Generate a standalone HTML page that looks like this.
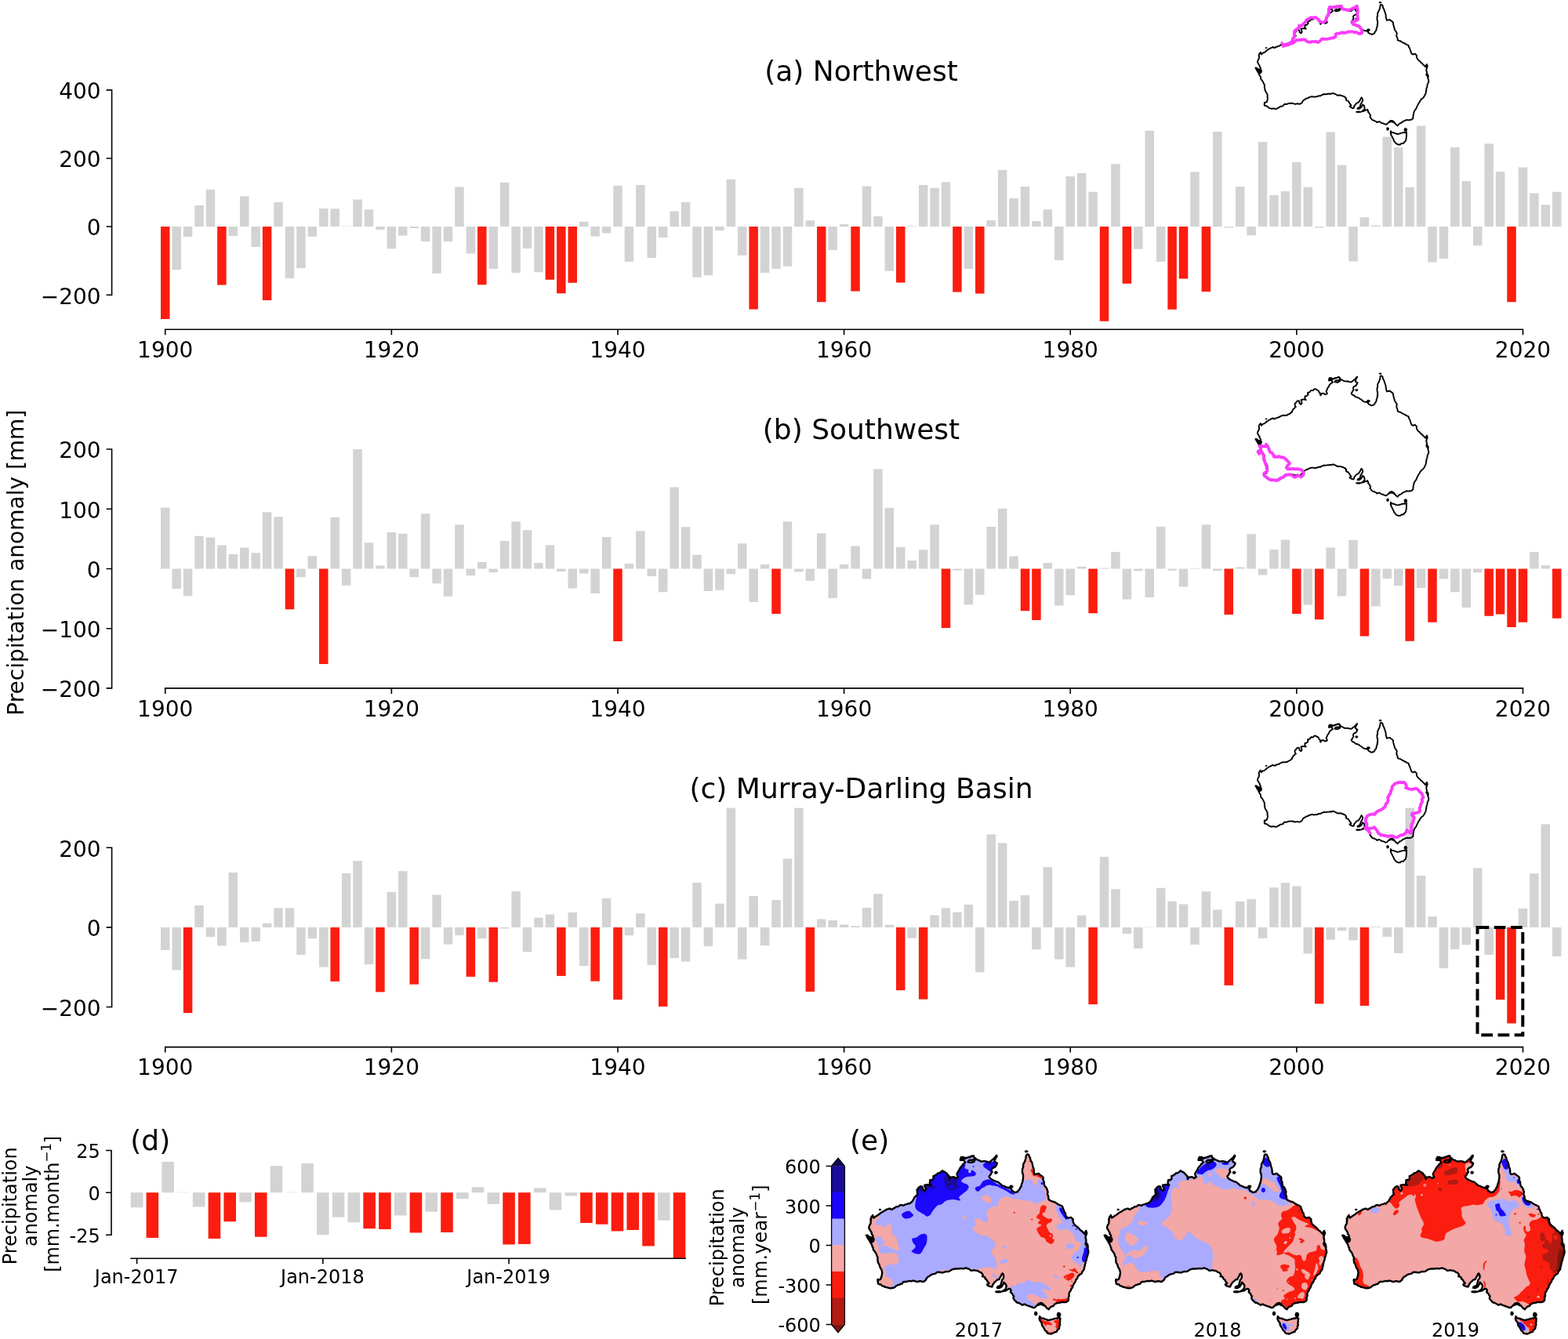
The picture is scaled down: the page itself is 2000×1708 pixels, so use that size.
<!DOCTYPE html>
<html lang="en">
<head>
<meta charset="utf-8">
<title>Precipitation anomaly &#8211; Australia</title>
<style>
html,body{margin:0;padding:0;background:#fff;}
body{width:2000px;height:1708px;overflow:hidden;}
svg{display:block;font-family:"DejaVu Sans", "Liberation Sans", sans-serif;fill:#000;}
</style>
</head>
<body>
<svg width="2000" height="1708" viewBox="0 0 2000 1708">
<rect x="0" y="0" width="2000" height="1708" fill="#fff"/>
<g id="panel-a">
<g fill="#d3d3d3"><rect x="219.43" y="289" width="11.5" height="55"/><rect x="233.86" y="289" width="11.5" height="13"/><rect x="248.29" y="262" width="11.5" height="27"/><rect x="262.72" y="241.75" width="11.5" height="47.25"/><rect x="291.59" y="289" width="11.5" height="12"/><rect x="306.02" y="250.25" width="11.5" height="38.75"/><rect x="320.45" y="289" width="11.5" height="26"/><rect x="349.31" y="258" width="11.5" height="31"/><rect x="363.74" y="289" width="11.5" height="66"/><rect x="378.17" y="289" width="11.5" height="53"/><rect x="392.6" y="289" width="11.5" height="12.75"/><rect x="407.03" y="266" width="11.5" height="23"/><rect x="421.46" y="266.25" width="11.5" height="22.75"/><rect x="435.9" y="288.5" width="11.5" height="0.5"/><rect x="450.33" y="254.5" width="11.5" height="34.5"/><rect x="464.76" y="267.25" width="11.5" height="21.75"/><rect x="479.19" y="289" width="11.5" height="4"/><rect x="493.62" y="289" width="11.5" height="28.25"/><rect x="508.05" y="289" width="11.5" height="11.5"/><rect x="522.48" y="289" width="11.5" height="2"/><rect x="536.91" y="289" width="11.5" height="19"/><rect x="551.34" y="289" width="11.5" height="59.75"/><rect x="565.77" y="289" width="11.5" height="19"/><rect x="580.21" y="238.5" width="11.5" height="50.5"/><rect x="594.64" y="289" width="11.5" height="34.5"/><rect x="623.5" y="289" width="11.5" height="54"/><rect x="637.93" y="232.75" width="11.5" height="56.25"/><rect x="652.36" y="289" width="11.5" height="59"/><rect x="666.79" y="289" width="11.5" height="28"/><rect x="681.22" y="289" width="11.5" height="58.25"/><rect x="738.95" y="282.75" width="11.5" height="6.25"/><rect x="753.38" y="289" width="11.5" height="12.5"/><rect x="767.81" y="289" width="11.5" height="8.5"/><rect x="782.24" y="236.75" width="11.5" height="52.25"/><rect x="796.67" y="289" width="11.5" height="44.75"/><rect x="811.1" y="236" width="11.5" height="53"/><rect x="825.53" y="289" width="11.5" height="40"/><rect x="839.96" y="289" width="11.5" height="14"/><rect x="854.39" y="269.5" width="11.5" height="19.5"/><rect x="868.83" y="257.75" width="11.5" height="31.25"/><rect x="883.26" y="289" width="11.5" height="64.75"/><rect x="897.69" y="289" width="11.5" height="62.25"/><rect x="912.12" y="289" width="11.5" height="5"/><rect x="926.55" y="228.75" width="11.5" height="60.25"/><rect x="940.98" y="289" width="11.5" height="36.75"/><rect x="969.84" y="289" width="11.5" height="59"/><rect x="984.27" y="289" width="11.5" height="54"/><rect x="998.7" y="289" width="11.5" height="50.75"/><rect x="1013.14" y="239.75" width="11.5" height="49.25"/><rect x="1027.57" y="281.25" width="11.5" height="7.75"/><rect x="1056.43" y="289" width="11.5" height="30"/><rect x="1070.86" y="286" width="11.5" height="3"/><rect x="1099.72" y="237.5" width="11.5" height="51.5"/><rect x="1114.15" y="276" width="11.5" height="13"/><rect x="1128.58" y="289" width="11.5" height="56.75"/><rect x="1157.45" y="288.25" width="11.5" height="0.75"/><rect x="1171.88" y="236" width="11.5" height="53"/><rect x="1186.31" y="239.75" width="11.5" height="49.25"/><rect x="1200.74" y="232.25" width="11.5" height="56.75"/><rect x="1229.6" y="289" width="11.5" height="54"/><rect x="1258.46" y="281" width="11.5" height="8"/><rect x="1272.89" y="216.75" width="11.5" height="72.25"/><rect x="1287.33" y="253" width="11.5" height="36"/><rect x="1301.76" y="238" width="11.5" height="51"/><rect x="1316.19" y="282" width="11.5" height="7"/><rect x="1330.62" y="267.25" width="11.5" height="21.75"/><rect x="1345.05" y="289" width="11.5" height="43"/><rect x="1359.48" y="225" width="11.5" height="64"/><rect x="1373.91" y="220.75" width="11.5" height="68.25"/><rect x="1388.34" y="244.75" width="11.5" height="44.25"/><rect x="1417.2" y="209.25" width="11.5" height="79.75"/><rect x="1446.07" y="289" width="11.5" height="28.75"/><rect x="1460.5" y="166.75" width="11.5" height="122.25"/><rect x="1474.93" y="289" width="11.5" height="44.75"/><rect x="1518.22" y="219.25" width="11.5" height="69.75"/><rect x="1547.08" y="168" width="11.5" height="121"/><rect x="1561.51" y="289" width="11.5" height="1.5"/><rect x="1575.94" y="238" width="11.5" height="51"/><rect x="1590.38" y="289" width="11.5" height="11.25"/><rect x="1604.81" y="181" width="11.5" height="108"/><rect x="1619.24" y="249" width="11.5" height="40"/><rect x="1633.67" y="244" width="11.5" height="45"/><rect x="1648.1" y="206.75" width="11.5" height="82.25"/><rect x="1662.53" y="238.75" width="11.5" height="50.25"/><rect x="1676.96" y="289" width="11.5" height="1.5"/><rect x="1691.39" y="168.5" width="11.5" height="120.5"/><rect x="1705.82" y="210.5" width="11.5" height="78.5"/><rect x="1720.25" y="289" width="11.5" height="44.5"/><rect x="1734.69" y="277.25" width="11.5" height="11.75"/><rect x="1749.12" y="287.5" width="11.5" height="1.5"/><rect x="1763.55" y="174.5" width="11.5" height="114.5"/><rect x="1777.98" y="188" width="11.5" height="101"/><rect x="1792.41" y="238.75" width="11.5" height="50.25"/><rect x="1806.84" y="160.5" width="11.5" height="128.5"/><rect x="1821.27" y="289" width="11.5" height="45.5"/><rect x="1835.7" y="289" width="11.5" height="41"/><rect x="1850.13" y="188" width="11.5" height="101"/><rect x="1864.56" y="231" width="11.5" height="58"/><rect x="1879" y="289" width="11.5" height="24.25"/><rect x="1893.43" y="183.25" width="11.5" height="105.75"/><rect x="1907.86" y="219" width="11.5" height="70"/><rect x="1936.72" y="213.5" width="11.5" height="75.5"/><rect x="1951.15" y="246.5" width="11.5" height="42.5"/><rect x="1965.58" y="261.25" width="11.5" height="27.75"/><rect x="1980.01" y="244.75" width="11.5" height="44.25"/></g>
<g fill="#fb1d0f"><rect x="205" y="289" width="11.5" height="118"/><rect x="277.15" y="289" width="11.5" height="74.5"/><rect x="334.88" y="289" width="11.5" height="94"/><rect x="609.07" y="289" width="11.5" height="74.25"/><rect x="695.65" y="289" width="11.5" height="67.75"/><rect x="710.09" y="289" width="11.5" height="85.25"/><rect x="724.52" y="289" width="11.5" height="71.75"/><rect x="955.41" y="289" width="11.5" height="105.5"/><rect x="1042" y="289" width="11.5" height="96.25"/><rect x="1085.29" y="289" width="11.5" height="82.5"/><rect x="1143.01" y="289" width="11.5" height="71.5"/><rect x="1215.17" y="289" width="11.5" height="83.5"/><rect x="1244.03" y="289" width="11.5" height="85.5"/><rect x="1402.77" y="289" width="11.5" height="120.75"/><rect x="1431.63" y="289" width="11.5" height="72.75"/><rect x="1489.36" y="289" width="11.5" height="105.75"/><rect x="1503.79" y="289" width="11.5" height="66.5"/><rect x="1532.65" y="289" width="11.5" height="83"/><rect x="1922.29" y="289" width="11.5" height="96.25"/></g>
<path d="M142.6 114.1V377M135.6 114.9H142.6M135.6 202H142.6M135.6 289H142.6M135.6 376.2H142.6M209.95 420.3H1943.27M210.75 420.3V427.3M499.37 420.3V427.3M787.99 420.3V427.3M1076.61 420.3V427.3M1365.23 420.3V427.3M1653.85 420.3V427.3M1942.47 420.3V427.3" fill="none" stroke="#000" stroke-width="1.6"/>
<g font-size="28" text-anchor="end">
<text x="128.6" y="126.2">400</text>
<text x="128.6" y="213.3">200</text>
<text x="128.6" y="300.3">0</text>
<text x="128.6" y="387.5">−200</text>
</g>
<g font-size="28" text-anchor="middle">
<text x="210.75" y="455.9">1900</text>
<text x="499.37" y="455.9">1920</text>
<text x="787.99" y="455.9">1940</text>
<text x="1076.61" y="455.9">1960</text>
<text x="1365.23" y="455.9">1980</text>
<text x="1653.85" y="455.9">2000</text>
<text x="1942.47" y="455.9">2020</text>
</g>
<text x="1098.5" y="102.8" font-size="36" text-anchor="middle">(a) Northwest</text>
</g>
<g id="panel-b">
<g fill="#d3d3d3"><rect x="205" y="647.5" width="11.5" height="78"/><rect x="219.43" y="725.5" width="11.5" height="25.5"/><rect x="233.86" y="725.5" width="11.5" height="34.75"/><rect x="248.29" y="683.75" width="11.5" height="41.75"/><rect x="262.72" y="685.5" width="11.5" height="40"/><rect x="277.15" y="695.5" width="11.5" height="30"/><rect x="291.59" y="707" width="11.5" height="18.5"/><rect x="306.02" y="698.5" width="11.5" height="27"/><rect x="320.45" y="705.25" width="11.5" height="20.25"/><rect x="334.88" y="653.25" width="11.5" height="72.25"/><rect x="349.31" y="659.25" width="11.5" height="66.25"/><rect x="378.17" y="725.5" width="11.5" height="10.75"/><rect x="392.6" y="709.25" width="11.5" height="16.25"/><rect x="421.46" y="659.75" width="11.5" height="65.75"/><rect x="435.9" y="725.5" width="11.5" height="21.25"/><rect x="450.33" y="573" width="11.5" height="152.5"/><rect x="464.76" y="692.25" width="11.5" height="33.25"/><rect x="479.19" y="721.5" width="11.5" height="4"/><rect x="493.62" y="679" width="11.5" height="46.5"/><rect x="508.05" y="680.75" width="11.5" height="44.75"/><rect x="522.48" y="725.5" width="11.5" height="10.75"/><rect x="536.91" y="655.25" width="11.5" height="70.25"/><rect x="551.34" y="725.5" width="11.5" height="18.75"/><rect x="565.77" y="725.5" width="11.5" height="35.25"/><rect x="580.21" y="669.25" width="11.5" height="56.25"/><rect x="594.64" y="725.5" width="11.5" height="8.75"/><rect x="609.07" y="717" width="11.5" height="8.5"/><rect x="623.5" y="725.5" width="11.5" height="4.5"/><rect x="637.93" y="690" width="11.5" height="35.5"/><rect x="652.36" y="665.25" width="11.5" height="60.25"/><rect x="666.79" y="676.25" width="11.5" height="49.25"/><rect x="681.22" y="718" width="11.5" height="7.5"/><rect x="695.65" y="695.25" width="11.5" height="30.25"/><rect x="710.09" y="725.5" width="11.5" height="3.5"/><rect x="724.52" y="725.5" width="11.5" height="25"/><rect x="738.95" y="725.5" width="11.5" height="6"/><rect x="753.38" y="725.5" width="11.5" height="31.5"/><rect x="767.81" y="685" width="11.5" height="40.5"/><rect x="796.67" y="719" width="11.5" height="6.5"/><rect x="811.1" y="677.25" width="11.5" height="48.25"/><rect x="825.53" y="725.5" width="11.5" height="9.5"/><rect x="839.96" y="725.5" width="11.5" height="29.75"/><rect x="854.39" y="621.5" width="11.5" height="104"/><rect x="868.83" y="672.25" width="11.5" height="53.25"/><rect x="883.26" y="707.75" width="11.5" height="17.75"/><rect x="897.69" y="725.5" width="11.5" height="28.5"/><rect x="912.12" y="725.5" width="11.5" height="27.25"/><rect x="926.55" y="725.5" width="11.5" height="6.75"/><rect x="940.98" y="693.25" width="11.5" height="32.25"/><rect x="955.41" y="725.5" width="11.5" height="42.5"/><rect x="969.84" y="720" width="11.5" height="5.5"/><rect x="998.7" y="665.25" width="11.5" height="60.25"/><rect x="1013.14" y="725.5" width="11.5" height="4"/><rect x="1027.57" y="725.5" width="11.5" height="15.25"/><rect x="1042" y="680.25" width="11.5" height="45.25"/><rect x="1056.43" y="725.5" width="11.5" height="37.5"/><rect x="1070.86" y="720" width="11.5" height="5.5"/><rect x="1085.29" y="696.5" width="11.5" height="29"/><rect x="1099.72" y="725.5" width="11.5" height="13"/><rect x="1114.15" y="598.25" width="11.5" height="127.25"/><rect x="1128.58" y="647.75" width="11.5" height="77.75"/><rect x="1143.01" y="697.75" width="11.5" height="27.75"/><rect x="1157.45" y="715" width="11.5" height="10.5"/><rect x="1171.88" y="701.25" width="11.5" height="24.25"/><rect x="1186.31" y="669.25" width="11.5" height="56.25"/><rect x="1215.17" y="725.5" width="11.5" height="2"/><rect x="1229.6" y="725.5" width="11.5" height="45.75"/><rect x="1244.03" y="725.5" width="11.5" height="33.25"/><rect x="1258.46" y="672" width="11.5" height="53.5"/><rect x="1272.89" y="648.75" width="11.5" height="76.75"/><rect x="1287.33" y="709.5" width="11.5" height="16"/><rect x="1330.62" y="718" width="11.5" height="7.5"/><rect x="1345.05" y="725.5" width="11.5" height="47"/><rect x="1359.48" y="725.5" width="11.5" height="33.75"/><rect x="1373.91" y="722.75" width="11.5" height="2.75"/><rect x="1402.77" y="724.5" width="11.5" height="1"/><rect x="1417.2" y="704" width="11.5" height="21.5"/><rect x="1431.63" y="725.5" width="11.5" height="39"/><rect x="1446.07" y="725.5" width="11.5" height="2.75"/><rect x="1460.5" y="725.5" width="11.5" height="36.5"/><rect x="1474.93" y="671.75" width="11.5" height="53.75"/><rect x="1489.36" y="725.5" width="11.5" height="2.25"/><rect x="1503.79" y="725.5" width="11.5" height="23"/><rect x="1518.22" y="724.75" width="11.5" height="0.75"/><rect x="1532.65" y="669.25" width="11.5" height="56.25"/><rect x="1547.08" y="725.5" width="11.5" height="2.5"/><rect x="1575.94" y="723.5" width="11.5" height="2"/><rect x="1590.38" y="681.25" width="11.5" height="44.25"/><rect x="1604.81" y="725.5" width="11.5" height="8"/><rect x="1619.24" y="701" width="11.5" height="24.5"/><rect x="1633.67" y="688.5" width="11.5" height="37"/><rect x="1662.53" y="725.5" width="11.5" height="46"/><rect x="1691.39" y="698.5" width="11.5" height="27"/><rect x="1705.82" y="725.5" width="11.5" height="35"/><rect x="1720.25" y="689" width="11.5" height="36.5"/><rect x="1749.12" y="725.5" width="11.5" height="48"/><rect x="1763.55" y="725.5" width="11.5" height="12.5"/><rect x="1777.98" y="725.5" width="11.5" height="21.5"/><rect x="1806.84" y="725.5" width="11.5" height="24.5"/><rect x="1835.7" y="725.5" width="11.5" height="13"/><rect x="1850.13" y="725.5" width="11.5" height="29.75"/><rect x="1864.56" y="725.5" width="11.5" height="49.5"/><rect x="1879" y="725.5" width="11.5" height="4.75"/><rect x="1951.15" y="704" width="11.5" height="21.5"/><rect x="1965.58" y="721.25" width="11.5" height="4.25"/></g>
<g fill="#fb1d0f"><rect x="363.74" y="725.5" width="11.5" height="51.75"/><rect x="407.03" y="725.5" width="11.5" height="121.5"/><rect x="782.24" y="725.5" width="11.5" height="92.5"/><rect x="984.27" y="725.5" width="11.5" height="57.5"/><rect x="1200.74" y="725.5" width="11.5" height="75.5"/><rect x="1301.76" y="725.5" width="11.5" height="53.75"/><rect x="1316.19" y="725.5" width="11.5" height="65.5"/><rect x="1388.34" y="725.5" width="11.5" height="56.75"/><rect x="1561.51" y="725.5" width="11.5" height="58.5"/><rect x="1648.1" y="725.5" width="11.5" height="57.5"/><rect x="1676.96" y="725.5" width="11.5" height="64.75"/><rect x="1734.69" y="725.5" width="11.5" height="86"/><rect x="1792.41" y="725.5" width="11.5" height="92.25"/><rect x="1821.27" y="725.5" width="11.5" height="68.25"/><rect x="1893.43" y="725.5" width="11.5" height="60.25"/><rect x="1907.86" y="725.5" width="11.5" height="58"/><rect x="1922.29" y="725.5" width="11.5" height="74.5"/><rect x="1936.72" y="725.5" width="11.5" height="68.25"/><rect x="1980.01" y="725.5" width="11.5" height="63.25"/></g>
<path d="M142.6 572.2V878.7M135.6 573H142.6M135.6 649.3H142.6M135.6 725.5H142.6M135.6 801.8H142.6M135.6 877.9H142.6M209.95 877.9H1943.27M210.75 877.9V884.9M499.37 877.9V884.9M787.99 877.9V884.9M1076.61 877.9V884.9M1365.23 877.9V884.9M1653.85 877.9V884.9M1942.47 877.9V884.9" fill="none" stroke="#000" stroke-width="1.6"/>
<g font-size="28" text-anchor="end">
<text x="128.6" y="584.3">200</text>
<text x="128.6" y="660.6">100</text>
<text x="128.6" y="736.8">0</text>
<text x="128.6" y="813.1">−100</text>
<text x="128.6" y="889.2">−200</text>
</g>
<g font-size="28" text-anchor="middle">
<text x="210.75" y="913.5">1900</text>
<text x="499.37" y="913.5">1920</text>
<text x="787.99" y="913.5">1940</text>
<text x="1076.61" y="913.5">1960</text>
<text x="1365.23" y="913.5">1980</text>
<text x="1653.85" y="913.5">2000</text>
<text x="1942.47" y="913.5">2020</text>
</g>
<text x="1098.5" y="560.3" font-size="36" text-anchor="middle">(b) Southwest</text>
</g>
<g id="panel-c">
<g fill="#d3d3d3"><rect x="205" y="1182.9" width="11.5" height="29"/><rect x="219.43" y="1182.9" width="11.5" height="54.5"/><rect x="248.29" y="1154.9" width="11.5" height="28"/><rect x="262.72" y="1182.9" width="11.5" height="12.25"/><rect x="277.15" y="1182.9" width="11.5" height="23.5"/><rect x="291.59" y="1112.9" width="11.5" height="70"/><rect x="306.02" y="1182.9" width="11.5" height="19"/><rect x="320.45" y="1182.9" width="11.5" height="18"/><rect x="334.88" y="1177.65" width="11.5" height="5.25"/><rect x="349.31" y="1158.4" width="11.5" height="24.5"/><rect x="363.74" y="1158.4" width="11.5" height="24.5"/><rect x="378.17" y="1182.9" width="11.5" height="35"/><rect x="392.6" y="1182.9" width="11.5" height="14.25"/><rect x="407.03" y="1182.9" width="11.5" height="50.75"/><rect x="435.9" y="1113.9" width="11.5" height="69"/><rect x="450.33" y="1098.15" width="11.5" height="84.75"/><rect x="464.76" y="1182.9" width="11.5" height="47.25"/><rect x="493.62" y="1137.65" width="11.5" height="45.25"/><rect x="508.05" y="1111.15" width="11.5" height="71.75"/><rect x="536.91" y="1182.9" width="11.5" height="40.5"/><rect x="551.34" y="1141.4" width="11.5" height="41.5"/><rect x="565.77" y="1182.9" width="11.5" height="21.75"/><rect x="580.21" y="1182.9" width="11.5" height="10.25"/><rect x="609.07" y="1182.9" width="11.5" height="14.25"/><rect x="637.93" y="1182.9" width="11.5" height="1.5"/><rect x="652.36" y="1136.9" width="11.5" height="46"/><rect x="666.79" y="1182.9" width="11.5" height="31.25"/><rect x="681.22" y="1170.65" width="11.5" height="12.25"/><rect x="695.65" y="1166.4" width="11.5" height="16.5"/><rect x="724.52" y="1163.9" width="11.5" height="19"/><rect x="738.95" y="1182.9" width="11.5" height="49.25"/><rect x="767.81" y="1145.9" width="11.5" height="37"/><rect x="796.67" y="1182.9" width="11.5" height="10.25"/><rect x="811.1" y="1165.15" width="11.5" height="17.75"/><rect x="825.53" y="1182.9" width="11.5" height="48"/><rect x="854.39" y="1182.9" width="11.5" height="39.25"/><rect x="868.83" y="1182.9" width="11.5" height="43.75"/><rect x="883.26" y="1125.9" width="11.5" height="57"/><rect x="897.69" y="1182.9" width="11.5" height="24.25"/><rect x="912.12" y="1152.65" width="11.5" height="30.25"/><rect x="926.55" y="1030.65" width="11.5" height="152.25"/><rect x="940.98" y="1182.9" width="11.5" height="40.75"/><rect x="955.41" y="1142.9" width="11.5" height="40"/><rect x="969.84" y="1182.9" width="11.5" height="23.25"/><rect x="984.27" y="1148.15" width="11.5" height="34.75"/><rect x="998.7" y="1095.4" width="11.5" height="87.5"/><rect x="1013.14" y="1030.65" width="11.5" height="152.25"/><rect x="1042" y="1172.4" width="11.5" height="10.5"/><rect x="1056.43" y="1173.9" width="11.5" height="9"/><rect x="1070.86" y="1179.4" width="11.5" height="3.5"/><rect x="1085.29" y="1181.15" width="11.5" height="1.75"/><rect x="1099.72" y="1157.9" width="11.5" height="25"/><rect x="1114.15" y="1140.15" width="11.5" height="42.75"/><rect x="1128.58" y="1179.65" width="11.5" height="3.25"/><rect x="1157.45" y="1182.9" width="11.5" height="13.75"/><rect x="1186.31" y="1167.4" width="11.5" height="15.5"/><rect x="1200.74" y="1158.4" width="11.5" height="24.5"/><rect x="1215.17" y="1163.65" width="11.5" height="19.25"/><rect x="1229.6" y="1153.9" width="11.5" height="29"/><rect x="1244.03" y="1182.9" width="11.5" height="57.25"/><rect x="1258.46" y="1064.4" width="11.5" height="118.5"/><rect x="1272.89" y="1075.4" width="11.5" height="107.5"/><rect x="1287.33" y="1148.9" width="11.5" height="34"/><rect x="1301.76" y="1141.9" width="11.5" height="41"/><rect x="1316.19" y="1182.9" width="11.5" height="28.25"/><rect x="1330.62" y="1105.9" width="11.5" height="77"/><rect x="1345.05" y="1182.9" width="11.5" height="40.75"/><rect x="1359.48" y="1182.9" width="11.5" height="50.75"/><rect x="1373.91" y="1167.65" width="11.5" height="15.25"/><rect x="1402.77" y="1092.9" width="11.5" height="90"/><rect x="1417.2" y="1134.15" width="11.5" height="48.75"/><rect x="1431.63" y="1182.9" width="11.5" height="8.25"/><rect x="1446.07" y="1182.9" width="11.5" height="27"/><rect x="1460.5" y="1182.4" width="11.5" height="0.5"/><rect x="1474.93" y="1132.65" width="11.5" height="50.25"/><rect x="1489.36" y="1149.65" width="11.5" height="33.25"/><rect x="1503.79" y="1153.4" width="11.5" height="29.5"/><rect x="1518.22" y="1182.9" width="11.5" height="22"/><rect x="1532.65" y="1137.15" width="11.5" height="45.75"/><rect x="1547.08" y="1160.4" width="11.5" height="22.5"/><rect x="1575.94" y="1149.9" width="11.5" height="33"/><rect x="1590.38" y="1146.9" width="11.5" height="36"/><rect x="1604.81" y="1182.9" width="11.5" height="14"/><rect x="1619.24" y="1132.15" width="11.5" height="50.75"/><rect x="1633.67" y="1126.15" width="11.5" height="56.75"/><rect x="1648.1" y="1130.4" width="11.5" height="52.5"/><rect x="1662.53" y="1182.9" width="11.5" height="33.5"/><rect x="1691.39" y="1182.9" width="11.5" height="15.75"/><rect x="1705.82" y="1182.9" width="11.5" height="4.25"/><rect x="1720.25" y="1182.9" width="11.5" height="16.5"/><rect x="1749.12" y="1182.15" width="11.5" height="0.75"/><rect x="1763.55" y="1182.9" width="11.5" height="12"/><rect x="1777.98" y="1182.9" width="11.5" height="33"/><rect x="1792.41" y="1030.65" width="11.5" height="152.25"/><rect x="1806.84" y="1116.9" width="11.5" height="66"/><rect x="1821.27" y="1169.15" width="11.5" height="13.75"/><rect x="1835.7" y="1182.9" width="11.5" height="52.25"/><rect x="1850.13" y="1182.9" width="11.5" height="28"/><rect x="1864.56" y="1182.9" width="11.5" height="22.25"/><rect x="1879" y="1107.15" width="11.5" height="75.75"/><rect x="1893.43" y="1182.9" width="11.5" height="35"/><rect x="1936.72" y="1158.9" width="11.5" height="24"/><rect x="1951.15" y="1114.15" width="11.5" height="68.75"/><rect x="1965.58" y="1051.4" width="11.5" height="131.5"/><rect x="1980.01" y="1182.9" width="11.5" height="37"/></g>
<g fill="#fb1d0f"><rect x="233.86" y="1182.9" width="11.5" height="109.25"/><rect x="421.46" y="1182.9" width="11.5" height="69"/><rect x="479.19" y="1182.9" width="11.5" height="82.5"/><rect x="522.48" y="1182.9" width="11.5" height="72.75"/><rect x="594.64" y="1182.9" width="11.5" height="63"/><rect x="623.5" y="1182.9" width="11.5" height="69.75"/><rect x="710.09" y="1182.9" width="11.5" height="62"/><rect x="753.38" y="1182.9" width="11.5" height="68.75"/><rect x="782.24" y="1182.9" width="11.5" height="92.25"/><rect x="839.96" y="1182.9" width="11.5" height="101"/><rect x="1027.57" y="1182.9" width="11.5" height="82"/><rect x="1143.01" y="1182.9" width="11.5" height="80.25"/><rect x="1171.88" y="1182.9" width="11.5" height="91.75"/><rect x="1388.34" y="1182.9" width="11.5" height="98.25"/><rect x="1561.51" y="1182.9" width="11.5" height="74"/><rect x="1676.96" y="1182.9" width="11.5" height="97.5"/><rect x="1734.69" y="1182.9" width="11.5" height="100"/><rect x="1907.86" y="1182.9" width="11.5" height="92.25"/><rect x="1922.29" y="1182.9" width="11.5" height="122.5"/></g>
<path d="M142.6 1080.5V1285.3M135.6 1081.3H142.6M135.6 1182.9H142.6M135.6 1284.5H142.6M209.95 1335.6H1943.27M210.75 1335.6V1342.6M499.37 1335.6V1342.6M787.99 1335.6V1342.6M1076.61 1335.6V1342.6M1365.23 1335.6V1342.6M1653.85 1335.6V1342.6M1942.47 1335.6V1342.6" fill="none" stroke="#000" stroke-width="1.6"/>
<g font-size="28" text-anchor="end">
<text x="128.6" y="1092.6">200</text>
<text x="128.6" y="1194.2">0</text>
<text x="128.6" y="1295.8">−200</text>
</g>
<g font-size="28" text-anchor="middle">
<text x="210.75" y="1371.2">1900</text>
<text x="499.37" y="1371.2">1920</text>
<text x="787.99" y="1371.2">1940</text>
<text x="1076.61" y="1371.2">1960</text>
<text x="1365.23" y="1371.2">1980</text>
<text x="1653.85" y="1371.2">2000</text>
<text x="1942.47" y="1371.2">2020</text>
</g>
<text x="1098.5" y="1018.3" font-size="36" text-anchor="middle">(c) Murray-Darling Basin</text>
<rect x="1884.5" y="1183.1" width="57.8" height="137.2" fill="none" stroke="#000" stroke-width="4" stroke-dasharray="14.8 6.4"/>
</g>
<text transform="translate(30 717.7) rotate(-90)" font-size="28" text-anchor="middle">Precipitation anomaly [mm]</text>
<g id="panel-d">
<g fill="#d3d3d3"><rect x="166.8" y="1521.2" width="15.6" height="19"/><rect x="206.34" y="1481.95" width="15.6" height="39.25"/><rect x="226.11" y="1520.7" width="15.6" height="0.5"/><rect x="245.88" y="1521.2" width="15.6" height="18.25"/><rect x="305.19" y="1521.2" width="15.6" height="12.25"/><rect x="344.73" y="1487.2" width="15.6" height="34"/><rect x="364.5" y="1520.7" width="15.6" height="0.5"/><rect x="384.27" y="1483.95" width="15.6" height="37.25"/><rect x="404.04" y="1521.2" width="15.6" height="54"/><rect x="423.81" y="1521.2" width="15.6" height="31.5"/><rect x="443.58" y="1521.2" width="15.6" height="38"/><rect x="502.89" y="1521.2" width="15.6" height="29.25"/><rect x="542.43" y="1521.2" width="15.6" height="24.5"/><rect x="581.97" y="1521.2" width="15.6" height="8"/><rect x="601.74" y="1514.2" width="15.6" height="7"/><rect x="621.51" y="1521.2" width="15.6" height="14.75"/><rect x="680.82" y="1515.45" width="15.6" height="5.75"/><rect x="700.59" y="1521.2" width="15.6" height="22.25"/><rect x="720.36" y="1521.2" width="15.6" height="4.25"/><rect x="838.98" y="1521.2" width="15.6" height="35.5"/></g>
<g fill="#fb1d0f"><rect x="186.57" y="1521.2" width="15.6" height="57.75"/><rect x="265.65" y="1521.2" width="15.6" height="58.75"/><rect x="285.42" y="1521.2" width="15.6" height="37"/><rect x="324.96" y="1521.2" width="15.6" height="56.5"/><rect x="463.35" y="1521.2" width="15.6" height="46"/><rect x="483.12" y="1521.2" width="15.6" height="46.75"/><rect x="522.66" y="1521.2" width="15.6" height="51.25"/><rect x="562.2" y="1521.2" width="15.6" height="50.75"/><rect x="641.28" y="1521.2" width="15.6" height="66.25"/><rect x="661.05" y="1521.2" width="15.6" height="65.75"/><rect x="740.13" y="1521.2" width="15.6" height="38.75"/><rect x="759.9" y="1521.2" width="15.6" height="40.5"/><rect x="779.67" y="1521.2" width="15.6" height="49.25"/><rect x="799.44" y="1521.2" width="15.6" height="47.75"/><rect x="819.21" y="1521.2" width="15.6" height="68.25"/><rect x="858.75" y="1521.2" width="15.6" height="83.75"/></g>
<path d="M142 1466.7V1576M135 1467.5H142M135 1521.2H142M135 1575.2H142M166.3 1605.3H874.85M174.6 1605.3V1612.3M411.84 1605.3V1612.3M649.08 1605.3V1612.3" fill="none" stroke="#000" stroke-width="1.6"/>
<g font-size="24" text-anchor="end">
<text x="127.7" y="1476.8">25</text>
<text x="127.7" y="1530.5">0</text>
<text x="127.7" y="1584.5">-25</text>
</g>
<g font-size="24" text-anchor="middle">
<text x="174.2" y="1637.2">Jan-2017</text>
<text x="411.44" y="1637.2">Jan-2018</text>
<text x="648.68" y="1637.2">Jan-2019</text>
</g>
<text x="166.3" y="1467.3" font-size="36">(d)</text>
<g font-size="24" text-anchor="middle">
<text transform="translate(21 1538.3) rotate(-90)">Precipitation</text>
<text transform="translate(47.3 1538.3) rotate(-90)">anomaly</text>
<text transform="translate(74.6 1535.9) rotate(-90)" letter-spacing="-0.19">[mm.month<tspan font-size="16.8" dy="-9.2">−1</tspan><tspan dy="9.2">]</tspan></text>
</g>
</g>
<g id="panel-e">
<g font-size="24" text-anchor="middle">
<text transform="translate(922.5 1591.3) rotate(-90)">Precipitation</text>
<text transform="translate(948.8 1591.3) rotate(-90)">anomaly</text>
<text transform="translate(978.2 1587.7) rotate(-90)" letter-spacing="0.13">[mm.year<tspan font-size="16.8" dy="-9.2">−1</tspan><tspan dy="9.2">]</tspan></text>
</g>
<rect x="1060.6" y="1487.2" width="16.8" height="34.27" fill="#1b0c9c"/>
<rect x="1060.6" y="1520.87" width="16.8" height="34.27" fill="#1b06fb"/>
<rect x="1060.6" y="1554.53" width="16.8" height="34.27" fill="#aaaaff"/>
<rect x="1060.6" y="1588.2" width="16.8" height="34.27" fill="#f5a8a6"/>
<rect x="1060.6" y="1621.87" width="16.8" height="34.27" fill="#fb1d0f"/>
<rect x="1060.6" y="1655.53" width="16.8" height="34.27" fill="#b31a12"/>
<path d="M1060.6 1487.5L1069 1477.2L1077.4 1487.5Z" fill="#0e0a58"/>
<path d="M1060.6 1689.5L1069 1699.8L1077.4 1689.5Z" fill="#7a150f"/>
<path d="M1060.6 1487.5L1069 1477.2L1077.4 1487.5V1689.5L1069 1699.8L1060.6 1689.5Z" fill="none" stroke="#000" stroke-width="1.3" stroke-linejoin="miter"/>
<path d="M1053.6 1487.5H1060.6M1053.6 1538H1060.6M1053.6 1588.5H1060.6M1053.6 1639H1060.6M1053.6 1689.5H1060.6" fill="none" stroke="#000" stroke-width="1.6"/>
<g font-size="24" text-anchor="end">
<text x="1046.9" y="1497.2">600</text>
<text x="1046.9" y="1547.7">300</text>
<text x="1046.9" y="1598.2">0</text>
<text x="1046.9" y="1648.7">-300</text>
<text x="1046.9" y="1699.2">-600</text>
</g>
<text x="1084" y="1467.3" font-size="36">(e)</text>
<g font-size="24" text-anchor="middle">
<text x="1248.4" y="1704.6">2017</text>
<text x="1553" y="1704.6">2018</text>
<text x="1856.5" y="1704.6">2019</text>
</g>
</g>
<g id="inset-a"><g fill="none" stroke="#000" stroke-width="1.9" stroke-linejoin="round" stroke-linecap="round"><path d="M1605.6 93.7L1605 92.6L1604.7 91.3L1603.7 90.3L1603.1 89.1L1602.6 88L1601.9 86.7L1603.1 87.5L1604.4 88.1L1605.7 88.7L1607.2 88.6L1608.4 89.4L1607.8 88.4L1608 87.2L1607.6 86.2L1606.7 85.3L1606.8 84L1606.1 83L1605.5 82L1605 81L1604.2 80L1604 78.7L1604.4 77.5L1604.9 76L1605.8 75L1605.9 73.4L1606.1 71.9L1605.6 70.6L1606 69.3L1606.7 68.2L1607.2 67.3L1607.8 66.6L1608.3 67.9L1608.8 69.4L1609.6 68.6L1610.3 67.8L1611.3 67.3L1612.5 67L1613.5 66.4L1614.4 65.7L1615.3 64.7L1616.3 64L1617.5 63.3L1618.6 62.3L1620.1 61.9L1621.2 60.9L1622.6 60.7L1623.8 59.9L1624.9 60.8L1626.3 61L1627.1 60L1628.2 59.7L1629.4 59.5L1630.4 58.9L1631.6 58.9L1632.5 58.1L1633.4 57.3L1634.6 57.2L1635.6 56.6L1637.2 56.4L1638.7 56.6L1640 56.2L1641.4 56.3L1642.5 55.7L1643.4 54.9L1644.5 54.6L1645.5 54.2L1646.5 53L1647.9 52.2L1648.1 50.9L1648.9 49.9L1649.4 48.7L1650.2 47.8L1651.3 47.2L1651.8 46.2L1652.9 45.6L1652.1 44.8L1651.8 43.7L1651.6 42.5L1651.7 41.2L1652.7 40.7L1653.2 39.8L1654.1 38.6L1655.3 37.9L1657 38.1L1657.3 39.3L1657.4 40.7L1658.4 41.6L1659.2 42.4L1660.4 41.4L1660.5 40L1660 39L1660 37.8L1659.4 36.8L1660.9 36.4L1662.5 36.1L1664.1 36.2L1665.7 36.8L1664.8 35.7L1664.4 34.4L1664.4 33.1L1664.7 31.8L1665.8 32.1L1666.9 31.5L1667.7 30.8L1668.6 30L1668 28.8L1668.1 27.3L1669.5 27.3L1670.7 26.6L1671.4 25.5L1672.5 24.5L1673.8 24.7L1675.1 24.5L1675.9 23.2L1677.1 22.6L1678.2 23.2L1679.3 23.4L1680.2 24.1L1681.3 24.6L1682 25.5L1682.5 27.1L1683.9 28.1L1683.9 29.5L1684.3 30.9L1685.2 29.9L1685.6 28.8L1686.9 28.4L1688.2 28.3L1689.3 29.3L1690.5 29.8L1691.6 29.2L1692.8 28.7L1692.4 27.3L1691.6 26.2L1691.9 24.9L1692.6 23.8L1692.9 22.6L1693.4 21.4L1694.3 20.6L1695 19.3L1695.5 18L1696.4 16.8L1697.5 15.9L1698.8 15L1699.9 14.1L1699.3 13.2L1698.8 12L1697.5 11.7L1696.3 11.8L1695.1 11.9L1695.4 10.8L1695.3 9.7L1696 8.6L1697.5 9L1698.8 10.1L1700 10L1701.3 9.8L1702.4 8.9L1703.8 8.9L1705 8.4L1706.1 8.3L1707 7.6L1707.9 7.6L1709.1 8.6L1709.4 10L1710 10.1L1710.9 10.9L1712 11.4L1713.1 11.9L1714.1 12.5L1715.1 13L1716.2 13L1717.8 13.1L1719.3 12.9L1720.3 13.5L1721.5 13.6L1722.6 14.1L1723.9 13.7L1725 12.8L1726.3 11.9L1727.5 10.9L1728.3 10.2L1729.1 9.4L1729.7 8.5L1731.1 7.1L1730.5 8.9L1729.7 10L1729.2 11.3L1728.8 13.1L1729.6 13.8L1730.6 14.3L1731.6 14.9L1730.8 15.7L1730.8 16.9L1729.8 17.7L1729.4 18.9L1728.1 19.1L1726.9 19.7L1726 21.2L1726.1 22.5L1726.6 23.7L1725.7 24.9L1724.9 26.1L1724.4 27.3L1723.6 28L1724.4 29.6L1725.3 30.4L1726.6 30.7L1727.6 31.4L1728.6 32.6L1730 33.2L1731.3 33.4L1732.4 33.9L1733.8 34.6L1735 35.7L1736.4 36.3L1737.5 37.5L1738.6 38.3L1740 38.9L1741 39.3L1742.1 39.3L1743.2 39.7L1744 38.5L1745 37.3L1745.9 37.8L1746.8 38L1745.7 39.2L1744.9 40.6L1745.3 41.7L1746.3 42.4L1747.4 42.8L1748.4 43.5L1749.4 44L1750.6 43.5L1751.8 43.4L1752.9 42.4L1753.7 41.2L1754.1 40.1L1755 39.3L1755.5 38.2L1755.7 36.8L1755.8 35.5L1756.4 34.3L1757.1 33.1L1756.6 31.8L1757.3 30.6L1757.2 29.4L1757 28.1L1757.3 26.8L1756.6 25.7L1756.5 24.4L1756.5 23.1L1756.4 21.8L1757.2 20.6L1757.1 19.3L1757.1 18.1L1757.2 16.8L1757.9 15.6L1758.4 14.3L1759.1 13.1L1759.5 11.9L1759.9 10.7L1760.2 9.4L1760.5 8L1760.6 6.4L1761.9 5.9L1762.8 6.5L1763.6 7.4L1763.8 8.5L1763.9 9.6L1764.5 10.5L1765.2 11.8L1765.7 13.1L1765.9 14.2L1766.4 15.2L1766.8 16.2L1767 17.5L1767.6 18.7L1767.7 20L1767.6 21.6L1768.3 23L1768.3 24.6L1769.1 26L1770.1 25.5L1771.2 25.6L1772.8 25L1773.7 26.2L1775 26.8L1776.1 27.8L1777 28.7L1777.1 30.3L1777.3 31.9L1777.8 33.4L1778.1 35L1778.7 36.2L1778.7 37.5L1779.5 38.9L1780.6 40L1780.9 41.1L1781.7 42L1781.7 43.1L1781.3 44.6L1781.4 46.3L1782 47.5L1782.4 48.7L1782.8 49.8L1782.7 51.1L1783.8 51.8L1785 52.1L1786.2 52.3L1787.1 53L1788.1 53.4L1789.3 54.4L1790.6 55L1791.8 55.2L1792.6 56.2L1793.8 56.4L1795.1 57.4L1796.7 57.8L1796.8 58.9L1796.8 60L1797.7 60.9L1798.3 62.1L1798.7 63.6L1799.3 65L1799.5 66.2L1800.1 67.3L1800.5 68.6L1801.6 68.9L1802.5 69.5L1803.7 68.7L1805.1 68.6L1805.9 69.7L1807 70.6L1806.8 72.2L1807.1 73.8L1808 75L1808.7 76.3L1809.6 77L1810.5 77.6L1811.3 78.4L1811.9 79.3L1812.7 80.1L1813.8 80.5L1814.4 81.6L1815.2 82.5L1816.2 83.1L1817.1 84.2L1818 85.2L1818.9 83.9L1819.7 82.5L1820.1 83.5L1820.8 84.4L1819.9 85.5L1819.8 86.8L1819.4 88.1L1819.3 89.7L1819.7 91.2L1820 92.8L1820.2 94.4L1821 95.5L1820.9 96.9L1821.3 98.1L1821.2 99.4L1821.7 100.6L1822.2 102.1L1822.2 103.7L1822.2 104.9L1821.6 105.8L1821.1 106.8L1820.6 107.8L1820.6 108.9L1820.4 110L1820.2 111.3L1819.6 112.5L1819.2 113.7L1819.5 115L1818.7 116.2L1818.9 117.5L1818.6 118.8L1818.1 120L1817.4 121.2L1817 122.3L1816.3 123.4L1815.6 124.3L1814.6 125.5L1813.1 126.2L1812.4 127.7L1811.2 128.7L1810.8 129.9L1810.2 130.9L1809.4 131.8L1808.8 133.1L1808.2 134.4L1807.5 135.6L1806.9 136.8L1806.5 138.2L1805.7 139.4L1804.9 140.3L1804.3 141.4L1803.7 142.5L1803.2 144L1803.1 145.6L1802.5 147.1L1802.6 148.7L1802.3 150L1802.4 151.1L1801.4 151.6L1800.6 152.5L1799.4 152.9L1798.1 152.8L1796.6 153.3L1795 152.9L1793.4 153.1L1791.9 153.9L1790.7 154.5L1789.3 154.9L1788.2 156.1L1787 157L1785.5 157.4L1784.4 158.4L1783.4 159.2L1782.7 160.4L1781.7 159.6L1780.7 158.7L1779.7 158L1779.3 156.9L1778.5 156L1777.6 155.1L1776.4 154.2L1775 153.9L1774.1 154L1773.1 154.3L1772.2 155.1L1771.2 155.9L1770.5 157L1769.5 157.9L1768.6 158.5L1767.4 158.9L1766.5 158.3L1765.4 157.9L1764.4 157.4L1763.2 157.3L1762.2 156.9L1761.2 156.3L1760.3 155.7L1759.3 155.2L1758.1 155.1L1757.3 155.9L1756.2 156.1L1755.2 154.8L1753.7 154.4L1752.8 153.7L1751.6 153.6L1750.6 153.1L1749.7 152.2L1748.7 151.2L1748.2 150.2L1747.3 149.3L1748 148.3L1748.2 147.1L1747.3 146.2L1746.9 145L1746.1 143.9L1745 143.1L1745.2 141.3L1744.5 140.6L1744.1 139.7L1743.1 140.5L1741.8 140.5L1740.5 141L1739.4 141.8L1737.9 141.8L1736.6 142.4L1738.1 141.3L1739 140.7L1739.7 140L1740.5 138.9L1740.7 137.4L1740.1 136.3L1740 135L1739.1 134.1L1738 133.4L1737.4 134.9L1736.9 136.1L1736.2 137L1735 137.7L1734.1 138.6L1732.8 138.6L1731.6 138.9L1732.3 138.1L1733.2 137.6L1733.9 136.7L1734.9 136.5L1735.1 135.4L1735.1 134.3L1735.5 133.2L1736 132.2L1736.8 131L1737.4 129.6L1738.2 128.3L1738.2 126.8L1737.3 125.7L1736.7 124.3L1735.9 125.3L1735.3 126.7L1734.7 128.1L1733.7 129L1733.4 130.2L1732.1 130.8L1730.9 131.5L1729.6 132.2L1728.9 133.5L1727.9 134.5L1727.1 135.6L1727.1 136.7L1726.6 137.8L1725.4 138L1724.3 137.6L1723.4 136.9L1722.3 136.5L1721.5 135.5L1722.7 135.2L1723.5 134.3L1722.7 133.4L1722 132.4L1721.3 131.5L1720.8 130.5L1720.1 129.6L1719.4 128.6L1718 128.4L1716.9 127.5L1717.3 125.5L1716.1 124.9L1715.7 123.6L1714.3 123.3L1713.1 122.5L1712 122.4L1711 121.9L1710 121.5L1708.8 121.7L1707.5 121.3L1706.2 121.8L1705.2 121.2L1704.2 120.5L1703.1 120L1701.8 119.6L1700.6 118.8L1699.4 119.2L1698.1 119.7L1696.7 119.5L1695.2 119.8L1693.8 119.8L1692.5 120L1691.3 120.2L1690 120.3L1688.7 120L1687.5 120.8L1686.1 121L1685 121.7L1683.8 122.5L1682.4 122.1L1681.2 122.6L1679.9 123.4L1678.3 123.1L1676.9 123.7L1675.4 123.6L1674 123L1672.5 123.3L1671.4 123.7L1670.2 123.9L1669.1 124.6L1668.1 125.3L1666.7 125.4L1665.5 126.1L1664.4 126.8L1663.6 127.6L1662.5 127.7L1661.7 129L1661 130.4L1660.1 131.7L1658.7 132.1L1657.5 132.9L1656.2 132.5L1655 132.1L1653.4 132.5L1651.8 132.8L1651 132.4L1650 132.2L1648.5 131.7L1646.9 131.8L1645.4 131.6L1643.9 131.9L1642.5 132.3L1641.3 132.8L1640 133L1638.6 132.6L1637.8 133.4L1637 134.3L1636.3 135.3L1634.7 135.7L1633.1 135.8L1632.1 136.6L1631 137.3L1630 138L1628.9 138.2L1628 138.9L1626.9 139.1L1625.7 138.5L1624.4 138.5L1623.2 138.5L1621.5 138.7L1619.9 138.2L1618.7 137.6L1617.5 136.8L1616.6 136L1615.6 135.4L1614.4 134.9L1613 134.7L1612.6 132.8L1613 131.7L1612.8 130.6L1614.1 130.9L1615 130.3L1615.9 129.9L1616 128.8L1616.5 127.7L1616.9 126.5L1617 125.2L1616.5 123.7L1616.7 122.2L1616.6 120.8L1616 119.6L1615.5 118.3L1614.6 117.2L1614 115.9L1613.3 114.6L1613.4 113L1612.8 111.5L1612.9 109.9L1613 108.3L1612.1 107.2L1611.6 105.9L1611 104.4L1610.1 103L1609.3 102.2L1608.7 101.2L1608 100.3L1608.1 98.6L1607.4 97.2L1606.4 95.9L1606 94.3ZM1773.8 167.2L1774.6 168.2L1775.6 169.1L1776.7 169.1L1777.8 169.3L1778.8 169.9L1780.1 170.1L1781.4 170.8L1782.8 171L1784.2 170.7L1785.5 170.3L1786.9 170L1788.3 169.4L1789.8 169.3L1791.2 168.9L1792.7 169.2L1794.2 168.7L1793.8 170.3L1794.2 171.9L1793.8 173.4L1793.8 175L1793.7 176.5L1793.3 178L1793 179.6L1792 180.7L1791 181.4L1790.6 182.5L1789.5 183.1L1788 182.9L1786.9 183.4L1785.9 184.5L1784.8 184.4L1783.7 184.5L1782.4 184L1781.3 183.4L1780.1 182.5L1779.4 181.2L1778.4 180.4L1777.9 179.3L1777.6 178L1776.9 177.1L1776.4 176L1776 175L1775.4 173.9L1774.8 172.9L1774.2 171.9L1774.1 170.5L1773.6 169.4L1774 168.3ZM1694.9 11.8L1695.5 10.9L1695.8 9.8L1695.9 8.9L1697.4 9.1L1698.7 9.9L1700 9.5L1701.2 9.6L1702.6 9.4L1703.7 8.5L1705 8.4L1706 7.9L1707 7.6L1708.1 7.5L1708.5 8.8L1709.3 9.9L1708.7 11.1L1707.5 11.6L1706.3 12L1705 11.7L1703.7 12.1L1702.9 12.8L1702.5 13.9L1703.9 14L1705.4 14.3L1706.9 14.1L1707.9 13.2L1709.2 12.8L1709.2 11.4L1709.4 10"/><g fill="#000" stroke-width="0.6"><ellipse cx="1770" cy="164.4" rx="1.4" ry="2"/><ellipse cx="1792.8" cy="165.6" rx="1.9" ry="2.4"/><ellipse cx="1732.8" cy="142.8" rx="3.4" ry="1"/><ellipse cx="1730.3" cy="24.2" rx="1.5" ry="1.4"/><ellipse cx="1615" cy="61.1" rx="0.9" ry="0.8"/><ellipse cx="1760.5" cy="3.2" rx="1.5" ry="0.9"/><path d="M1600.9 86.2L1603.1 85.9L1605 88.1L1608.4 88.1L1609.7 90.6L1608.9 93.2L1605.8 94.5L1603.8 91.9L1601.9 88.7Z"/><path d="M1771.6 155.6L1773.1 154L1775.3 153.4L1777.5 155L1779.4 156.5L1778.1 157.2L1775 155.7L1772.5 156.5Z"/><path d="M1731.6 137.2L1735 136.2L1736.2 137.5L1734.1 139L1731.9 139Z"/><path d="M1695.6 8.7L1698.1 8.1L1700.6 10L1698.8 11.5L1695.6 12.2L1694.7 10.6Z"/><path d="M1744.1 38L1746.6 37.4L1747 38.4L1745.3 39.2Z"/><path d="M1818.8 82.5L1820.3 81.2L1820.9 85L1820 88.1L1819.1 86.2Z"/><path d="M1818.8 94.4L1821.9 95L1822.5 98.7L1820.6 98.1L1819.4 96.9Z"/></g></g><g fill="none" stroke="#fb3bfb" stroke-width="3.9" stroke-linejoin="round" stroke-linecap="round"><path d="M1636.2 57.6L1638.5 57.4L1640.6 56.6L1642.8 55.9L1644.9 55.2L1646.8 54.1L1648.3 52.5L1649.1 49.4L1650.2 48.1L1651.1 46.9L1651 43.8L1651 41.9L1651 40L1653 37.9L1654.9 37.1L1656.2 35.5L1657.6 34.1L1659.2 32.9L1661.3 31.9L1662.6 30.1L1664.4 28.7L1665.7 26.9L1666.9 25.2L1668.7 24.3L1670.3 23.4L1671.9 22.3L1674.4 22.8L1676.9 22.1L1678.6 22.5L1679.9 23.6L1681.6 24.6L1682.4 26.4L1685 28.1L1688.1 28.5L1690.5 26.8L1691.2 25.3L1691.7 23.7L1692.3 21.4L1693.9 19.5L1694.3 17.4L1695.5 15.6L1694.7 13.8L1694.9 12L1695.7 10.5L1695.9 8.9L1697.9 9.2L1700 9.1L1702.5 9L1705 8.2L1706.9 8.2L1708.8 8.4L1710.8 7.7L1711.8 10.8L1713.6 11.8L1715.6 12.1L1717.5 12.5L1719.4 13.1L1720.9 12.4L1722.6 12.1L1724.3 11.3L1726.1 10.7L1728.6 9.2L1730.8 7.8L1730.7 9.6L1731.6 11.2L1731.7 13.1L1731.8 15L1731.3 16.8L1731.4 18.7L1731.8 21.9L1731.9 25L1730 26.2L1728.2 26.9L1726.4 27L1724.4 28.7L1726.2 31.2L1728.2 31.4L1730 32.2L1731.7 32.8L1733.3 33.6L1734.7 34.7L1735.5 36.3L1737 38.7L1737.2 40.6L1736.9 42.4L1733.8 43L1731.3 41.7L1729.5 41.1L1727.5 41.3L1725.7 40.4L1723.8 40.4L1721.9 40.5L1719.9 40.4L1717.8 41.3L1715.6 41.9L1713.4 42L1711.2 41.4L1709.1 42.4L1707 42.7L1705.2 42.8L1703.6 43.7L1703.5 45.6L1703.1 47.3L1701 48.3L1698.8 48.3L1696.9 49L1695 49.4L1692.8 49.9L1690.6 49.9L1688.8 49.9L1686.7 49.5L1685.3 50.4L1684.3 51.8L1681.9 53.8L1680 53.7L1678.1 52.9L1675.9 53.1L1673.7 53L1671.3 53.8L1668.7 53.6L1666.4 52.4L1664.4 50.5L1662.2 50.4L1660 50.9L1657.8 51L1655.6 50.9L1653.6 51.4L1651.9 52.6L1650 54.4L1647.9 55.4L1645.6 55.8L1643.3 57.4L1640.6 57.7L1638.6 57.8L1636.7 58.9Z"/><circle cx="1635" cy="54.4" r="1.1" stroke-width="1.2"/><circle cx="1656.9" cy="31.9" r="1.1" stroke-width="1.2"/></g></g>
<g id="inset-b"><g fill="none" stroke="#000" stroke-width="1.9" stroke-linejoin="round" stroke-linecap="round"><path d="M1605.6 567.1L1605 566L1604.7 564.7L1603.7 563.7L1603.1 562.5L1602.6 561.4L1601.9 560.1L1603.1 560.9L1604.4 561.5L1605.7 562.1L1607.2 562L1608.4 562.8L1607.8 561.8L1608 560.6L1607.6 559.6L1606.7 558.7L1606.8 557.4L1606.1 556.4L1605.5 555.4L1605 554.4L1604.2 553.4L1604 552.1L1604.4 550.9L1604.9 549.4L1605.8 548.4L1605.9 546.8L1606.1 545.3L1605.6 544L1606 542.7L1606.7 541.6L1607.2 540.7L1607.8 540L1608.3 541.3L1608.8 542.8L1609.6 542L1610.3 541.2L1611.3 540.7L1612.5 540.4L1613.5 539.8L1614.4 539.1L1615.3 538.1L1616.3 537.4L1617.5 536.7L1618.6 535.7L1620.1 535.3L1621.2 534.3L1622.6 534.1L1623.8 533.3L1624.9 534.2L1626.3 534.4L1627.1 533.4L1628.2 533.1L1629.4 532.9L1630.4 532.3L1631.6 532.3L1632.5 531.5L1633.4 530.7L1634.6 530.6L1635.6 530L1637.2 529.8L1638.7 530L1640 529.6L1641.4 529.7L1642.5 529.1L1643.4 528.3L1644.5 528L1645.5 527.6L1646.5 526.4L1647.9 525.6L1648.1 524.3L1648.9 523.3L1649.4 522.1L1650.2 521.2L1651.3 520.6L1651.8 519.6L1652.9 519L1652.1 518.2L1651.8 517.1L1651.6 515.9L1651.7 514.6L1652.7 514.1L1653.2 513.2L1654.1 512L1655.3 511.3L1657 511.5L1657.3 512.7L1657.4 514.1L1658.4 515L1659.2 515.8L1660.4 514.8L1660.5 513.4L1660 512.4L1660 511.2L1659.4 510.2L1660.9 509.8L1662.5 509.5L1664.1 509.6L1665.7 510.2L1664.8 509.1L1664.4 507.8L1664.4 506.5L1664.7 505.2L1665.8 505.5L1666.9 504.9L1667.7 504.2L1668.6 503.4L1668 502.2L1668.1 500.7L1669.5 500.7L1670.7 500L1671.4 498.9L1672.5 497.9L1673.8 498.1L1675.1 497.9L1675.9 496.6L1677.1 496L1678.2 496.6L1679.3 496.8L1680.2 497.5L1681.3 498L1682 498.9L1682.5 500.5L1683.9 501.5L1683.9 502.9L1684.3 504.3L1685.2 503.3L1685.6 502.2L1686.9 501.8L1688.2 501.7L1689.3 502.7L1690.5 503.2L1691.6 502.6L1692.8 502.1L1692.4 500.7L1691.6 499.6L1691.9 498.3L1692.6 497.2L1692.9 496L1693.4 494.8L1694.3 494L1695 492.7L1695.5 491.4L1696.4 490.2L1697.5 489.3L1698.8 488.4L1699.9 487.5L1699.3 486.6L1698.8 485.4L1697.5 485.1L1696.3 485.2L1695.1 485.3L1695.4 484.2L1695.3 483.1L1696 482L1697.5 482.4L1698.8 483.5L1700 483.4L1701.3 483.2L1702.4 482.3L1703.8 482.3L1705 481.8L1706.1 481.7L1707 481L1707.9 481L1709.1 482L1709.4 483.4L1710 483.5L1710.9 484.3L1712 484.8L1713.1 485.3L1714.1 485.9L1715.1 486.4L1716.2 486.4L1717.8 486.5L1719.3 486.3L1720.3 486.9L1721.5 487L1722.6 487.5L1723.9 487.1L1725 486.2L1726.3 485.3L1727.5 484.3L1728.3 483.6L1729.1 482.8L1729.7 481.9L1731.1 480.5L1730.5 482.3L1729.7 483.4L1729.2 484.7L1728.8 486.5L1729.6 487.2L1730.6 487.7L1731.6 488.3L1730.8 489.1L1730.8 490.3L1729.8 491.1L1729.4 492.3L1728.1 492.5L1726.9 493.1L1726 494.6L1726.1 495.9L1726.6 497.1L1725.7 498.3L1724.9 499.5L1724.4 500.7L1723.6 501.4L1724.4 503L1725.3 503.8L1726.6 504.1L1727.6 504.8L1728.6 506L1730 506.6L1731.3 506.8L1732.4 507.3L1733.8 508L1735 509.1L1736.4 509.7L1737.5 510.9L1738.6 511.7L1740 512.3L1741 512.7L1742.1 512.7L1743.2 513.1L1744 511.9L1745 510.7L1745.9 511.2L1746.8 511.4L1745.7 512.6L1744.9 514L1745.3 515.1L1746.3 515.8L1747.4 516.2L1748.4 516.9L1749.4 517.4L1750.6 516.9L1751.8 516.8L1752.9 515.8L1753.7 514.6L1754.1 513.5L1755 512.7L1755.5 511.6L1755.7 510.2L1755.8 508.9L1756.4 507.7L1757.1 506.5L1756.6 505.2L1757.3 504L1757.2 502.8L1757 501.5L1757.3 500.2L1756.6 499.1L1756.5 497.8L1756.5 496.5L1756.4 495.2L1757.2 494L1757.1 492.7L1757.1 491.5L1757.2 490.2L1757.9 489L1758.4 487.7L1759.1 486.5L1759.5 485.3L1759.9 484.1L1760.2 482.8L1760.5 481.4L1760.6 479.8L1761.9 479.3L1762.8 479.9L1763.6 480.8L1763.8 481.9L1763.9 483L1764.5 483.9L1765.2 485.2L1765.7 486.5L1765.9 487.6L1766.4 488.6L1766.8 489.6L1767 490.9L1767.6 492.1L1767.7 493.4L1767.6 495L1768.3 496.4L1768.3 498L1769.1 499.4L1770.1 498.9L1771.2 499L1772.8 498.4L1773.7 499.6L1775 500.2L1776.1 501.2L1777 502.1L1777.1 503.7L1777.3 505.3L1777.8 506.8L1778.1 508.4L1778.7 509.6L1778.7 510.9L1779.5 512.3L1780.6 513.4L1780.9 514.5L1781.7 515.4L1781.7 516.5L1781.3 518L1781.4 519.7L1782 520.9L1782.4 522.1L1782.8 523.2L1782.7 524.5L1783.8 525.2L1785 525.5L1786.2 525.7L1787.1 526.4L1788.1 526.8L1789.3 527.8L1790.6 528.4L1791.8 528.6L1792.6 529.6L1793.8 529.8L1795.1 530.8L1796.7 531.2L1796.8 532.3L1796.8 533.4L1797.7 534.3L1798.3 535.5L1798.7 537L1799.3 538.4L1799.5 539.6L1800.1 540.7L1800.5 542L1801.6 542.3L1802.5 542.9L1803.7 542.1L1805.1 542L1805.9 543.1L1807 544L1806.8 545.6L1807.1 547.2L1808 548.4L1808.7 549.7L1809.6 550.4L1810.5 551L1811.3 551.8L1811.9 552.7L1812.7 553.5L1813.8 553.9L1814.4 555L1815.2 555.9L1816.2 556.5L1817.1 557.6L1818 558.6L1818.9 557.3L1819.7 555.9L1820.1 556.9L1820.8 557.8L1819.9 558.9L1819.8 560.2L1819.4 561.5L1819.3 563.1L1819.7 564.6L1820 566.2L1820.2 567.8L1821 568.9L1820.9 570.3L1821.3 571.5L1821.2 572.8L1821.7 574L1822.2 575.5L1822.2 577.1L1822.2 578.3L1821.6 579.2L1821.1 580.2L1820.6 581.2L1820.6 582.3L1820.4 583.4L1820.2 584.7L1819.6 585.9L1819.2 587.1L1819.5 588.4L1818.7 589.6L1818.9 590.9L1818.6 592.2L1818.1 593.4L1817.4 594.6L1817 595.7L1816.3 596.8L1815.6 597.7L1814.6 598.9L1813.1 599.6L1812.4 601.1L1811.2 602.1L1810.8 603.3L1810.2 604.3L1809.4 605.2L1808.8 606.5L1808.2 607.8L1807.5 609L1806.9 610.2L1806.5 611.6L1805.7 612.8L1804.9 613.7L1804.3 614.8L1803.7 615.9L1803.2 617.4L1803.1 619L1802.5 620.5L1802.6 622.1L1802.3 623.4L1802.4 624.5L1801.4 625L1800.6 625.9L1799.4 626.3L1798.1 626.2L1796.6 626.7L1795 626.3L1793.4 626.5L1791.9 627.3L1790.7 627.9L1789.3 628.3L1788.2 629.5L1787 630.4L1785.5 630.8L1784.4 631.8L1783.4 632.6L1782.7 633.8L1781.7 633L1780.7 632.1L1779.7 631.4L1779.3 630.3L1778.5 629.4L1777.6 628.5L1776.4 627.6L1775 627.3L1774.1 627.4L1773.1 627.7L1772.2 628.5L1771.2 629.3L1770.5 630.4L1769.5 631.3L1768.6 631.9L1767.4 632.3L1766.5 631.7L1765.4 631.3L1764.4 630.8L1763.2 630.7L1762.2 630.3L1761.2 629.7L1760.3 629.1L1759.3 628.6L1758.1 628.5L1757.3 629.3L1756.2 629.5L1755.2 628.2L1753.7 627.8L1752.8 627.1L1751.6 627L1750.6 626.5L1749.7 625.6L1748.7 624.6L1748.2 623.6L1747.3 622.7L1748 621.7L1748.2 620.5L1747.3 619.6L1746.9 618.4L1746.1 617.3L1745 616.5L1745.2 614.7L1744.5 614L1744.1 613.1L1743.1 613.9L1741.8 613.9L1740.5 614.4L1739.4 615.2L1737.9 615.2L1736.6 615.8L1738.1 614.7L1739 614.1L1739.7 613.4L1740.5 612.3L1740.7 610.8L1740.1 609.7L1740 608.4L1739.1 607.5L1738 606.8L1737.4 608.3L1736.9 609.5L1736.2 610.4L1735 611.1L1734.1 612L1732.8 612L1731.6 612.3L1732.3 611.5L1733.2 611L1733.9 610.1L1734.9 609.9L1735.1 608.8L1735.1 607.7L1735.5 606.6L1736 605.6L1736.8 604.4L1737.4 603L1738.2 601.7L1738.2 600.2L1737.3 599.1L1736.7 597.7L1735.9 598.7L1735.3 600.1L1734.7 601.5L1733.7 602.4L1733.4 603.6L1732.1 604.2L1730.9 604.9L1729.6 605.6L1728.9 606.9L1727.9 607.9L1727.1 609L1727.1 610.1L1726.6 611.2L1725.4 611.4L1724.3 611L1723.4 610.3L1722.3 609.9L1721.5 608.9L1722.7 608.6L1723.5 607.7L1722.7 606.8L1722 605.8L1721.3 604.9L1720.8 603.9L1720.1 603L1719.4 602L1718 601.8L1716.9 600.9L1717.3 598.9L1716.1 598.3L1715.7 597L1714.3 596.7L1713.1 595.9L1712 595.8L1711 595.3L1710 594.9L1708.8 595.1L1707.5 594.7L1706.2 595.2L1705.2 594.6L1704.2 593.9L1703.1 593.4L1701.8 593L1700.6 592.2L1699.4 592.6L1698.1 593.1L1696.7 592.9L1695.2 593.2L1693.8 593.2L1692.5 593.4L1691.3 593.6L1690 593.7L1688.7 593.4L1687.5 594.2L1686.1 594.4L1685 595.1L1683.8 595.9L1682.4 595.5L1681.2 596L1679.9 596.8L1678.3 596.5L1676.9 597.1L1675.4 597L1674 596.4L1672.5 596.7L1671.4 597.1L1670.2 597.3L1669.1 598L1668.1 598.7L1666.7 598.8L1665.5 599.5L1664.4 600.2L1663.6 601L1662.5 601.1L1661.7 602.4L1661 603.8L1660.1 605.1L1658.7 605.5L1657.5 606.3L1656.2 605.9L1655 605.5L1653.4 605.9L1651.8 606.2L1651 605.8L1650 605.6L1648.5 605.1L1646.9 605.2L1645.4 605L1643.9 605.3L1642.5 605.7L1641.3 606.2L1640 606.4L1638.6 606L1637.8 606.8L1637 607.7L1636.3 608.7L1634.7 609.1L1633.1 609.2L1632.1 610L1631 610.7L1630 611.4L1628.9 611.6L1628 612.3L1626.9 612.5L1625.7 611.9L1624.4 611.9L1623.2 611.9L1621.5 612.1L1619.9 611.6L1618.7 611L1617.5 610.2L1616.6 609.4L1615.6 608.8L1614.4 608.3L1613 608.1L1612.6 606.1L1613 605.1L1612.8 604L1614.1 604.3L1615 603.7L1615.9 603.3L1616 602.2L1616.5 601.1L1616.9 599.9L1617 598.6L1616.5 597.1L1616.7 595.6L1616.6 594.2L1616 593L1615.5 591.7L1614.6 590.6L1614 589.3L1613.3 588L1613.4 586.4L1612.8 584.9L1612.9 583.3L1613 581.7L1612.1 580.6L1611.6 579.3L1611 577.8L1610.1 576.4L1609.3 575.6L1608.7 574.6L1608 573.7L1608.1 572L1607.4 570.6L1606.4 569.3L1606 567.7ZM1773.8 640.6L1774.6 641.6L1775.6 642.5L1776.7 642.5L1777.8 642.7L1778.8 643.3L1780.1 643.5L1781.4 644.2L1782.8 644.4L1784.2 644.1L1785.5 643.7L1786.9 643.4L1788.3 642.8L1789.8 642.7L1791.2 642.3L1792.7 642.6L1794.2 642.1L1793.8 643.7L1794.2 645.3L1793.8 646.8L1793.8 648.4L1793.7 649.9L1793.3 651.4L1793 653L1792 654.1L1791 654.8L1790.6 655.9L1789.5 656.5L1788 656.3L1786.9 656.8L1785.9 657.9L1784.8 657.8L1783.7 657.9L1782.4 657.4L1781.3 656.8L1780.1 655.9L1779.4 654.6L1778.4 653.8L1777.9 652.7L1777.6 651.4L1776.9 650.5L1776.4 649.4L1776 648.4L1775.4 647.3L1774.8 646.3L1774.2 645.3L1774.1 643.9L1773.6 642.8L1774 641.7ZM1694.9 485.2L1695.5 484.3L1695.8 483.2L1695.9 482.3L1697.4 482.5L1698.7 483.3L1700 482.9L1701.2 483L1702.6 482.8L1703.7 481.9L1705 481.8L1706 481.3L1707 481L1708.1 480.9L1708.5 482.2L1709.3 483.3L1708.7 484.5L1707.5 485L1706.3 485.4L1705 485.1L1703.7 485.5L1702.9 486.2L1702.5 487.3L1703.9 487.4L1705.4 487.7L1706.9 487.5L1707.9 486.6L1709.2 486.2L1709.2 484.8L1709.4 483.4"/><g fill="#000" stroke-width="0.6"><ellipse cx="1770" cy="637.8" rx="1.4" ry="2"/><ellipse cx="1792.8" cy="639" rx="1.9" ry="2.4"/><ellipse cx="1732.8" cy="616.2" rx="3.4" ry="1"/><ellipse cx="1730.3" cy="497.6" rx="1.5" ry="1.4"/><ellipse cx="1615" cy="534.5" rx="0.9" ry="0.8"/><ellipse cx="1760.5" cy="476.6" rx="1.5" ry="0.9"/><path d="M1600.9 559.6L1603.1 559.3L1605 561.5L1608.4 561.5L1609.7 564L1608.9 566.6L1605.8 567.9L1603.8 565.2L1601.9 562.1Z"/><path d="M1771.6 629L1773.1 627.4L1775.3 626.8L1777.5 628.4L1779.4 629.9L1778.1 630.6L1775 629.1L1772.5 629.9Z"/><path d="M1731.6 610.6L1735 609.6L1736.2 610.9L1734.1 612.4L1731.9 612.4Z"/><path d="M1695.6 482.1L1698.1 481.5L1700.6 483.4L1698.8 484.9L1695.6 485.6L1694.7 484Z"/><path d="M1744.1 511.4L1746.6 510.8L1747 511.8L1745.3 512.6Z"/><path d="M1818.8 555.9L1820.3 554.6L1820.9 558.4L1820 561.5L1819.1 559.6Z"/><path d="M1818.8 567.8L1821.9 568.4L1822.5 572.1L1820.6 571.5L1819.4 570.2Z"/></g></g><g fill="none" stroke="#fb3bfb" stroke-width="3.9" stroke-linejoin="round" stroke-linecap="round"><path d="M1606.5 568.9L1608.7 568.8L1610.6 569.4L1614 569.4L1615.1 566.7L1616.7 568.9L1618 571.5L1619.1 574.3L1619.9 576.7L1622.6 577.9L1624.1 579.7L1625 582.7L1628.1 582.5L1630 582.8L1631.8 582.2L1633.6 583.2L1635.6 583.5L1638 583.9L1639.8 585.4L1641.2 586.9L1642.6 588.3L1644 589.7L1644.9 591.4L1643.7 592.7L1642.3 593.9L1640.8 596.6L1642.5 598.3L1644.4 598.1L1646.2 598.3L1648.1 598.1L1650.2 597.8L1652.3 598.6L1654.4 598L1656.5 598.5L1658.6 598.6L1661.2 600.3L1662.7 602.7L1662.7 605.1L1661.2 607L1659.3 608.5L1656.9 606.7L1653.7 607.1L1652.6 608.5L1651.1 608.8L1648.8 607.1L1646.2 605.2L1644.4 605.5L1642.5 605.5L1640.5 605.6L1638.8 606.6L1636.9 608.8L1633.7 609.6L1632.6 610.9L1631.2 611.8L1629.7 612.4L1628.1 613.1L1626.3 612.4L1624.4 612.1L1622.5 612.6L1620.7 611.9L1619 611.5L1617.5 610.6L1616.2 609.5L1615.1 608.2L1612.7 607.1L1612.2 604.6L1613.1 603L1615.4 602.1L1616.5 599L1615.6 597.2L1615.6 595.2L1614.8 593.4L1614.3 591.5L1613.6 590L1613 588.4L1611.9 585.2L1612.2 582.1L1611.7 580.4L1610.7 579L1608.9 576.6L1607.4 577.4L1606 578.8L1605.2 577.3L1604.5 576L1606.7 574.5L1608.4 572.8L1607.7 570.8Z"/></g></g>
<g id="inset-c"><g fill="none" stroke="#000" stroke-width="1.9" stroke-linejoin="round" stroke-linecap="round"><path d="M1605.6 1009.5L1605 1008.4L1604.7 1007.1L1603.7 1006.1L1603.1 1004.9L1602.6 1003.8L1601.9 1002.5L1603.1 1003.3L1604.4 1003.9L1605.7 1004.5L1607.2 1004.4L1608.4 1005.2L1607.8 1004.2L1608 1003L1607.6 1002L1606.7 1001.1L1606.8 999.8L1606.1 998.8L1605.5 997.8L1605 996.8L1604.2 995.8L1604 994.5L1604.4 993.3L1604.9 991.8L1605.8 990.8L1605.9 989.2L1606.1 987.7L1605.6 986.4L1606 985.1L1606.7 984L1607.2 983.1L1607.8 982.4L1608.3 983.7L1608.8 985.2L1609.6 984.4L1610.3 983.6L1611.3 983.1L1612.5 982.8L1613.5 982.2L1614.4 981.5L1615.3 980.5L1616.3 979.8L1617.5 979.1L1618.6 978.1L1620.1 977.7L1621.2 976.7L1622.6 976.5L1623.8 975.7L1624.9 976.6L1626.3 976.8L1627.1 975.8L1628.2 975.5L1629.4 975.3L1630.4 974.7L1631.6 974.7L1632.5 973.9L1633.4 973.1L1634.6 973L1635.6 972.4L1637.2 972.2L1638.7 972.4L1640 972L1641.4 972.1L1642.5 971.5L1643.4 970.7L1644.5 970.4L1645.5 970L1646.5 968.8L1647.9 968L1648.1 966.7L1648.9 965.7L1649.4 964.5L1650.2 963.6L1651.3 963L1651.8 962L1652.9 961.4L1652.1 960.6L1651.8 959.5L1651.6 958.3L1651.7 957L1652.7 956.5L1653.2 955.6L1654.1 954.4L1655.3 953.7L1657 953.9L1657.3 955.1L1657.4 956.5L1658.4 957.4L1659.2 958.2L1660.4 957.2L1660.5 955.8L1660 954.8L1660 953.6L1659.4 952.6L1660.9 952.2L1662.5 951.9L1664.1 952L1665.7 952.6L1664.8 951.5L1664.4 950.2L1664.4 948.9L1664.7 947.6L1665.8 947.9L1666.9 947.3L1667.7 946.6L1668.6 945.8L1668 944.6L1668.1 943.1L1669.5 943.1L1670.7 942.4L1671.4 941.3L1672.5 940.3L1673.8 940.5L1675.1 940.3L1675.9 939L1677.1 938.4L1678.2 939L1679.3 939.2L1680.2 939.9L1681.3 940.4L1682 941.3L1682.5 942.9L1683.9 943.9L1683.9 945.3L1684.3 946.7L1685.2 945.7L1685.6 944.6L1686.9 944.2L1688.2 944.1L1689.3 945.1L1690.5 945.6L1691.6 945L1692.8 944.5L1692.4 943.1L1691.6 942L1691.9 940.7L1692.6 939.6L1692.9 938.4L1693.4 937.2L1694.3 936.4L1695 935.1L1695.5 933.8L1696.4 932.6L1697.5 931.7L1698.8 930.8L1699.9 929.9L1699.3 929L1698.8 927.8L1697.5 927.5L1696.3 927.6L1695.1 927.7L1695.4 926.6L1695.3 925.5L1696 924.4L1697.5 924.8L1698.8 925.9L1700 925.8L1701.3 925.6L1702.4 924.7L1703.8 924.7L1705 924.2L1706.1 924.1L1707 923.4L1707.9 923.4L1709.1 924.4L1709.4 925.8L1710 925.9L1710.9 926.7L1712 927.2L1713.1 927.7L1714.1 928.3L1715.1 928.8L1716.2 928.8L1717.8 928.9L1719.3 928.7L1720.3 929.3L1721.5 929.4L1722.6 929.9L1723.9 929.5L1725 928.6L1726.3 927.7L1727.5 926.7L1728.3 926L1729.1 925.2L1729.7 924.3L1731.1 922.9L1730.5 924.7L1729.7 925.8L1729.2 927.1L1728.8 928.9L1729.6 929.6L1730.6 930.1L1731.6 930.7L1730.8 931.5L1730.8 932.7L1729.8 933.5L1729.4 934.7L1728.1 934.9L1726.9 935.5L1726 937L1726.1 938.3L1726.6 939.5L1725.7 940.7L1724.9 941.9L1724.4 943.1L1723.6 943.8L1724.4 945.4L1725.3 946.2L1726.6 946.5L1727.6 947.2L1728.6 948.4L1730 949L1731.3 949.2L1732.4 949.7L1733.8 950.4L1735 951.5L1736.4 952.1L1737.5 953.3L1738.6 954.1L1740 954.7L1741 955.1L1742.1 955.1L1743.2 955.5L1744 954.3L1745 953.1L1745.9 953.6L1746.8 953.8L1745.7 955L1744.9 956.4L1745.3 957.5L1746.3 958.2L1747.4 958.6L1748.4 959.3L1749.4 959.8L1750.6 959.3L1751.8 959.2L1752.9 958.2L1753.7 957L1754.1 955.9L1755 955.1L1755.5 954L1755.7 952.6L1755.8 951.3L1756.4 950.1L1757.1 948.9L1756.6 947.6L1757.3 946.4L1757.2 945.1L1757 943.9L1757.3 942.6L1756.6 941.5L1756.5 940.2L1756.5 938.9L1756.4 937.6L1757.2 936.4L1757.1 935.1L1757.1 933.9L1757.2 932.6L1757.9 931.4L1758.4 930.1L1759.1 928.9L1759.5 927.7L1759.9 926.5L1760.2 925.2L1760.5 923.8L1760.6 922.2L1761.9 921.7L1762.8 922.3L1763.6 923.2L1763.8 924.3L1763.9 925.4L1764.5 926.3L1765.2 927.6L1765.7 928.9L1765.9 930L1766.4 931L1766.8 932L1767 933.3L1767.6 934.5L1767.7 935.8L1767.6 937.4L1768.3 938.8L1768.3 940.4L1769.1 941.8L1770.1 941.3L1771.2 941.4L1772.8 940.8L1773.7 942L1775 942.6L1776.1 943.6L1777 944.5L1777.1 946.1L1777.3 947.7L1777.8 949.2L1778.1 950.8L1778.7 952L1778.7 953.3L1779.5 954.7L1780.6 955.8L1780.9 956.9L1781.7 957.8L1781.7 958.9L1781.3 960.4L1781.4 962.1L1782 963.3L1782.4 964.5L1782.8 965.6L1782.7 966.9L1783.8 967.6L1785 967.9L1786.2 968.1L1787.1 968.8L1788.1 969.2L1789.3 970.2L1790.6 970.8L1791.8 971L1792.6 972L1793.8 972.2L1795.1 973.2L1796.7 973.6L1796.8 974.7L1796.8 975.8L1797.7 976.7L1798.3 977.9L1798.7 979.4L1799.3 980.8L1799.5 982L1800.1 983.1L1800.5 984.4L1801.6 984.7L1802.5 985.3L1803.7 984.5L1805.1 984.4L1805.9 985.5L1807 986.4L1806.8 988L1807.1 989.6L1808 990.8L1808.7 992.1L1809.6 992.8L1810.5 993.4L1811.3 994.2L1811.9 995.1L1812.7 995.9L1813.8 996.3L1814.4 997.4L1815.2 998.3L1816.2 998.9L1817.1 1000L1818 1001L1818.9 999.7L1819.7 998.3L1820.1 999.3L1820.8 1000.2L1819.9 1001.3L1819.8 1002.6L1819.4 1003.9L1819.3 1005.5L1819.7 1007L1820 1008.6L1820.2 1010.2L1821 1011.3L1820.9 1012.7L1821.3 1013.9L1821.2 1015.2L1821.7 1016.4L1822.2 1017.9L1822.2 1019.5L1822.2 1020.7L1821.6 1021.6L1821.1 1022.6L1820.6 1023.6L1820.6 1024.7L1820.4 1025.8L1820.2 1027.1L1819.6 1028.3L1819.2 1029.5L1819.5 1030.8L1818.7 1032L1818.9 1033.3L1818.6 1034.6L1818.1 1035.8L1817.4 1037L1817 1038.1L1816.3 1039.2L1815.6 1040.1L1814.6 1041.3L1813.1 1042L1812.4 1043.5L1811.2 1044.5L1810.8 1045.7L1810.2 1046.7L1809.4 1047.6L1808.8 1048.9L1808.2 1050.2L1807.5 1051.4L1806.9 1052.6L1806.5 1054L1805.7 1055.2L1804.9 1056.1L1804.3 1057.2L1803.7 1058.3L1803.2 1059.8L1803.1 1061.4L1802.5 1062.9L1802.6 1064.5L1802.3 1065.8L1802.4 1066.9L1801.4 1067.4L1800.6 1068.3L1799.4 1068.7L1798.1 1068.6L1796.6 1069.1L1795 1068.7L1793.4 1068.9L1791.9 1069.7L1790.7 1070.3L1789.3 1070.7L1788.2 1071.9L1787 1072.8L1785.5 1073.2L1784.4 1074.2L1783.4 1075L1782.7 1076.2L1781.7 1075.4L1780.7 1074.5L1779.7 1073.8L1779.3 1072.7L1778.5 1071.8L1777.6 1070.9L1776.4 1070L1775 1069.7L1774.1 1069.8L1773.1 1070.1L1772.2 1070.9L1771.2 1071.7L1770.5 1072.8L1769.5 1073.7L1768.6 1074.3L1767.4 1074.7L1766.5 1074.1L1765.4 1073.7L1764.4 1073.2L1763.2 1073.1L1762.2 1072.7L1761.2 1072.1L1760.3 1071.5L1759.3 1071L1758.1 1070.9L1757.3 1071.7L1756.2 1071.9L1755.2 1070.6L1753.7 1070.2L1752.8 1069.5L1751.6 1069.4L1750.6 1068.9L1749.7 1068L1748.7 1067L1748.2 1066L1747.3 1065.1L1748 1064.1L1748.2 1062.9L1747.3 1062L1746.9 1060.8L1746.1 1059.7L1745 1058.9L1745.2 1057.1L1744.5 1056.4L1744.1 1055.5L1743.1 1056.3L1741.8 1056.3L1740.5 1056.8L1739.4 1057.6L1737.9 1057.6L1736.6 1058.2L1738.1 1057.1L1739 1056.5L1739.7 1055.8L1740.5 1054.7L1740.7 1053.2L1740.1 1052.1L1740 1050.8L1739.1 1049.9L1738 1049.2L1737.4 1050.7L1736.9 1051.9L1736.2 1052.8L1735 1053.5L1734.1 1054.4L1732.8 1054.4L1731.6 1054.7L1732.3 1053.9L1733.2 1053.4L1733.9 1052.5L1734.9 1052.3L1735.1 1051.2L1735.1 1050.1L1735.5 1049L1736 1048L1736.8 1046.8L1737.4 1045.4L1738.2 1044.1L1738.2 1042.6L1737.3 1041.5L1736.7 1040.1L1735.9 1041.1L1735.3 1042.5L1734.7 1043.9L1733.7 1044.8L1733.4 1046L1732.1 1046.6L1730.9 1047.3L1729.6 1048L1728.9 1049.3L1727.9 1050.3L1727.1 1051.4L1727.1 1052.5L1726.6 1053.6L1725.4 1053.8L1724.3 1053.4L1723.4 1052.7L1722.3 1052.3L1721.5 1051.3L1722.7 1051L1723.5 1050.1L1722.7 1049.2L1722 1048.2L1721.3 1047.3L1720.8 1046.3L1720.1 1045.4L1719.4 1044.4L1718 1044.2L1716.9 1043.3L1717.3 1041.3L1716.1 1040.7L1715.7 1039.4L1714.3 1039.1L1713.1 1038.3L1712 1038.2L1711 1037.7L1710 1037.3L1708.8 1037.5L1707.5 1037.1L1706.2 1037.6L1705.2 1037L1704.2 1036.3L1703.1 1035.8L1701.8 1035.4L1700.6 1034.6L1699.4 1035L1698.1 1035.5L1696.7 1035.3L1695.2 1035.6L1693.8 1035.6L1692.5 1035.8L1691.3 1036L1690 1036.1L1688.7 1035.8L1687.5 1036.6L1686.1 1036.8L1685 1037.5L1683.8 1038.3L1682.4 1037.9L1681.2 1038.4L1679.9 1039.2L1678.3 1038.9L1676.9 1039.5L1675.4 1039.4L1674 1038.8L1672.5 1039.1L1671.4 1039.5L1670.2 1039.7L1669.1 1040.4L1668.1 1041.1L1666.7 1041.2L1665.5 1041.9L1664.4 1042.6L1663.6 1043.4L1662.5 1043.5L1661.7 1044.8L1661 1046.2L1660.1 1047.5L1658.7 1047.9L1657.5 1048.7L1656.2 1048.3L1655 1047.9L1653.4 1048.3L1651.8 1048.6L1651 1048.2L1650 1048L1648.5 1047.5L1646.9 1047.6L1645.4 1047.4L1643.9 1047.7L1642.5 1048.1L1641.3 1048.6L1640 1048.8L1638.6 1048.4L1637.8 1049.2L1637 1050.1L1636.3 1051.1L1634.7 1051.5L1633.1 1051.6L1632.1 1052.4L1631 1053.1L1630 1053.8L1628.9 1054L1628 1054.7L1626.9 1054.9L1625.7 1054.3L1624.4 1054.3L1623.2 1054.3L1621.5 1054.5L1619.9 1054L1618.7 1053.4L1617.5 1052.6L1616.6 1051.8L1615.6 1051.2L1614.4 1050.7L1613 1050.5L1612.6 1048.5L1613 1047.5L1612.8 1046.4L1614.1 1046.7L1615 1046.1L1615.9 1045.7L1616 1044.6L1616.5 1043.5L1616.9 1042.3L1617 1041L1616.5 1039.5L1616.7 1038L1616.6 1036.6L1616 1035.4L1615.5 1034.1L1614.6 1033L1614 1031.7L1613.3 1030.4L1613.4 1028.8L1612.8 1027.3L1612.9 1025.7L1613 1024.1L1612.1 1023L1611.6 1021.7L1611 1020.2L1610.1 1018.8L1609.3 1018L1608.7 1017L1608 1016.1L1608.1 1014.4L1607.4 1013L1606.4 1011.7L1606 1010.1ZM1773.8 1083L1774.6 1084L1775.6 1084.9L1776.7 1084.9L1777.8 1085.1L1778.8 1085.7L1780.1 1085.9L1781.4 1086.6L1782.8 1086.8L1784.2 1086.5L1785.5 1086.1L1786.9 1085.8L1788.3 1085.2L1789.8 1085.1L1791.2 1084.7L1792.7 1085L1794.2 1084.5L1793.8 1086.1L1794.2 1087.7L1793.8 1089.2L1793.8 1090.8L1793.7 1092.3L1793.3 1093.8L1793 1095.4L1792 1096.5L1791 1097.2L1790.6 1098.3L1789.5 1098.9L1788 1098.7L1786.9 1099.2L1785.9 1100.3L1784.8 1100.2L1783.7 1100.3L1782.4 1099.8L1781.3 1099.2L1780.1 1098.3L1779.4 1097L1778.4 1096.2L1777.9 1095.1L1777.6 1093.8L1776.9 1092.9L1776.4 1091.8L1776 1090.8L1775.4 1089.7L1774.8 1088.7L1774.2 1087.7L1774.1 1086.3L1773.6 1085.2L1774 1084.1ZM1694.9 927.6L1695.5 926.7L1695.8 925.6L1695.9 924.7L1697.4 924.9L1698.7 925.7L1700 925.3L1701.2 925.4L1702.6 925.2L1703.7 924.3L1705 924.2L1706 923.7L1707 923.4L1708.1 923.3L1708.5 924.6L1709.3 925.7L1708.7 926.9L1707.5 927.4L1706.3 927.8L1705 927.5L1703.7 927.9L1702.9 928.6L1702.5 929.7L1703.9 929.8L1705.4 930.1L1706.9 929.9L1707.9 929L1709.2 928.6L1709.2 927.2L1709.4 925.8"/><g fill="#000" stroke-width="0.6"><ellipse cx="1770" cy="1080.2" rx="1.4" ry="2"/><ellipse cx="1792.8" cy="1081.4" rx="1.9" ry="2.4"/><ellipse cx="1732.8" cy="1058.6" rx="3.4" ry="1"/><ellipse cx="1730.3" cy="940" rx="1.5" ry="1.4"/><ellipse cx="1615" cy="976.9" rx="0.9" ry="0.8"/><ellipse cx="1760.5" cy="919" rx="1.5" ry="0.9"/><path d="M1600.9 1002L1603.1 1001.7L1605 1003.9L1608.4 1003.9L1609.7 1006.4L1608.9 1009L1605.8 1010.3L1603.8 1007.6L1601.9 1004.5Z"/><path d="M1771.6 1071.4L1773.1 1069.8L1775.3 1069.2L1777.5 1070.8L1779.4 1072.3L1778.1 1073L1775 1071.5L1772.5 1072.3Z"/><path d="M1731.6 1053L1735 1052L1736.2 1053.3L1734.1 1054.8L1731.9 1054.8Z"/><path d="M1695.6 924.5L1698.1 923.9L1700.6 925.8L1698.8 927.3L1695.6 928L1694.7 926.4Z"/><path d="M1744.1 953.8L1746.6 953.1L1747 954.2L1745.3 955Z"/><path d="M1818.8 998.3L1820.3 997L1820.9 1000.8L1820 1003.9L1819.1 1002Z"/><path d="M1818.8 1010.1L1821.9 1010.8L1822.5 1014.5L1820.6 1013.9L1819.4 1012.6Z"/></g></g><g fill="none" stroke="#fb3bfb" stroke-width="3.9" stroke-linejoin="round" stroke-linecap="round"><path d="M1742.7 1054.5L1743.3 1052.7L1743.3 1050.7L1742.1 1049L1741.9 1047L1742.2 1043.9L1743.3 1042.3L1744.3 1040.6L1745.8 1039.7L1747.5 1039.2L1750.6 1038.4L1753.7 1038.9L1754.6 1037L1756.1 1035.6L1758.8 1034L1761.8 1032.9L1763.1 1031.9L1764.5 1030.9L1766.8 1028.9L1767.6 1025.6L1769.2 1024.4L1770 1022.6L1770.7 1020.1L1770.1 1017L1771.4 1015.7L1771.8 1013.8L1773.6 1012L1773.8 1010.1L1774.4 1008.3L1775.2 1006.8L1775.5 1005.1L1775.8 1003.4L1776.9 1002L1778.3 1000.9L1779.4 999.5L1782.5 998.5L1785.6 997.7L1788.1 998.4L1790.7 997.8L1792 998.9L1793 1000.2L1793.9 1002.7L1793.2 1004.9L1794.9 1005.3L1796.3 1006.1L1798.2 1006.4L1800 1007L1802 1006.9L1803.8 1006L1805.6 1006.1L1807.6 1006.3L1808.9 1007.5L1809.9 1009L1811.2 1010.2L1812.6 1011.3L1814.3 1013.8L1814.6 1015.6L1815.5 1016.9L1813.6 1019.5L1814.2 1022.7L1813.2 1024.2L1812.3 1025.7L1811.8 1028.9L1810.8 1030.3L1810.8 1032L1811.1 1034.3L1809.9 1035.9L1808.1 1036.4L1805.1 1037.3L1801.7 1037.5L1800.9 1039.6L1802.9 1041.5L1803.9 1043.2L1802.9 1046.3L1802.5 1047.9L1801.6 1049.4L1800.5 1052L1800.1 1054.5L1800.4 1056.9L1800.1 1060.1L1799.3 1062.8L1796.7 1060.9L1794.7 1058.9L1793.6 1061.5L1791.7 1063.7L1789.4 1065.2L1786.9 1065.3L1784.5 1066.5L1782.5 1067.9L1779.3 1068.1L1777.8 1067.3L1776.3 1066.5L1773.8 1066.2L1770.6 1067L1767.6 1066.2L1764.4 1065.5L1761.2 1065.2L1759.9 1063.8L1758.3 1063.2L1757.1 1060.6L1756.1 1059.1L1755 1057.7L1753.1 1055.3L1750.6 1056.2L1747.5 1056.9L1745 1056.5L1742.4 1055.8Z"/><path d="M1741.2 1056.4L1743.8 1058.2L1746.2 1060.8L1747.5 1062.6"/></g></g>
<g id="map-2017">
<clipPath id="clip2017"><path d="M1110.3 1584.9L1105.5 1576.1L1108.7 1577.7L1114 1579.3L1112.8 1575.3L1110.7 1571.2L1108.7 1567.2L1108.7 1564L1110.7 1560.8L1111.1 1556.8L1110.3 1555.2L1111.5 1552L1113.2 1550L1114.4 1553.6L1117.6 1550.8L1121.6 1548.8L1125.6 1546L1130.4 1542.8L1133.6 1541.6L1136.8 1542.8L1140.8 1540.8L1144.8 1539.2L1148.8 1537.2L1152.8 1537.4L1157.7 1536L1161.7 1534.4L1164.5 1531.6L1166.5 1527.1L1168.9 1525.1L1170.9 1523.1L1169.7 1520.7L1169.5 1517.5L1171.3 1515.5L1174.1 1513.1L1176.1 1513.5L1176.9 1516.7L1179.3 1519.1L1180.9 1515.9L1179.3 1511.9L1183.3 1511.1L1187.3 1511.9L1185.7 1508.7L1186.1 1505.5L1188.9 1505.1L1190.9 1503.1L1190.5 1499.9L1193.7 1498.7L1196.1 1496.3L1199.4 1495.9L1202.2 1493.5L1205 1494.7L1208.2 1497.5L1210.6 1500.7L1211.4 1504.3L1213 1501.5L1216.2 1501.1L1219.4 1503.1L1222.2 1501.5L1220.6 1498.3L1221.8 1495.1L1224.2 1491.1L1225.8 1487.9L1228.2 1485L1231.4 1482.6L1229.8 1480.2L1225 1479.8L1226.2 1475.8L1229.8 1477.4L1233 1477L1237.8 1475.4L1241.9 1474.2L1243.5 1477.4L1244.3 1477.4L1248.3 1479.8L1252.3 1481.4L1256.3 1481L1260.3 1482.6L1263.5 1481L1266.7 1478.6L1269.8 1475.7L1271.4 1473.8L1270.7 1476.2L1269 1479.2L1268.3 1481.4L1271.9 1483.7L1270.7 1486.2L1269.1 1488.7L1265.9 1489.9L1264.7 1491.9L1265.5 1495.1L1263.5 1498.3L1261.5 1500.7L1262.7 1502.7L1266.7 1505.1L1269.9 1507.1L1273.1 1507.9L1276.3 1510.3L1279.5 1512.7L1282.8 1514.3L1286.8 1515.5L1289.2 1512.7L1291.6 1513.5L1289.2 1516.7L1290.8 1519.1L1294.8 1521.1L1298 1520.3L1300.4 1517.5L1302.4 1513.5L1304 1508.7L1304.8 1503.9L1304.8 1499.1L1304 1494.3L1304.8 1489.5L1305.6 1484.6L1307.2 1481.4L1308.4 1476.6L1309.2 1473L1310.8 1472.2L1312.8 1474.2L1314 1478.2L1315.6 1481.4L1317.2 1485.4L1318.4 1490.3L1318.8 1494.3L1320 1497.9L1322.8 1497.5L1324.8 1496.7L1327.7 1499.1L1330.5 1501.5L1330.9 1505.5L1331.7 1509.5L1332.5 1512.7L1334.9 1515.9L1336.5 1519.9L1336.1 1523.9L1337.3 1527.1L1337.7 1530L1340.5 1531.6L1344.5 1533.2L1347.7 1535.2L1351.7 1537.2L1355.3 1538.8L1355.7 1541.6L1357.3 1544.4L1358.9 1548L1360.5 1552.4L1362.9 1553.6L1366.1 1552.8L1368.6 1555.2L1369 1559.2L1371 1562.4L1374.2 1565.2L1377.4 1568L1380.6 1571.2L1383 1574.1L1385 1570.4L1386.2 1572.9L1384.6 1577.7L1385 1581.7L1385.8 1585.7L1387 1590.5L1387.8 1593.7L1388.2 1597.7L1387 1601.7L1385.8 1605.7L1384.6 1610.5L1383.8 1615.4L1382.2 1620.2L1379.8 1624.2L1376.6 1626.6L1374.2 1629.8L1371.8 1633.8L1369.4 1638.6L1366.9 1643.4L1364.5 1647.4L1363.7 1651.4L1362.9 1655.4L1362.9 1658.7L1360.5 1660.3L1357.3 1660.9L1353.3 1661.1L1349.3 1661.9L1346.1 1663.5L1342.9 1665.9L1339.7 1667.9L1337.7 1670.3L1334.9 1668.3L1333.3 1665.9L1330.9 1663.9L1327.7 1661.9L1325.2 1662.7L1322.8 1664.7L1320.4 1667.1L1318 1668.3L1314 1666.7L1310 1665.1L1306 1663.9L1303.6 1664.7L1300.4 1662.7L1296.4 1661.1L1294 1658.7L1292.4 1656.2L1293.2 1653.4L1291.6 1650.6L1289.2 1648.2L1289.6 1645.8L1288 1643.8L1285.2 1645L1281.9 1646.6L1278.3 1647.3L1280.3 1646L1282.3 1644.2L1283.6 1641L1282.6 1638L1280.3 1635.8L1279.5 1637.8L1277.9 1640.6L1275.1 1642.6L1271.9 1642.8L1273.9 1641L1276.3 1639.8L1276.7 1637L1277.5 1634.2L1279.5 1631L1280.3 1627.4L1278.6 1624.2L1277.5 1625.4L1275.9 1629L1274.3 1631.8L1271.1 1633.4L1268.3 1635.8L1266.3 1638.6L1265.5 1641.4L1262.7 1641L1259.1 1638.6L1261.5 1637L1259.5 1634.6L1257.9 1632.2L1256.3 1629.8L1253.1 1628.2L1253.5 1625.8L1251.5 1623.4L1248.3 1621.8L1244.3 1620.6L1242.7 1620.5L1239.4 1620.9L1235.4 1618.5L1232.2 1617.1L1229 1618.1L1223.4 1618.1L1217 1618.8L1212.2 1620.9L1207.4 1622.1L1201.8 1623.3L1196.1 1622.8L1190.5 1625.3L1185.7 1627.3L1183.3 1628.5L1180.1 1633.3L1176.9 1634.9L1173.7 1634.1L1169.7 1634.9L1167.3 1634.1L1163.3 1633.7L1157.7 1634.5L1152.8 1634.9L1149.6 1638.2L1145.6 1639L1141.6 1641.8L1137.6 1643L1132.8 1642.6L1128.8 1641.8L1125.6 1640.2L1123.2 1638.2L1120 1637.4L1119.6 1634.9L1119.6 1632.1L1121.2 1632.5L1123.6 1631.3L1124.4 1628.5L1124.8 1625.3L1124.8 1621.3L1123.6 1618.1L1122 1614.9L1120.4 1611.7L1119.6 1607.7L1119.6 1603.7L1118 1600.5L1116 1596.9L1113.6 1593.3L1112.8 1589.2L1110.7 1585.6ZM1326.1 1679.1L1328.5 1681.5L1332.5 1682.7L1337.7 1683.9L1342.9 1682.7L1348.5 1681.5L1352.1 1681.1L1352.1 1685.1L1351.7 1689.1L1351.3 1693.1L1349.3 1696.3L1347.7 1698.7L1344.5 1699.5L1341.7 1701.2L1338.9 1701.2L1335.7 1699.9L1333.3 1697.1L1330.9 1693.1L1328.9 1689.1L1326.9 1685.1L1325.7 1681.9Z"/></clipPath>
<g clip-path="url(#clip2017)"><rect x="1090" y="1460" width="310" height="248" fill="#aaaaff"/><path fill="#f3a7a6" d="M1278.6 1527.6C1279.8 1527 1280.7 1526.4 1282.2 1526.3C1283.6 1526.2 1285.7 1526.7 1287.4 1527.2C1289.2 1527.7 1290.9 1529 1292.7 1529.4C1294.4 1529.7 1296.2 1529.1 1298 1529.4C1299.7 1529.7 1301.3 1530.8 1303.2 1531.1C1305.1 1531.5 1307.5 1531.4 1309.4 1531.6C1311.3 1531.8 1313 1531.9 1314.6 1532.4C1316.3 1533 1317.9 1534.1 1319 1534.6C1320.2 1535.2 1320.6 1535.7 1321.7 1535.5C1322.7 1535.4 1323.9 1534.4 1325.2 1533.8C1326.5 1533.2 1328.3 1532.6 1329.6 1532C1330.9 1531.4 1332.3 1531.1 1333.1 1530.3C1333.9 1529.4 1334.4 1528.2 1334.4 1526.7C1334.4 1525.3 1333.6 1523.2 1333.1 1521.5C1332.6 1519.7 1331.7 1517.7 1331.3 1516.2C1331 1514.7 1328.5 1513.3 1330.9 1512.7C1333.2 1512.1 1333.9 1508.3 1345.4 1512.7C1356.9 1517.1 1390.9 1522.8 1400 1539C1409.1 1555.3 1400 1581.8 1400 1610C1400 1638.2 1426.7 1691.7 1400 1708C1373.3 1724.3 1267.1 1721.9 1240 1708C1212.9 1694.1 1237.6 1639.4 1237.6 1624.8C1237.6 1610.2 1238.9 1621.3 1240 1620.4C1241.1 1619.5 1242.7 1619.5 1244 1619.2C1245.3 1618.9 1246.7 1618.7 1248 1618.4C1249.3 1618.1 1250.5 1617.9 1252 1617.6C1253.5 1617.3 1255.3 1617.1 1256.8 1616.8C1258.3 1616.5 1259.6 1615.6 1260.8 1615.6C1262 1615.6 1262.8 1616.3 1264 1616.8C1265.2 1617.3 1266.8 1618.3 1268 1618.4C1269.2 1618.5 1270.8 1618.1 1271.2 1617.6C1271.6 1617.1 1270.3 1616.1 1270.4 1615.2C1270.5 1614.3 1271.5 1612.9 1271.6 1612C1271.7 1611.1 1271 1611 1270.7 1610C1270.4 1609 1270.4 1607.1 1269.9 1605.8C1269.3 1604.5 1268.1 1603.4 1267.2 1602.3C1266.3 1601.1 1265 1599.9 1264.6 1598.7C1264.2 1597.6 1264.6 1596.3 1265 1595.2C1265.5 1594.2 1266.5 1593.5 1267.2 1592.6C1268 1591.7 1269.1 1591.1 1269.4 1590C1269.7 1588.8 1269.5 1586.9 1269 1585.6C1268.5 1584.3 1267.4 1583.1 1266.3 1582.1C1265.3 1581 1264 1580.3 1262.8 1579.4C1261.7 1578.6 1260.6 1577.4 1259.3 1576.8C1258 1576.2 1256.4 1576.2 1254.9 1575.9C1253.5 1575.6 1252 1575.5 1250.5 1575C1249.1 1574.6 1247.5 1574.2 1246.1 1573.3C1244.8 1572.4 1243.4 1570.9 1242.6 1569.8C1241.8 1568.6 1241.1 1567.3 1241.3 1566.3C1241.5 1565.2 1243.4 1564.5 1244 1563.6C1244.5 1562.7 1245 1562 1244.8 1561C1244.6 1560 1242.7 1558.4 1242.6 1557.5C1242.6 1556.5 1243.5 1555.9 1244.4 1555.3C1245.3 1554.7 1246.7 1553.8 1247.9 1554C1249.1 1554.1 1250.1 1555.4 1251.4 1556.2C1252.7 1557 1254.5 1558.4 1255.8 1558.8C1257.1 1559.2 1258.6 1559 1259.3 1558.4C1260.1 1557.7 1260.3 1556 1260.2 1554.8C1260.1 1553.7 1259.2 1552.6 1258.9 1551.3C1258.6 1550 1258.2 1548.3 1258.4 1546.9C1258.7 1545.6 1259.3 1544.4 1260.2 1543.4C1261.1 1542.4 1262.7 1541.5 1263.7 1540.8C1264.7 1540.1 1265.5 1539.3 1266.3 1539C1267.2 1538.8 1268 1539.6 1269 1539.5C1270 1539.3 1271.8 1539 1272.5 1538.2C1273.2 1537.4 1272.9 1536 1273.4 1534.6C1273.8 1533.3 1274.2 1531.4 1275.1 1530.3C1276 1529.1 1277.5 1528.3 1278.6 1527.6Z"/><path fill="#f3a7a6" d="M1301.5 1468.8C1304.4 1462.5 1313.2 1463.7 1319 1468.8C1324.9 1473.9 1334.7 1493.4 1336.6 1499.5C1338.5 1505.7 1331.8 1504.8 1330.5 1505.7C1329.1 1506.5 1329.5 1505 1328.7 1504.8C1327.9 1504.6 1326.5 1504.2 1325.6 1504.3C1324.7 1504.5 1323.9 1504.9 1323.4 1505.7C1323 1506.5 1323.3 1508 1323 1509.2C1322.7 1510.3 1322.3 1512.7 1321.7 1512.7C1321 1512.7 1319.9 1510.3 1319 1509.2C1318.2 1508 1317.4 1506.5 1316.4 1505.7C1315.4 1504.9 1314.1 1504.5 1312.9 1504.3C1311.7 1504.2 1310.6 1504.4 1309.4 1504.8C1308.1 1505.2 1306.7 1506.2 1305.4 1506.5C1304.1 1506.8 1302.1 1512.8 1301.5 1506.5C1300.8 1500.2 1298.5 1475.1 1301.5 1468.8Z"/><path fill="#f3a7a6" d="M1252.3 1527.6C1252.6 1526.7 1253.9 1525.5 1254.9 1525C1256 1524.5 1257.3 1524.3 1258.4 1524.5C1259.6 1524.8 1260.9 1525.5 1262 1526.3C1263 1527.1 1264.1 1528.3 1264.6 1529.4C1265.1 1530.5 1265.3 1532 1265 1532.9C1264.7 1533.8 1263.8 1534.4 1262.8 1534.6C1261.9 1534.9 1260.5 1534.6 1259.3 1534.2C1258.1 1533.8 1256.8 1532.7 1255.8 1532C1254.8 1531.4 1253.8 1531 1253.2 1530.3C1252.6 1529.5 1252 1528.5 1252.3 1527.6Z"/><path fill="#f3a7a6" d="M1105.5 1551.2C1108.7 1543.4 1117.7 1549.8 1120.3 1550.1C1122.9 1550.5 1121.8 1552 1121.4 1553.3C1120.9 1554.5 1118.5 1556.1 1117.7 1557.5C1116.8 1558.9 1115.3 1560.8 1116.1 1561.7C1116.9 1562.6 1120.5 1562.3 1122.4 1562.8C1124.3 1563.2 1126.3 1563.8 1127.7 1564.3C1129.1 1564.9 1130.2 1566.4 1130.8 1565.9C1131.5 1565.5 1130.8 1562.7 1131.4 1561.7C1131.9 1560.7 1133 1559.8 1134 1560.1C1135 1560.5 1136.5 1562.5 1137.2 1563.8C1137.9 1565.1 1138.2 1566.6 1138.2 1568C1138.2 1569.4 1136.8 1571 1137.2 1572.2C1137.5 1573.5 1139.3 1574.3 1140.3 1575.4C1141.4 1576.5 1142.8 1577.2 1143.5 1578.6C1144.2 1580 1144.2 1582.1 1144.5 1583.8C1144.9 1585.6 1145.2 1587.7 1145.6 1589.1C1146 1590.5 1147.3 1591.2 1147.2 1592.3C1147 1593.3 1145.7 1595.3 1144.5 1595.4C1143.4 1595.6 1141.9 1594 1140.3 1593.3C1138.7 1592.6 1136.8 1591.9 1135.1 1591.2C1133.3 1590.5 1131.4 1589.3 1129.8 1589.1C1128.2 1588.9 1126.7 1590.1 1125.6 1590.2C1124.4 1590.2 1122.8 1590.2 1122.9 1589.6C1123.1 1589.1 1125.7 1588 1126.6 1587C1127.5 1586 1128.4 1584.9 1128.2 1583.8C1128 1582.8 1126.4 1581.7 1125.6 1580.7C1124.8 1579.6 1124.3 1578.1 1123.5 1577.5C1122.6 1576.9 1121.3 1576.8 1120.3 1577C1119.3 1577.2 1118.1 1577.6 1117.7 1578.6C1117.2 1579.5 1117.4 1581.4 1117.7 1582.8C1117.9 1584.2 1118.7 1585.6 1119.2 1587C1119.8 1588.4 1120.5 1589.6 1120.8 1591.2C1121.2 1592.8 1120.6 1595.2 1121.4 1596.5C1122.1 1597.8 1124 1598.7 1125.6 1599.1C1127.1 1599.6 1129.1 1599.3 1130.8 1599.1C1132.6 1598.9 1134.4 1598.2 1136.1 1598.1C1137.9 1598 1140 1598.2 1141.4 1598.6C1142.8 1598.9 1143.7 1599.1 1144.5 1600.2C1145.3 1601.2 1145.9 1603.4 1146.1 1604.9C1146.4 1606.4 1146.6 1607.9 1146.1 1609.1C1145.7 1610.4 1144.5 1611.6 1143.5 1612.3C1142.5 1613 1141.7 1613.3 1140.3 1613.3C1138.9 1613.4 1136.6 1612.6 1135.1 1612.8C1133.5 1613 1132.1 1613.6 1130.8 1614.4C1129.6 1615.2 1128.4 1616.7 1127.7 1617.6C1127 1618.4 1126.3 1619.1 1126.6 1619.7C1127 1620.2 1129.2 1620 1129.8 1620.7C1130.4 1621.4 1130.5 1622.8 1130.3 1623.9C1130.1 1624.9 1128.3 1626.2 1128.7 1627C1129.2 1627.9 1131.5 1628.3 1132.9 1629.2C1134.4 1630 1136.1 1631.3 1137.2 1632.3C1138.2 1633.4 1139.1 1634.3 1139.3 1635.5C1139.4 1636.7 1138.9 1638.7 1138.2 1639.7C1137.5 1640.7 1136.3 1640.4 1135.1 1641.3C1133.8 1642.2 1135.8 1644.4 1130.8 1645C1125.9 1645.6 1110.5 1653 1105.5 1645C1100.6 1636.9 1101.3 1612.1 1101.3 1596.5C1101.3 1580.8 1102.4 1558.9 1105.5 1551.2Z"/><path fill="#f3a7a6" d="M1200.4 1619.7C1201.3 1619.1 1204.3 1620.5 1206.7 1620.2C1209.2 1619.9 1213.6 1618.2 1215.2 1618.1C1216.7 1618 1216.9 1618.9 1216.2 1619.7C1215.5 1620.5 1213.4 1622.2 1210.9 1622.8C1208.5 1623.4 1203.2 1623.9 1201.5 1623.4C1199.7 1622.8 1199.5 1620.2 1200.4 1619.7Z"/><ellipse fill="#f3a7a6" cx="1139.1" cy="1550.8" rx="1.1" ry="1.1"/><ellipse fill="#f3a7a6" cx="1141.9" cy="1616" rx="1.1" ry="1.1"/><ellipse fill="#f3a7a6" cx="1149.5" cy="1618.4" rx="1.1" ry="1.1"/><ellipse fill="#f3a7a6" cx="1229.9" cy="1553.3" rx="2.2" ry="2.2"/><ellipse fill="#f3a7a6" cx="1246.3" cy="1490.3" rx="1.4" ry="1.4"/><ellipse fill="#f3a7a6" cx="1293.7" cy="1546.8" rx="0" ry="0"/><path fill="#aaaaff" d="M1346.3 1539C1345 1540.5 1346.3 1542 1346.7 1543.4C1347.1 1544.9 1348.2 1546.4 1348.9 1547.8C1349.5 1549.3 1349.8 1550.7 1350.6 1552.2C1351.5 1553.7 1353.4 1555.4 1354.2 1556.6C1354.9 1557.8 1355.3 1558.5 1355 1559.2C1354.7 1560 1353.4 1560.5 1352.4 1561C1351.4 1561.4 1349.7 1561.3 1348.9 1561.9C1348.1 1562.5 1347.4 1563.5 1347.6 1564.5C1347.7 1565.5 1348.8 1567.2 1349.8 1568C1350.7 1568.8 1352 1569.3 1353.3 1569.3C1354.6 1569.3 1356.1 1568.1 1357.7 1568C1359.3 1567.9 1361.5 1568.3 1362.9 1568.9C1364.4 1569.5 1365.4 1570.6 1366.5 1571.5C1367.5 1572.4 1368.4 1573 1369.1 1574.2C1369.8 1575.3 1370.4 1577.2 1370.8 1578.6C1371.3 1579.9 1371 1581.2 1371.7 1582.1C1372.5 1582.9 1374.1 1583.7 1375.2 1583.8C1376.4 1584 1377.6 1583.4 1378.7 1582.9C1379.9 1582.5 1380.5 1581.5 1382.3 1581.2C1384 1580.9 1388.1 1583.8 1389.3 1581.2C1390.5 1578.6 1393.7 1572.4 1389.3 1565.4C1384.9 1558.4 1368.8 1544.2 1362.9 1539C1357.1 1533.9 1356.9 1534.6 1354.2 1534.6C1351.4 1534.6 1347.5 1537.6 1346.3 1539Z"/><path fill="#aaaaff" d="M1360.3 1589.1C1360.2 1588.1 1361.2 1587 1362.1 1586.5C1362.9 1585.9 1364.5 1585.8 1365.6 1586C1366.7 1586.2 1368.1 1587 1368.6 1587.8C1369.2 1588.6 1369.5 1590 1369.1 1590.8C1368.7 1591.7 1367.5 1592.4 1366.5 1592.6C1365.4 1592.8 1364 1592.7 1362.9 1592.2C1361.9 1591.6 1360.5 1590 1360.3 1589.1Z"/><ellipse fill="#aaaaff" cx="1281.7" cy="1590.6" rx="2.1" ry="1.7"/><ellipse fill="#aaaaff" cx="1266.3" cy="1549.7" rx="0.7" ry="0.7"/><path fill="#aaaaff" d="M1323.4 1505.7C1323.6 1504.6 1324.7 1504.5 1325.6 1504.3C1326.5 1504.2 1327.7 1504.3 1328.7 1504.8C1329.6 1505.3 1330.7 1506.1 1331.3 1507.4C1331.9 1508.7 1332.4 1511.5 1332.2 1512.7C1332.1 1513.9 1331.3 1514.3 1330.5 1514.4C1329.6 1514.6 1328 1514.2 1326.9 1513.6C1325.9 1513 1324.9 1512.3 1324.3 1510.9C1323.7 1509.6 1323.2 1506.8 1323.4 1505.7Z"/><ellipse fill="#aaaaff" cx="1281.8" cy="1590.6" rx="2.2" ry="1.7"/><path fill="#aaaaff" d="M1275.2 1609.2C1275.7 1608.5 1277.1 1607.3 1278.4 1606.8C1279.7 1606.3 1281.9 1605.9 1283.2 1606C1284.5 1606.1 1285.7 1606.9 1286 1607.6C1286.3 1608.3 1285.7 1609.3 1284.8 1610C1283.9 1610.7 1282 1611.3 1280.8 1611.6C1279.6 1611.9 1278.5 1612.1 1277.6 1612C1276.7 1611.9 1276 1611.3 1275.6 1610.8C1275.2 1610.3 1274.7 1609.9 1275.2 1609.2Z"/><path fill="#aaaaff" d="M1265.2 1625.2C1265.4 1624.8 1266.3 1624.3 1267.2 1624.8C1268.1 1625.3 1269.3 1627.1 1270.4 1628C1271.5 1628.9 1273.3 1629.7 1273.6 1630.4C1273.9 1631.1 1272.8 1632.1 1272 1632C1271.2 1631.9 1269.8 1630.4 1268.8 1629.6C1267.8 1628.8 1266.6 1627.9 1266 1627.2C1265.4 1626.5 1265 1625.6 1265.2 1625.2Z"/><path fill="#aaaaff" d="M1289.6 1640.8C1290.3 1640 1291.1 1639.2 1292 1639.2C1292.9 1639.2 1294.3 1641.1 1295.2 1640.8C1296.1 1640.5 1296.5 1638.3 1297.6 1637.6C1298.7 1636.9 1300.1 1636.5 1301.6 1636.4C1303.1 1636.3 1305.3 1637.3 1306.4 1636.8C1307.5 1636.3 1307.3 1634.3 1308 1633.6C1308.7 1632.9 1309.2 1632.7 1310.4 1632.8C1311.6 1632.9 1313.6 1633.9 1315.2 1634.4C1316.8 1634.9 1318.4 1635.4 1320 1635.6C1321.6 1635.8 1323.2 1635.5 1324.8 1635.6C1326.4 1635.7 1328.1 1635.9 1329.6 1636.4C1331.1 1636.9 1332.4 1637.7 1333.6 1638.4C1334.8 1639.1 1335.8 1640 1336.8 1640.8C1337.8 1641.6 1339.1 1642.4 1339.6 1643.2C1340.1 1644 1340.3 1645.1 1340 1645.6C1339.7 1646.1 1338.5 1646.5 1337.6 1646.4C1336.7 1646.3 1335.5 1645.2 1334.4 1644.8C1333.3 1644.4 1332 1643.9 1331.2 1644C1330.4 1644.1 1329.5 1644.9 1329.6 1645.6C1329.7 1646.3 1331.3 1647.1 1332 1648C1332.7 1648.9 1332.9 1650.1 1333.6 1651.2C1334.3 1652.3 1335.7 1653.6 1336 1654.4C1336.3 1655.2 1336 1655.7 1335.2 1656C1334.4 1656.3 1332.5 1656.5 1331.2 1656.4C1329.9 1656.3 1328.5 1655.7 1327.2 1655.2C1325.9 1654.7 1324.4 1654.2 1323.2 1653.6C1322 1653 1321.2 1652.1 1320 1651.6C1318.8 1651.1 1317.2 1650.5 1316 1650.4C1314.8 1650.3 1313.7 1650.5 1312.8 1651.2C1311.9 1651.9 1310.5 1653.3 1310.4 1654.4C1310.3 1655.5 1311.2 1656.7 1312 1657.6C1312.8 1658.5 1314.1 1659.3 1315.2 1660C1316.3 1660.7 1317.6 1660.9 1318.4 1661.6C1319.2 1662.3 1320 1662.9 1320 1664C1320 1665.1 1322.4 1666.7 1318.4 1668C1314.4 1669.3 1301.1 1674.7 1296 1672C1290.9 1669.3 1289.3 1656.7 1288 1652C1286.7 1647.3 1287.7 1645.9 1288 1644C1288.3 1642.1 1288.9 1641.6 1289.6 1640.8Z"/><path fill="#aaaaff" d="M1343.2 1627.2C1343.3 1626.8 1344.5 1626.9 1345.6 1627.2C1346.7 1627.5 1348.7 1628.3 1349.6 1628.8C1350.5 1629.3 1351.1 1630.1 1350.8 1630.4C1350.5 1630.7 1349 1630.9 1348 1630.8C1347 1630.7 1345.6 1630.2 1344.8 1629.6C1344 1629 1343.1 1627.6 1343.2 1627.2Z"/><ellipse fill="#aaaaff" cx="1364.6" cy="1589.8" rx="4.6" ry="3.2"/><path fill="#aaaaff" d="M1379.2 1585.6C1380 1586.8 1378.1 1588.1 1377.6 1589.6C1377.1 1591.1 1377.1 1593.2 1376 1594.4C1374.9 1595.6 1372.3 1595.9 1371.2 1596.8C1370.1 1597.7 1370.4 1598.9 1369.6 1600C1368.8 1601.1 1366.7 1602 1366.4 1603.2C1366.1 1604.4 1367.1 1606 1368 1607.2C1368.9 1608.4 1370.7 1609.5 1372 1610.4C1373.3 1611.3 1375.1 1611.9 1376 1612.8C1376.9 1613.7 1376.9 1615.6 1377.6 1616C1378.3 1616.4 1379.7 1615.9 1380 1615.2C1380.3 1614.5 1378.7 1612.8 1379.2 1612C1379.7 1611.2 1381.1 1611.7 1383.2 1610.4C1385.3 1609.1 1390.5 1610.4 1392 1604C1393.5 1597.6 1394.7 1577.3 1392 1572C1389.3 1566.7 1378.8 1571.2 1376 1572C1373.2 1572.8 1376 1575.7 1375.2 1576.8C1374.4 1577.9 1371.6 1577.5 1371.2 1578.4C1370.8 1579.3 1371.5 1581.2 1372.8 1582.4C1374.1 1583.6 1378.4 1584.4 1379.2 1585.6Z"/><path fill="#1c08fa" d="M1168.8 1525.9C1168.6 1531.1 1168 1531.1 1167.7 1533.2C1167.5 1535.3 1167 1536.9 1167.2 1538.5C1167.4 1540.1 1167.8 1541.5 1168.8 1542.7C1169.7 1544 1171.4 1544.8 1173 1545.9C1174.6 1546.9 1176.7 1548.1 1178.3 1549.1C1179.8 1550 1181.1 1551.6 1182.5 1551.7C1183.9 1551.8 1185.6 1550.5 1186.7 1549.6C1187.8 1548.6 1187.9 1547.2 1188.8 1545.9C1189.7 1544.6 1190.7 1543.1 1192 1541.7C1193.2 1540.3 1194.6 1538.4 1196.2 1537.5C1197.8 1536.5 1199.9 1536.8 1201.5 1535.9C1203 1535 1204.1 1533.1 1205.7 1532.2C1207.3 1531.3 1209.2 1531 1210.9 1530.6C1212.7 1530.3 1214.5 1530 1216.2 1530.1C1218 1530.2 1220 1531 1221.5 1531.1C1223 1531.3 1224.9 1531.7 1225.2 1531.1C1225.4 1530.5 1222.8 1528.7 1223.1 1527.4C1223.3 1526.2 1225.4 1524.9 1226.8 1523.8C1228.1 1522.6 1229.7 1521.6 1231 1520.6C1232.2 1519.5 1233.3 1518.6 1234.1 1517.4C1234.9 1516.3 1235.9 1514.9 1235.7 1513.7C1235.5 1512.6 1234.2 1511.4 1233.1 1510.6C1231.9 1509.8 1230 1509.7 1228.9 1509C1227.7 1508.3 1226.2 1507.3 1226.2 1506.4C1226.2 1505.4 1227.5 1504.1 1228.9 1503.2C1230.2 1502.3 1232.4 1501.5 1234.1 1501.1C1235.9 1500.7 1237.8 1500.8 1239.4 1500.6C1241 1500.3 1242.7 1500.2 1243.6 1499.5C1244.5 1498.8 1244.9 1497.3 1244.7 1496.4C1244.4 1495.4 1242.9 1494.3 1242 1493.7C1241.2 1493.1 1240.1 1492.2 1239.4 1492.7C1238.7 1493.1 1238.5 1495.9 1237.8 1496.4C1237.1 1496.8 1235.6 1496 1235.2 1495.3C1234.7 1494.6 1235.7 1492.8 1235.2 1492.1C1234.7 1491.4 1232.8 1491.6 1232 1491.1C1231.2 1490.6 1230.5 1489.9 1230.4 1489C1230.4 1488.1 1231.8 1486.5 1231.5 1485.8C1231.2 1485.1 1229.8 1485.3 1228.9 1484.8C1227.9 1484.2 1227.8 1484.1 1225.7 1482.6C1223.6 1481.2 1225.7 1473.2 1216.2 1476.3C1206.7 1479.5 1176.7 1493.4 1168.8 1501.6C1160.9 1509.9 1169 1520.6 1168.8 1525.9Z"/><path fill="#1c08fa" d="M1150.3 1548.5C1150.9 1547.6 1152.5 1546.5 1154 1545.9C1155.5 1545.3 1157.9 1544.7 1159.3 1544.8C1160.7 1545 1161.5 1546.1 1162.5 1546.9C1163.4 1547.8 1165.1 1549.1 1165.1 1550.1C1165.1 1551.1 1163.6 1552 1162.5 1552.7C1161.3 1553.4 1159.6 1554.1 1158.2 1554.3C1156.8 1554.6 1155.3 1554.8 1154 1554.3C1152.8 1553.9 1151.5 1552.7 1150.9 1551.7C1150.2 1550.7 1149.8 1549.5 1150.3 1548.5Z"/><path fill="#1c08fa" d="M1163.5 1580.1C1164.4 1579.4 1167.2 1579.4 1168.8 1578.6C1170.4 1577.8 1171.4 1576.2 1173 1575.4C1174.6 1574.6 1176.8 1573.8 1178.3 1573.8C1179.8 1573.8 1181.3 1574.3 1182 1575.4C1182.7 1576.5 1182.6 1578.7 1182.5 1580.7C1182.4 1582.6 1182.1 1585.1 1181.4 1587C1180.7 1588.9 1179.1 1590.7 1178.3 1592.3C1177.4 1593.8 1177 1595.3 1176.2 1596.5C1175.3 1597.7 1174.4 1599.2 1173 1599.6C1171.6 1600.1 1169.3 1599.6 1167.7 1599.1C1166.1 1598.7 1164.3 1597.6 1163.5 1597C1162.7 1596.4 1162.5 1596.2 1163 1595.4C1163.5 1594.6 1165.9 1593.3 1166.7 1592.3C1167.5 1591.2 1168 1590.2 1167.7 1589.1C1167.5 1588.1 1165.8 1587 1165.1 1585.9C1164.4 1584.9 1163.8 1583.7 1163.5 1582.8C1163.2 1581.8 1162.6 1580.8 1163.5 1580.1Z"/><path fill="#1c08fa" d="M1244 1515.3C1244.2 1514.6 1245.2 1514 1246.1 1513.6C1247.1 1513.1 1248.8 1513.3 1249.7 1512.7C1250.5 1512.1 1250.7 1511.1 1251.4 1510.1C1252.1 1509 1252.9 1507.4 1254.1 1506.5C1255.2 1505.7 1257 1505.1 1258.4 1504.8C1259.9 1504.5 1261.5 1504.5 1262.8 1504.8C1264.1 1505.1 1265.2 1505.8 1266.3 1506.5C1267.5 1507.3 1268.4 1508.3 1269.9 1509.2C1271.3 1510.1 1273.4 1510.9 1275.1 1511.8C1276.9 1512.7 1278.6 1513.6 1280.4 1514.4C1282.2 1515.3 1284.1 1516.2 1285.7 1517.1C1287.3 1518 1288.6 1518.7 1290.1 1519.7C1291.5 1520.7 1294.4 1522.6 1294.4 1523.2C1294.4 1523.8 1291.5 1523.7 1290.1 1523.2C1288.6 1522.8 1287.3 1521.5 1285.7 1520.6C1284.1 1519.6 1282.2 1518.5 1280.4 1517.5C1278.6 1516.6 1276.7 1515.6 1275.1 1514.9C1273.5 1514.2 1272.2 1513.6 1270.7 1513.1C1269.3 1512.7 1267.8 1512.5 1266.3 1512.3C1264.9 1512 1263.3 1511.4 1262 1511.4C1260.6 1511.4 1259.5 1511.8 1258.4 1512.3C1257.4 1512.7 1256.8 1513.4 1255.8 1514C1254.8 1514.6 1253.3 1515 1252.3 1515.8C1251.3 1516.5 1250.5 1517.7 1249.7 1518.4C1248.8 1519.1 1247.9 1519.9 1247 1519.9C1246.1 1519.8 1244.9 1518.9 1244.4 1518.1C1243.9 1517.4 1243.7 1516.1 1244 1515.3Z"/><path fill="#1c08fa" d="M1254.1 1485.5C1254.3 1484.6 1255.5 1483.8 1256.7 1483.3C1257.9 1482.8 1259.6 1482.6 1261.1 1482.4C1262.5 1482.2 1263.9 1482 1265.5 1482C1267.1 1481.9 1270 1481.2 1270.7 1482C1271.5 1482.7 1270.4 1484.9 1269.9 1486.3C1269.3 1487.8 1268 1489.2 1267.2 1490.7C1266.4 1492.3 1265.9 1495.1 1265 1495.6C1264.1 1496.1 1263.1 1494.5 1262 1493.8C1260.9 1493.1 1259.6 1492.1 1258.4 1491.2C1257.3 1490.3 1255.7 1489.5 1254.9 1488.5C1254.2 1487.6 1253.8 1486.3 1254.1 1485.5Z"/><path fill="#1c08fa" d="M1351.1 1541.7C1351.2 1540.8 1352.4 1539.9 1353.3 1540.4C1354.2 1540.8 1355.4 1542.8 1356.4 1544.3C1357.3 1545.8 1358.1 1547.8 1359 1549.6C1359.9 1551.3 1361.5 1553.8 1361.6 1554.8C1361.7 1555.8 1360.6 1556.2 1359.6 1555.5C1358.7 1554.9 1357.1 1552.5 1355.9 1550.9C1354.7 1549.2 1353.2 1547.2 1352.4 1545.6C1351.6 1544.1 1350.9 1542.5 1351.1 1541.7Z"/><path fill="#1c08fa" d="M1383.2 1592C1384.1 1591.1 1386.9 1590.3 1388 1591.2C1389.1 1592.1 1389.6 1595.5 1389.6 1597.6C1389.6 1599.7 1388.8 1602.1 1388 1604C1387.2 1605.9 1385.9 1607.8 1384.8 1608.8C1383.7 1609.8 1382.4 1610.2 1381.6 1609.8C1380.8 1609.4 1380.1 1607.8 1380 1606.4C1379.9 1605 1380.4 1603.2 1380.8 1601.6C1381.2 1600 1382 1598.4 1382.4 1596.8C1382.8 1595.2 1382.3 1592.9 1383.2 1592Z"/><ellipse fill="#1c08fa" cx="1374.6" cy="1604" rx="1.2" ry="1"/><ellipse fill="#1c08fa" cx="1329.1" cy="1509.6" rx="1.4" ry="1.8"/><ellipse fill="#1c08fa" cx="1368.4" cy="1563.8" rx="1.2" ry="0.8"/><ellipse fill="#1c08fa" cx="1372.8" cy="1567.8" rx="1.2" ry="0.9"/><ellipse fill="#1c08fa" cx="1241.8" cy="1488.1" rx="0.7" ry="0.7"/><ellipse fill="#1c08fa" cx="1252.3" cy="1495.3" rx="0.5" ry="0.5"/><ellipse fill="#1c08fa" cx="1241.5" cy="1488.1" rx="0.8" ry="0.8"/><ellipse fill="#1c08fa" cx="1374.5" cy="1604" rx="0.9" ry="0.7"/><path fill="#1a0c9c" d="M1204.6 1501.6C1205.2 1500.5 1206.6 1499.2 1207.8 1499C1209 1498.8 1210.9 1500 1212 1500.6C1213.1 1501.2 1213.1 1502.5 1214.1 1502.7C1215.2 1502.9 1217.1 1501.3 1218.3 1501.6C1219.5 1502 1221.1 1503.6 1221.5 1504.8C1221.8 1506 1220.3 1507.6 1220.4 1509C1220.6 1510.4 1222.7 1512 1222.5 1513.2C1222.4 1514.4 1220.6 1515.7 1219.4 1516.4C1218.1 1517.1 1216.6 1517.1 1215.2 1517.4C1213.8 1517.8 1212.2 1518.8 1210.9 1518.5C1209.7 1518.1 1208.7 1516.6 1207.8 1515.3C1206.9 1514.1 1206.3 1512.7 1205.7 1511.1C1205.1 1509.5 1204.3 1507.4 1204.1 1505.8C1203.9 1504.3 1204 1502.8 1204.6 1501.6Z"/><ellipse fill="#1c08fa" cx="1214.1" cy="1513.7" rx="2" ry="2"/><path fill="#1a0c9c" d="M1170.9 1517.4C1171.2 1516.3 1173.7 1514.2 1175.1 1513.2C1176.5 1512.2 1177.7 1512.2 1179.3 1511.6C1180.9 1511 1183 1509.6 1184.6 1509.5C1186.2 1509.4 1187.4 1510.1 1188.8 1510.9C1190.2 1511.7 1192.8 1513.4 1193 1514.3C1193.2 1515.2 1191.1 1516.2 1189.9 1516.4C1188.6 1516.6 1186.9 1515 1185.6 1515.3C1184.4 1515.7 1183.4 1517.4 1182.5 1518.5C1181.6 1519.5 1181.4 1521.3 1180.4 1521.6C1179.3 1522 1177.4 1520.9 1176.2 1520.6C1174.9 1520.3 1173.9 1520.3 1173 1519.7C1172.1 1519.2 1170.5 1518.5 1170.9 1517.4Z"/><ellipse fill="#1a0c9c" cx="1197.2" cy="1519.5" rx="1.1" ry="0.8"/><ellipse fill="#1a0c9c" cx="1200.4" cy="1528.7" rx="0.8" ry="0.7"/><ellipse fill="#1a0c9c" cx="1263.7" cy="1485.6" rx="1.9" ry="1.1"/><ellipse fill="#1a0c9c" cx="1387" cy="1597.2" rx="0.8" ry="3.2"/><ellipse fill="#1a0c9c" cx="1354.2" cy="1544.7" rx="0.9" ry="1.9"/><path fill="#fb1d0f" d="M1327.8 1539C1328.5 1538 1329.6 1537.5 1330.5 1537.3C1331.3 1537.1 1332.4 1537.3 1333.1 1537.7C1333.8 1538.2 1334.8 1539 1334.8 1539.9C1334.9 1540.9 1334 1542.3 1333.5 1543.4C1333.1 1544.6 1332.7 1546.4 1332.2 1546.9C1331.7 1547.4 1330.9 1546.2 1330.5 1546.5C1330 1546.8 1329.4 1547.9 1329.6 1548.7C1329.7 1549.5 1330.6 1550.6 1331.3 1551.3C1332.1 1552.1 1332.9 1552.5 1334 1553.1C1335 1553.7 1336.3 1554.6 1337.5 1554.8C1338.6 1555.1 1340.3 1554.1 1341 1554.4C1341.7 1554.7 1342 1555.8 1341.9 1556.6C1341.7 1557.4 1341 1558.6 1340.1 1559.2C1339.2 1559.9 1337.5 1559.8 1336.6 1560.5C1335.7 1561.3 1334.8 1562.4 1334.8 1563.6C1334.8 1564.9 1336 1566.7 1336.6 1568C1337.2 1569.3 1337.6 1570.6 1338.4 1571.5C1339.1 1572.4 1340.3 1572.8 1341 1573.3C1341.7 1573.7 1342.4 1573.4 1342.7 1574.2C1343.1 1574.9 1343.3 1576.9 1343.2 1577.7C1343 1578.5 1341.9 1578.5 1341.9 1579C1341.9 1579.5 1342.7 1580.1 1343.2 1580.5C1343.7 1580.8 1344.9 1580.5 1344.9 1581.2C1345 1581.9 1344.3 1583.7 1343.6 1584.7C1343 1585.6 1342 1586.7 1341 1586.9C1340 1587 1338.5 1586.1 1337.5 1585.6C1336.5 1585.1 1335.6 1584.7 1334.8 1583.8C1334.1 1582.9 1333.8 1581.2 1333.1 1580.3C1332.4 1579.4 1331.3 1579 1330.5 1578.6C1329.6 1578.1 1328.7 1578.4 1327.8 1577.7C1326.9 1576.9 1326 1575.3 1325.2 1574.2C1324.4 1573 1323.4 1571.8 1323 1570.6C1322.5 1569.5 1322.3 1568 1322.5 1567.1C1322.8 1566.3 1323.4 1566 1324.3 1565.4C1325.2 1564.8 1327.2 1564.2 1327.8 1563.6C1328.4 1563 1328.4 1562.3 1327.8 1561.9C1327.2 1561.4 1324.8 1561.6 1324.3 1561C1323.8 1560.4 1324.3 1559.1 1324.7 1558.4C1325.2 1557.6 1327 1557.2 1326.9 1556.6C1326.9 1556 1325.1 1555.4 1324.3 1554.8C1323.5 1554.3 1322.3 1553.8 1322.1 1553.1C1321.9 1552.4 1322.4 1551.3 1323 1550.5C1323.6 1549.6 1325 1549 1325.6 1547.8C1326.2 1546.6 1326.1 1544.9 1326.5 1543.4C1326.9 1542 1327.2 1540.1 1327.8 1539Z"/><ellipse fill="#f3a7a6" cx="1339.7" cy="1576.4" rx="1.2" ry="1.2"/><ellipse fill="#fb1d0f" cx="1293.7" cy="1546.8" rx="1.1" ry="1.1"/><ellipse fill="#fb1d0f" cx="1316.2" cy="1555.5" rx="1.1" ry="0.9"/><path fill="#fb1d0f" d="M1314.6 1492.5C1314.6 1491.5 1315.8 1490.6 1316.4 1490.7C1317 1490.9 1317.6 1492.3 1318.2 1493.4C1318.7 1494.4 1319 1495.8 1319.5 1496.9C1320 1498 1320.4 1499.2 1321.2 1500C1322 1500.7 1323.1 1500.6 1324.3 1501.3C1325.5 1501.9 1328.1 1503.9 1328.7 1503.9C1329.3 1503.9 1328.5 1502.2 1327.8 1501.3C1327.1 1500.4 1325.8 1498.8 1324.3 1498.6C1322.8 1498.5 1320.4 1500.9 1319 1500.6C1317.7 1500.3 1317.1 1498.2 1316.4 1496.9C1315.7 1495.5 1314.6 1493.5 1314.6 1492.5Z"/><ellipse fill="#fb1d0f" cx="1312.9" cy="1481.5" rx="1.1" ry="0.8"/><ellipse fill="#fb1d0f" cx="1335.5" cy="1520.6" rx="0.6" ry="1.1"/><ellipse fill="#fb1d0f" cx="1336.4" cy="1527.8" rx="0.6" ry="1.1"/><ellipse fill="#fb1d0f" cx="1357.4" cy="1615.6" rx="1.5" ry="1.1"/><ellipse fill="#fb1d0f" cx="1367.2" cy="1634.4" rx="0.8" ry="0.8"/><ellipse fill="#fb1d0f" cx="1366.4" cy="1640.2" rx="1.4" ry="1.6"/><path fill="#fb1d0f" d="M1363.2 1618.8C1363.6 1618.6 1365.9 1619.4 1367.2 1619.2C1368.5 1619 1370.3 1617.3 1371.2 1617.4C1372.1 1617.6 1372.3 1619.2 1372.8 1620C1373.3 1620.8 1373.9 1621.7 1374.4 1622.4C1374.9 1623.1 1376.1 1623.7 1376 1624C1375.9 1624.3 1374.4 1624.7 1373.6 1624.5C1372.8 1624.2 1372.1 1623 1371.2 1622.6C1370.3 1622.1 1369.1 1622.2 1368 1621.8C1366.9 1621.4 1365.6 1620.7 1364.8 1620.2C1364 1619.7 1362.8 1619 1363.2 1618.8Z"/><path fill="#fb1d0f" d="M1356.8 1628C1357.2 1627.3 1358.8 1626.9 1360 1626.4C1361.2 1625.9 1362.7 1625.3 1364 1624.8C1365.3 1624.3 1366.9 1623.5 1368 1623.6C1369.1 1623.7 1370.1 1624.7 1370.4 1625.6C1370.7 1626.5 1370.1 1627.9 1369.6 1628.8C1369.1 1629.7 1368 1630.5 1367.2 1631.2C1366.4 1631.9 1365.6 1632.4 1364.8 1632.8C1364 1633.2 1363.2 1633.9 1362.4 1633.8C1361.6 1633.6 1360.8 1632.6 1360 1632C1359.2 1631.4 1358.1 1631.1 1357.6 1630.4C1357.1 1629.7 1356.4 1628.7 1356.8 1628Z"/><ellipse fill="#f3a7a6" cx="1360" cy="1630" rx="0.7" ry="1"/><path fill="#fb1d0f" d="M1342.8 1658.8C1342.7 1658.3 1344.1 1656.1 1344.8 1656C1345.5 1655.9 1346.4 1657.9 1347.2 1658C1348 1658.1 1348.5 1656.9 1349.6 1656.8C1350.7 1656.7 1352.3 1657.2 1353.6 1657.2C1354.9 1657.2 1356.1 1657.1 1357.6 1656.8C1359.1 1656.5 1361.9 1655.2 1362.8 1655.6C1363.7 1656 1363.5 1658.4 1362.8 1659.2C1362.1 1660 1359.9 1660.3 1358.4 1660.6C1356.9 1660.9 1355.1 1660.8 1353.6 1661C1352.1 1661.1 1350.7 1661.4 1349.6 1661.4C1348.5 1661.3 1347.9 1661.2 1347.2 1660.8C1346.5 1660.4 1346.3 1659.1 1345.6 1658.8C1344.9 1658.5 1342.9 1659.3 1342.8 1658.8Z"/><path fill="#fb1d0f" d="M1326.4 1682.4C1326.9 1682.1 1330.4 1684.3 1332 1684.8C1333.6 1685.3 1334.7 1685.2 1336 1685.6C1337.3 1686 1338.9 1686.5 1340 1687.2C1341.1 1687.9 1342.5 1689.1 1342.4 1689.6C1342.3 1690.1 1340.3 1690.4 1339.2 1690.4C1338.1 1690.4 1336.9 1689.5 1336 1689.6C1335.1 1689.7 1334.4 1691.3 1333.6 1691.2C1332.8 1691.1 1332 1689.6 1331.2 1688.8C1330.4 1688 1329.6 1687.5 1328.8 1686.4C1328 1685.3 1325.9 1682.7 1326.4 1682.4Z"/><path fill="#fb1d0f" d="M1344 1685.6C1344.1 1684.7 1346.4 1684.1 1348 1683.6C1349.6 1683.1 1352.8 1681.8 1353.6 1682.4C1354.4 1683 1353.3 1685.6 1352.8 1687.2C1352.3 1688.8 1351.6 1690.7 1350.8 1692C1350 1693.3 1348.7 1695.2 1348 1695.2C1347.3 1695.2 1346.5 1693.1 1346.4 1692C1346.3 1690.9 1347.6 1689.9 1347.2 1688.8C1346.8 1687.7 1343.9 1686.5 1344 1685.6Z"/><path fill="#fb1d0f" d="M1332 1695.2C1332 1694.7 1334.8 1696.8 1336 1697.6C1337.2 1698.4 1338.1 1699.9 1339.2 1700C1340.3 1700.1 1342.3 1698.1 1342.4 1698.4C1342.5 1698.7 1341.1 1701.2 1340 1701.6C1338.9 1702 1337.3 1701.9 1336 1700.8C1334.7 1699.7 1332 1695.7 1332 1695.2Z"/></g>
<g fill="none" stroke="#000" stroke-width="2.4" stroke-linejoin="round" stroke-linecap="round"><path d="M1110.3 1584.9L1109.6 1583.4L1109.1 1581.7L1107.9 1580.5L1107.1 1579L1106.4 1577.5L1105.6 1575.9L1107.1 1576.9L1108.7 1577.7L1110.4 1578.5L1112.3 1578.3L1113.9 1579.3L1113.2 1578L1113.5 1576.5L1112.8 1575.2L1111.7 1574.1L1111.8 1572.4L1111 1571.1L1110.2 1569.8L1109.5 1568.5L1108.6 1567.2L1108.3 1565.6L1108.8 1564L1109.4 1562.2L1110.6 1560.8L1110.6 1559.5L1110.5 1558.1L1111.1 1556.8L1110.3 1555.2L1111.3 1553.7L1111.6 1552L1112.5 1551.1L1113.2 1550L1113.6 1551.9L1114.3 1553.6L1115.3 1552.5L1116.8 1552.1L1117.7 1551L1119.1 1550.4L1120.3 1549.6L1121.5 1548.7L1122.8 1547.6L1124.1 1546.8L1125.5 1545.8L1126.9 1545.4L1127.9 1544.3L1129.4 1543.9L1130.4 1542.7L1132.2 1542.6L1133.5 1541.7L1135.4 1541.7L1136.7 1542.7L1138.3 1542.5L1139.5 1541.4L1140.9 1541L1142.1 1540.1L1143.3 1539.3L1144.9 1539.2L1146.3 1538.8L1147.4 1537.6L1148.8 1537L1150.2 1537.1L1151.5 1537.8L1152.9 1537.5L1154.3 1536.6L1156 1536.2L1157.6 1535.8L1158.8 1535L1160.4 1535.2L1161.6 1534.2L1163.1 1533L1164.4 1531.5L1164.9 1530L1166 1528.7L1166.4 1527L1167.8 1526.3L1168.7 1525L1169.8 1524.1L1170.8 1523.2L1170.1 1522L1169.9 1520.7L1169.9 1519.1L1169.5 1517.5L1170.7 1516.8L1171.2 1515.4L1172.6 1514.2L1174.1 1513.3L1176 1513.5L1176.9 1515L1176.7 1516.9L1178.3 1517.7L1179.2 1519.1L1180.4 1517.6L1180.8 1515.9L1180.2 1514.7L1179.4 1513.4L1179.3 1511.7L1180.7 1511.7L1181.9 1511.1L1183.3 1511.2L1184.7 1511.2L1186 1511.6L1187.5 1511.8L1186.5 1510.3L1185.8 1508.7L1186.3 1507.1L1186.1 1505.3L1187.5 1505L1189.1 1505.2L1190.2 1504.3L1190.8 1503.1L1190.4 1501.5L1190.6 1500L1192.3 1499.7L1193.6 1498.6L1195.3 1497.8L1196.2 1496.5L1197.8 1496.2L1199.3 1495.8L1200.5 1494.4L1202.3 1493.3L1203.4 1494.5L1205.1 1494.6L1205.9 1495.8L1207.3 1496.4L1208 1497.6L1208.9 1498.6L1209.9 1499.5L1210.7 1500.6L1210.8 1502.5L1211.2 1504.2L1211.9 1502.8L1213 1501.5L1214.6 1501.6L1216.2 1501.1L1217.9 1501.9L1219.5 1503.3L1220.7 1502L1222 1501.6L1221.2 1500L1220.6 1498.3L1220.8 1496.5L1221.7 1495L1222.5 1493.7L1223.5 1492.4L1224 1491L1224.9 1489.4L1226 1488L1227.4 1486.8L1228.3 1485.1L1229.4 1484.4L1230.4 1483.5L1231.3 1482.7L1230.2 1481.7L1229.8 1480.5L1228.3 1479.7L1226.6 1479.8L1225.2 1479.9L1225 1478.4L1225.9 1477.2L1226.2 1475.8L1227.9 1476.8L1229.8 1477.3L1231.5 1477.7L1233 1476.8L1234.7 1476.5L1236.3 1476.2L1237.9 1475.6L1239.2 1475.2L1240.6 1474.8L1241.7 1474.3L1242.3 1476L1243.5 1477.4L1244.2 1477.5L1245.4 1478.6L1246.7 1479.4L1248.3 1479.8L1249.5 1480.6L1250.8 1481.2L1252.3 1481.5L1253.6 1481.4L1254.9 1481.1L1256.3 1481.1L1257.6 1481.7L1259.1 1481.7L1260.3 1482.7L1262.1 1482.3L1263.6 1481.2L1264.7 1480.4L1265.6 1479.3L1266.8 1478.7L1267.8 1477.7L1268.7 1476.6L1269.9 1475.8L1270.2 1474.5L1271.2 1473.8L1271.5 1475.1L1270.7 1476.2L1269.9 1477.7L1269.1 1479.2L1268.3 1481.5L1269.5 1482.2L1270.7 1483L1271.7 1483.6L1271.5 1485.1L1270.9 1486.4L1270.1 1487.6L1269.1 1488.6L1267.6 1489.5L1266.1 1489.9L1264.5 1491.9L1265 1493.5L1265.5 1495.1L1264.2 1496.5L1263.6 1498.3L1262.4 1499.4L1261.6 1500.6L1262.7 1502.7L1263.9 1503.8L1265.2 1504.6L1266.6 1505.3L1268.4 1506L1269.9 1507.1L1271.6 1507.3L1273.2 1507.8L1274.2 1508.7L1275.1 1509.8L1276.2 1510.4L1277.3 1511.3L1278.2 1512.3L1279.6 1512.6L1281.3 1513.2L1282.8 1514.3L1284.2 1514.5L1285.5 1514.8L1286.7 1515.5L1288.1 1514.2L1289.2 1512.7L1290.4 1512.9L1291.4 1513.4L1290.4 1514.3L1290 1515.7L1289.3 1516.6L1290.4 1517.7L1290.7 1519.3L1292.3 1519.4L1293.3 1520.6L1294.8 1521.2L1296.3 1520.5L1298.1 1520.4L1298.8 1518.6L1300.2 1517.4L1301 1516.2L1301.3 1514.6L1302.6 1513.6L1302.7 1511.8L1303.1 1510.2L1303.8 1508.7L1304.4 1507.1L1304.5 1505.5L1304.9 1503.9L1305 1502.3L1305.1 1500.7L1305 1499L1304.7 1497.4L1304 1495.9L1304 1494.3L1304 1492.6L1304.1 1491L1304.8 1489.5L1305.3 1487.9L1305 1486.2L1305.5 1484.6L1306.3 1483L1307.3 1481.5L1307.6 1479.8L1308.1 1478.3L1308.5 1476.7L1308.7 1474.8L1309.3 1473.1L1310.7 1472.4L1312.1 1472.9L1312.6 1474.3L1313 1475.6L1314 1476.8L1314 1478.2L1314.7 1479.9L1315.4 1481.5L1316.3 1482.7L1316.6 1484.1L1317 1485.5L1317.3 1487.1L1317.6 1488.8L1318.5 1490.3L1318.4 1491.6L1319 1492.9L1318.7 1494.3L1319.1 1496.2L1320 1497.9L1321.5 1497.9L1322.8 1497.3L1324.7 1496.8L1325.9 1498.2L1327.5 1499.3L1329 1500.3L1330.3 1501.5L1330.8 1502.8L1330.3 1504.2L1330.7 1505.5L1331.3 1506.8L1331.8 1508.1L1331.7 1509.5L1332 1511.1L1332.4 1512.8L1333.3 1513.8L1334.4 1514.6L1334.7 1516L1335.8 1517.1L1335.7 1518.7L1336.6 1519.9L1336.5 1521.3L1335.9 1522.6L1336.2 1523.9L1337 1525.4L1337.3 1527.1L1337.3 1528.6L1337.6 1530.1L1339 1530.9L1340.4 1531.8L1341.8 1532.1L1343 1533L1344.6 1533L1346.2 1533.9L1347.7 1535.2L1349.1 1535.6L1350.3 1536.7L1351.7 1537.2L1353.5 1538L1355.1 1538.8L1355.5 1540.2L1355.8 1541.5L1356.6 1542.9L1357.2 1544.5L1357.8 1546.4L1359.1 1547.9L1359.1 1549.6L1359.6 1551.1L1360.5 1552.4L1361.7 1553.1L1362.9 1553.5L1364.5 1553.2L1366.1 1552.8L1367.3 1554.1L1368.8 1555.2L1368.2 1556.6L1368.8 1557.9L1369 1559.2L1369.7 1561L1370.9 1562.5L1372 1563.4L1373 1564.4L1374.3 1565.1L1375.2 1566.2L1376.4 1567L1377.2 1568.2L1378.1 1569.4L1379.7 1570L1380.6 1571.2L1382.1 1572.4L1383 1574L1383.9 1573L1384.7 1571.8L1385 1570.4L1385.8 1571.6L1386.3 1572.9L1385.5 1574.4L1384.7 1575.9L1384.8 1577.6L1384.4 1579L1385.3 1580.3L1385.1 1581.6L1385.5 1583L1385.3 1584.4L1385.9 1585.7L1386.3 1587.2L1386.5 1588.9L1387.2 1590.4L1387.2 1592.2L1388 1593.7L1387.9 1595L1388.3 1596.3L1388.3 1597.8L1387.8 1599L1387.5 1600.4L1387.1 1601.7L1386.7 1603.1L1386.2 1604.4L1386 1605.8L1385.7 1607.4L1384.9 1608.9L1384.5 1610.5L1384.3 1612.1L1383.7 1613.7L1383.7 1615.3L1382.9 1616.8L1383 1618.6L1382.1 1620.1L1381.1 1621.3L1380.2 1622.6L1379.8 1624.2L1378.8 1625.1L1377.4 1625.4L1376.7 1626.7L1375.4 1627.3L1374.7 1628.5L1374.3 1629.9L1373.6 1631.3L1372.4 1632.3L1371.9 1633.8L1371.3 1635.6L1369.9 1636.9L1369.4 1638.6L1368.3 1640.1L1368.1 1642L1367 1643.4L1366 1644.7L1365.8 1646.3L1364.7 1647.5L1364.1 1648.7L1363.6 1650L1363.5 1651.4L1363.8 1652.8L1363.2 1654.1L1362.8 1655.4L1362.9 1657L1362.9 1658.6L1361.9 1659.7L1360.6 1660.5L1359 1661L1357.3 1661.1L1356 1660.9L1354.7 1661L1353.3 1661L1352 1661.7L1350.7 1661.9L1349.4 1662L1347.5 1662.4L1346 1663.3L1344.8 1663.9L1344.2 1665.4L1343 1666.1L1341 1666.5L1339.7 1667.9L1338.5 1668.9L1337.6 1670.3L1336.3 1669.3L1334.9 1668.3L1334 1667.1L1333.3 1665.8L1331.8 1665.2L1330.9 1663.8L1329.4 1662.6L1327.7 1662L1326.5 1662.3L1325.2 1662.6L1324.1 1663.7L1323 1664.8L1321.9 1666.1L1320.4 1667.1L1319.5 1668.1L1318.1 1668.1L1316.8 1667.5L1315.4 1667L1314.1 1666.5L1312.7 1666L1311.3 1665.7L1310 1665L1308.7 1664.7L1307.5 1663.8L1306 1663.7L1304.9 1664.5L1303.7 1664.5L1302.1 1663.5L1300.4 1662.5L1299.2 1661.8L1297.7 1661.7L1296.5 1660.9L1295.4 1659.6L1294.1 1658.6L1293.4 1657.3L1292.5 1656.3L1292.7 1654.8L1293.3 1653.4L1292 1652.2L1291.5 1650.7L1290.3 1649.5L1288.9 1648.2L1289.2 1647L1289.6 1645.8L1288.9 1644.7L1288 1643.9L1286.4 1644L1285.1 1644.9L1283.6 1646L1281.9 1646.5L1280.1 1646.9L1278.3 1647.3L1280.3 1645.9L1281.7 1645.5L1282.4 1644.2L1283.1 1642.7L1283.7 1641L1283.5 1639.3L1282.4 1638.1L1281.5 1636.8L1280.2 1635.8L1279.6 1637.9L1278.8 1639.3L1278.1 1640.8L1276.7 1641.9L1275.1 1642.7L1273.5 1643.1L1271.8 1642.7L1273.2 1642.2L1273.9 1641L1275.1 1640.4L1276.6 1639.8L1276.6 1638.4L1277 1637.1L1277.3 1635.6L1277.7 1634.3L1278.2 1632.4L1279.6 1631L1280.2 1629.2L1280.1 1627.5L1279.8 1625.6L1278.7 1624.3L1277.6 1625.4L1277 1627.3L1275.9 1629L1275 1630.3L1274.4 1632L1272.5 1632.2L1271.1 1633.4L1269.7 1634.6L1268.3 1635.8L1267.4 1637.3L1266.4 1638.6L1265.8 1640L1265.5 1641.4L1264.1 1641.4L1262.8 1640.9L1261.4 1640.4L1260 1639.8L1259 1638.5L1260 1637.4L1261.4 1637.1L1260.7 1635.6L1259.4 1634.6L1259 1633.2L1258 1632.1L1256.7 1631.2L1256.4 1629.6L1254.9 1628.6L1252.9 1628.1L1253.7 1627L1253.5 1625.8L1252.5 1624.6L1251.6 1623.2L1249.8 1622.8L1248.3 1621.8L1247.1 1620.9L1245.7 1620.8L1244.3 1620.6L1242.6 1620.3L1241 1620.4L1239.5 1620.9L1237.9 1620.4L1236.8 1619.2L1235.4 1618.5L1233.7 1618.1L1232.3 1617.4L1230.6 1617.6L1229 1618.3L1227.6 1618.2L1226.2 1617.9L1224.8 1618.2L1223.4 1618.2L1221.8 1618.2L1220.2 1618.5L1218.6 1618.3L1217 1618.7L1215.2 1619L1213.6 1619.8L1212.2 1620.8L1210.6 1621.6L1209.1 1622.1L1207.3 1621.9L1205.9 1622.1L1204.5 1622.6L1203.2 1623.2L1201.7 1623.4L1200.4 1623L1199 1623L1197.6 1622.8L1196.1 1622.7L1194.6 1623.2L1193.5 1624.3L1192 1624.9L1190.4 1625.1L1188.8 1625.6L1187.2 1626.3L1185.8 1627.5L1184.7 1628.3L1183.4 1628.6L1182.6 1629.8L1181.6 1630.9L1181.2 1632.4L1180.1 1633.3L1178.7 1634.5L1176.9 1635.1L1175.3 1634.4L1173.7 1634.1L1172.3 1634.3L1171 1634.8L1169.7 1635L1168.4 1634.8L1167.3 1634.2L1166 1633.8L1164.6 1633.5L1163.3 1634L1161.9 1634.3L1160.4 1633.8L1159 1634.2L1157.6 1634.4L1156.1 1635L1154.5 1634.9L1152.9 1635L1151.6 1635.8L1150.8 1637.2L1149.6 1638.1L1148.2 1637.9L1147 1638.9L1145.6 1638.9L1144.2 1639.7L1142.7 1640.5L1141.6 1641.8L1140.3 1642.3L1139.1 1643L1137.6 1642.8L1136 1643.3L1134.4 1643.1L1132.8 1642.5L1131.5 1642.3L1130.2 1641.8L1128.7 1641.9L1127.3 1640.7L1125.4 1640.3L1124.2 1639.4L1123.2 1638.1L1121.5 1638.2L1119.9 1637.4L1120 1636.1L1119.7 1634.9L1119.4 1633.5L1119.6 1632L1121.1 1632.5L1122.5 1632.1L1123.5 1631.3L1123.6 1629.8L1124.5 1628.5L1124.6 1626.9L1125 1625.3L1125.2 1624L1125.2 1622.7L1124.8 1621.3L1124.5 1619.6L1123.5 1618.2L1122.6 1616.6L1121.9 1614.9L1121.6 1613.1L1120.6 1611.7L1119.9 1610.4L1119.7 1609L1119.5 1607.7L1119.4 1606.3L1119.5 1605L1119.5 1603.7L1118.5 1602.2L1118 1600.5L1117.6 1599.1L1116.7 1598L1116.1 1596.8L1115.2 1595.6L1114.1 1594.6L1113.7 1593.2L1113.7 1591.8L1112.8 1590.6L1112.5 1589.4L1112.1 1588L1111.5 1586.8L1110.8 1585.6ZM1326.1 1679.1L1327.1 1680.4L1328.4 1681.6L1329.9 1681.6L1331.3 1681.8L1332.5 1682.6L1334.3 1682.9L1335.9 1683.8L1337.7 1684L1339.4 1683.6L1341.2 1683.2L1342.9 1682.8L1344.2 1682.1L1345.7 1682L1347 1681.5L1348.5 1681.7L1350.3 1680.9L1352 1681.1L1352.5 1682.4L1351.9 1683.8L1352.2 1685.1L1352.1 1686.5L1351.5 1687.8L1352 1689.1L1352 1690.5L1351 1691.8L1351.3 1693.1L1350.7 1695L1349.1 1696.2L1348.1 1697.3L1347.7 1698.9L1346.1 1699.2L1344.6 1699.7L1343.2 1700.5L1341.7 1701.1L1340.3 1701.5L1338.9 1701.1L1337.1 1701L1335.5 1700.1L1334.7 1698.3L1333.2 1697.2L1332.4 1695.8L1331.7 1694.4L1330.9 1693.1L1330.1 1691.8L1329.1 1690.7L1329 1689.1L1328.6 1687.6L1327.9 1686.2L1326.9 1685.1L1326.1 1683.6L1325.6 1681.9L1326 1680.5ZM1224.9 1479.8L1225.6 1478.6L1226 1477.2L1226.1 1476L1228.1 1476.3L1229.8 1477.3L1231.4 1476.9L1233 1476.9L1234.7 1476.7L1236.1 1475.6L1237.8 1475.4L1239.1 1474.7L1240.5 1474.4L1241.9 1474.2L1242.4 1476L1243.4 1477.4L1242.6 1478.8L1241.1 1479.5L1239.5 1480L1237.8 1479.6L1236.1 1480.1L1235.2 1481L1234.6 1482.4L1236 1482.6L1237.4 1482.9L1238.8 1482.8L1240.2 1482.5L1241.8 1482.1L1243.1 1481L1243.5 1479.3L1243.5 1477.4"/>
<g fill="#000" stroke-width="0.8"><ellipse cx="1321.2" cy="1675.5" rx="1.8" ry="2.6"/><ellipse cx="1350.5" cy="1677.1" rx="2.4" ry="3.1"/><ellipse cx="1273.5" cy="1647.8" rx="4.4" ry="1.3"/><ellipse cx="1270.3" cy="1495.7" rx="1.9" ry="1.8"/><ellipse cx="1122.4" cy="1543" rx="1.2" ry="1"/><ellipse cx="1309.1" cy="1468.8" rx="1.9" ry="1.2"/><path d="M1104.3 1575.3L1107.1 1574.9L1109.5 1577.7L1114 1577.7L1115.6 1580.9L1114.5 1584.2L1110.5 1585.8L1107.9 1582.5L1105.5 1578.5Z"/><path d="M1323.2 1664.3L1325.2 1662.3L1328.1 1661.5L1330.9 1663.5L1333.3 1665.5L1331.7 1666.3L1327.7 1664.4L1324.4 1665.5Z"/><path d="M1271.9 1640.6L1276.3 1639.4L1277.9 1641L1275.1 1643L1272.3 1643Z"/><path d="M1225.8 1475.8L1229 1475L1232.2 1477.4L1229.8 1479.4L1225.8 1480.2L1224.6 1478.2Z"/><path d="M1288 1513.4L1291.2 1512.6L1291.7 1513.9L1289.6 1515Z"/><path d="M1383.8 1570.4L1385.8 1568.8L1386.6 1573.7L1385.4 1577.7L1384.2 1575.3Z"/><path d="M1383.8 1585.7L1387.8 1586.5L1388.6 1591.3L1386.2 1590.5L1384.6 1588.9Z"/></g></g>
</g>
<g id="map-2018">
<clipPath id="clip2018"><path d="M1414.1 1584.9L1409.3 1576.1L1412.5 1577.7L1417.7 1579.3L1416.5 1575.3L1414.5 1571.2L1412.5 1567.2L1412.5 1564L1414.5 1560.8L1414.9 1556.8L1414.1 1555.2L1415.3 1552L1416.9 1550L1418.1 1553.6L1421.3 1550.8L1425.3 1548.8L1429.3 1546L1434.1 1542.8L1437.4 1541.6L1440.6 1542.8L1444.6 1540.8L1448.6 1539.2L1452.6 1537.2L1456.6 1537.4L1461.4 1536L1465.4 1534.4L1468.2 1531.6L1470.2 1527.1L1472.6 1525.1L1474.6 1523.1L1473.4 1520.7L1473.3 1517.5L1475 1515.5L1477.8 1513.1L1479.9 1513.5L1480.7 1516.7L1483.1 1519.1L1484.7 1515.9L1483.1 1511.9L1487.1 1511.1L1491.1 1511.9L1489.5 1508.7L1489.9 1505.5L1492.7 1505.1L1494.7 1503.1L1494.3 1499.9L1497.5 1498.7L1499.9 1496.3L1503.1 1495.9L1505.9 1493.5L1508.7 1494.7L1511.9 1497.5L1514.3 1500.7L1515.1 1504.3L1516.7 1501.5L1519.9 1501.1L1523.2 1503.1L1526 1501.5L1524.4 1498.3L1525.6 1495.1L1528 1491.1L1529.6 1487.9L1532 1485L1535.2 1482.6L1533.6 1480.2L1528.8 1479.8L1530 1475.8L1533.6 1477.4L1536.8 1477L1541.6 1475.4L1545.6 1474.2L1547.2 1477.4L1548 1477.4L1552 1479.8L1556 1481.4L1560 1481L1564 1482.6L1567.3 1481L1570.5 1478.6L1573.5 1475.7L1575.1 1473.8L1574.5 1476.2L1572.7 1479.2L1572.1 1481.4L1575.7 1483.7L1574.5 1486.2L1572.9 1488.7L1569.7 1489.9L1568.5 1491.9L1569.3 1495.1L1567.3 1498.3L1565.3 1500.7L1566.5 1502.7L1570.5 1505.1L1573.7 1507.1L1576.9 1507.9L1580.1 1510.3L1583.3 1512.7L1586.5 1514.3L1590.5 1515.5L1592.9 1512.7L1595.3 1513.5L1592.9 1516.7L1594.5 1519.1L1598.5 1521.1L1601.7 1520.3L1604.1 1517.5L1606.1 1513.5L1607.7 1508.7L1608.6 1503.9L1608.6 1499.1L1607.7 1494.3L1608.6 1489.5L1609.4 1484.6L1611 1481.4L1612.2 1476.6L1613 1473L1614.6 1472.2L1616.6 1474.2L1617.8 1478.2L1619.4 1481.4L1621 1485.4L1622.2 1490.3L1622.6 1494.3L1623.8 1497.9L1626.6 1497.5L1628.6 1496.7L1631.4 1499.1L1634.2 1501.5L1634.6 1505.5L1635.4 1509.5L1636.2 1512.7L1638.6 1515.9L1640.2 1519.9L1639.8 1523.9L1641 1527.1L1641.4 1530L1644.2 1531.6L1648.2 1533.2L1651.5 1535.2L1655.5 1537.2L1659.1 1538.8L1659.5 1541.6L1661.1 1544.4L1662.7 1548L1664.3 1552.4L1666.7 1553.6L1669.9 1552.8L1672.3 1555.2L1672.7 1559.2L1674.7 1562.4L1677.9 1565.2L1681.1 1568L1684.3 1571.2L1686.7 1574.1L1688.7 1570.4L1689.9 1572.9L1688.3 1577.7L1688.7 1581.7L1689.5 1585.7L1690.7 1590.5L1691.5 1593.7L1691.9 1597.7L1690.7 1601.7L1689.5 1605.7L1688.3 1610.5L1687.5 1615.4L1685.9 1620.2L1683.5 1624.2L1680.3 1626.6L1677.9 1629.8L1675.5 1633.8L1673.1 1638.6L1670.7 1643.4L1668.3 1647.4L1667.5 1651.4L1666.7 1655.4L1666.7 1658.7L1664.3 1660.3L1661.1 1660.9L1657.1 1661.1L1653.1 1661.9L1649.8 1663.5L1646.6 1665.9L1643.4 1667.9L1641.4 1670.3L1638.6 1668.3L1637 1665.9L1634.6 1663.9L1631.4 1661.9L1629 1662.7L1626.6 1664.7L1624.2 1667.1L1621.8 1668.3L1617.8 1666.7L1613.8 1665.1L1609.8 1663.9L1607.3 1664.7L1604.1 1662.7L1600.1 1661.1L1597.7 1658.7L1596.1 1656.2L1596.9 1653.4L1595.3 1650.6L1592.9 1648.2L1593.3 1645.8L1591.7 1643.8L1588.9 1645L1585.7 1646.6L1582.1 1647.3L1584.1 1646L1586.1 1644.2L1587.3 1641L1586.3 1638L1584.1 1635.8L1583.3 1637.8L1581.7 1640.6L1578.9 1642.6L1575.7 1642.8L1577.7 1641L1580.1 1639.8L1580.5 1637L1581.3 1634.2L1583.3 1631L1584.1 1627.4L1582.3 1624.2L1581.3 1625.4L1579.7 1629L1578.1 1631.8L1574.9 1633.4L1572.1 1635.8L1570.1 1638.6L1569.3 1641.4L1566.5 1641L1562.8 1638.6L1565.3 1637L1563.2 1634.6L1561.6 1632.2L1560 1629.8L1556.8 1628.2L1557.2 1625.8L1555.2 1623.4L1552 1621.8L1548 1620.6L1546.4 1620.5L1543.2 1620.9L1539.2 1618.5L1536 1617.1L1532.8 1618.1L1527.2 1618.1L1520.7 1618.8L1515.9 1620.9L1511.1 1622.1L1505.5 1623.3L1499.9 1622.8L1494.3 1625.3L1489.5 1627.3L1487.1 1628.5L1483.9 1633.3L1480.7 1634.9L1477.4 1634.1L1473.4 1634.9L1471 1634.1L1467 1633.7L1461.4 1634.5L1456.6 1634.9L1453.4 1638.2L1449.4 1639L1445.4 1641.8L1441.4 1643L1436.5 1642.6L1432.5 1641.8L1429.3 1640.2L1426.9 1638.2L1423.7 1637.4L1423.3 1634.9L1423.3 1632.1L1424.9 1632.5L1427.3 1631.3L1428.1 1628.5L1428.5 1625.3L1428.5 1621.3L1427.3 1618.1L1425.7 1614.9L1424.1 1611.7L1423.3 1607.7L1423.3 1603.7L1421.7 1600.5L1419.7 1596.9L1417.3 1593.3L1416.5 1589.2L1414.5 1585.6ZM1629.8 1679.1L1632.2 1681.5L1636.2 1682.7L1641.4 1683.9L1646.6 1682.7L1652.3 1681.5L1655.9 1681.1L1655.9 1685.1L1655.5 1689.1L1655.1 1693.1L1653.1 1696.3L1651.5 1698.7L1648.2 1699.5L1645.4 1701.2L1642.6 1701.2L1639.4 1699.9L1637 1697.1L1634.6 1693.1L1632.6 1689.1L1630.6 1685.1L1629.4 1681.9Z"/></clipPath>
<g clip-path="url(#clip2018)"><rect x="1390" y="1460" width="316" height="248" fill="#f3a7a6"/><path fill="#aaaaff" d="M1578.2 1490.6C1575 1494.9 1563 1490.6 1559 1490.6C1555 1490.6 1555.5 1490.3 1553.9 1490.6C1552.4 1490.8 1550.6 1491.2 1549.7 1492.1C1548.8 1493.1 1549.5 1495.8 1548.7 1496.4C1547.8 1496.9 1545.7 1495.1 1544.5 1495.3C1543.2 1495.5 1541.7 1496.4 1541.3 1497.4C1540.9 1498.5 1542.5 1500.9 1541.8 1501.6C1541.1 1502.3 1538.6 1501.8 1537.1 1501.6C1535.6 1501.4 1534.3 1500.6 1532.9 1500.6C1531.5 1500.6 1530.2 1501.1 1528.6 1501.6C1527.1 1502.1 1525.1 1503.1 1523.4 1503.7C1521.6 1504.3 1519.9 1505 1518.1 1505.3C1516.3 1505.7 1514.6 1505.7 1512.8 1505.8C1511.1 1506 1509.1 1505.9 1507.6 1506.4C1506 1506.8 1504.1 1507.5 1503.3 1508.5C1502.6 1509.4 1502.6 1511 1502.8 1512.2C1503.1 1513.3 1504.8 1514.6 1504.9 1515.3C1505 1516 1504.1 1516.6 1503.3 1516.4C1502.6 1516.2 1501.2 1514.4 1500.2 1514.3C1499.1 1514.1 1497.9 1514.4 1497 1515.3C1496.1 1516.2 1495.4 1518 1494.9 1519.5C1494.4 1521.1 1493.9 1522.9 1493.9 1524.8C1493.8 1526.7 1494.2 1529 1494.4 1531.1C1494.6 1533.2 1494.9 1535.3 1494.9 1537.5C1494.9 1539.6 1494.7 1541.8 1494.4 1543.8C1494 1545.7 1493.6 1547.5 1492.8 1549.1C1492 1550.6 1491.1 1551.9 1489.6 1553.3C1488.2 1554.7 1485.9 1556.3 1484.4 1557.5C1482.9 1558.7 1480.9 1559.8 1480.7 1560.6C1480.5 1561.5 1482 1561.9 1483.3 1562.8C1484.6 1563.6 1486.8 1564.7 1488.6 1565.9C1490.3 1567.1 1492.5 1568.7 1493.9 1570.1C1495.3 1571.5 1496.3 1572.9 1497 1574.3C1497.7 1575.8 1497.2 1577.3 1498.1 1578.6C1499 1579.8 1500.9 1581.2 1502.3 1581.7C1503.7 1582.3 1505.1 1582.3 1506.5 1581.7C1507.9 1581.2 1509.5 1580 1510.7 1578.6C1512 1577.2 1513 1574.5 1513.9 1573.3C1514.8 1572.1 1515.1 1571.2 1516 1571.2C1516.9 1571.2 1517.9 1572.2 1519.2 1573.3C1520.4 1574.3 1521.8 1576.3 1523.4 1577.5C1525 1578.7 1526.7 1579.6 1528.6 1580.7C1530.6 1581.7 1532.9 1582.8 1535 1583.8C1537.1 1584.9 1539.5 1585.8 1541.3 1587C1543 1588.2 1544.6 1589.6 1545.5 1591.2C1546.4 1592.8 1546.3 1594.5 1546.6 1596.5C1546.8 1598.4 1547.1 1600.7 1547.1 1602.8C1547.1 1604.9 1546.7 1607 1546.6 1609.1C1546.4 1611.2 1546.1 1613.2 1546 1615.5C1545.9 1617.7 1547.7 1619 1546 1622.8C1544.4 1626.7 1546.5 1635.1 1536 1638.6C1525.6 1642.2 1492.1 1645 1483.3 1643.9C1474.5 1642.9 1483.7 1634.8 1483.3 1632.3C1483 1629.9 1481.9 1630.2 1481.2 1629.2C1480.5 1628.1 1479.5 1627.2 1479.1 1626C1478.7 1624.8 1479.3 1622.7 1478.6 1621.8C1477.9 1620.9 1476.6 1620.8 1474.9 1620.7C1473.2 1620.6 1470.7 1621 1468.6 1621.3C1466.5 1621.5 1464.3 1622 1462.2 1622.3C1460.1 1622.6 1457.7 1623.1 1455.9 1622.8C1454.2 1622.6 1452.9 1621.8 1451.7 1620.7C1450.5 1619.7 1449.4 1617.9 1448.5 1616.5C1447.7 1615.1 1447.5 1613.3 1446.4 1612.3C1445.4 1611.3 1443.8 1610.7 1442.2 1610.7C1440.6 1610.7 1438.5 1611.7 1436.9 1612.3C1435.4 1612.9 1433.6 1614.4 1432.7 1614.4C1431.9 1614.4 1431.4 1613.3 1431.7 1612.3C1431.9 1611.2 1433.7 1609.5 1434.3 1608.1C1434.9 1606.7 1435.3 1605.1 1435.4 1603.9C1435.5 1602.6 1435.3 1601.8 1434.8 1600.7C1434.4 1599.6 1433.6 1598.8 1432.7 1597.5C1431.9 1596.3 1430.4 1594.7 1429.6 1593.3C1428.7 1591.9 1428 1590.7 1427.5 1589.1C1426.9 1587.5 1426.6 1585.8 1426.4 1583.8C1426.2 1581.9 1426.1 1579.3 1426.4 1577.5C1426.8 1575.8 1428 1574.9 1428.5 1573.3C1429 1571.7 1428.9 1569.3 1429.6 1568C1430.3 1566.8 1431.5 1566.4 1432.7 1565.9C1434 1565.4 1435.5 1565.6 1436.9 1564.9C1438.4 1564.2 1439.9 1562.9 1441.2 1561.7C1442.4 1560.5 1443.4 1559.1 1444.3 1557.5C1445.2 1555.9 1445.6 1554 1446.4 1552.2C1447.3 1550.5 1448.5 1548.5 1449.6 1546.9C1450.7 1545.4 1452.8 1544 1453.3 1542.7C1453.8 1541.5 1453.4 1541.1 1452.8 1539.6C1452.1 1538 1446.3 1539.6 1449.6 1533.2C1452.9 1526.9 1463.6 1510.4 1472.8 1501.6C1481.9 1492.8 1493.9 1486.7 1504.4 1480.5C1514.9 1474.4 1523.7 1467.4 1536 1464.7C1548.3 1462.1 1571.2 1460.4 1578.2 1464.7C1585.2 1469 1581.4 1486.2 1578.2 1490.6Z"/><path fill="#aaaaff" d="M1535.2 1507.4C1536.7 1515.3 1542 1506.8 1544 1507.4C1546 1508 1546 1509.9 1547.5 1510.9C1549 1512 1551 1512.7 1552.8 1513.6C1554.5 1514.4 1556.3 1515.5 1558.1 1516.2C1559.8 1516.9 1561.6 1517.4 1563.3 1517.5C1565.1 1517.7 1567.1 1517.4 1568.6 1517.1C1570.1 1516.7 1570.8 1515.5 1572.1 1515.3C1573.4 1515.2 1575 1515.8 1576.5 1516.2C1578 1516.6 1579.6 1517.8 1580.9 1518C1582.2 1518.1 1583.2 1517.1 1584.4 1517.1C1585.6 1517.1 1586.4 1517.2 1587.9 1518C1589.4 1518.7 1591.6 1520.4 1593.2 1521.5C1594.8 1522.5 1596.3 1523.2 1597.6 1524.1C1598.9 1525 1599.9 1525.9 1601.1 1526.7C1602.3 1527.6 1603.1 1528.8 1604.6 1529.4C1606.1 1530 1608 1530.1 1609.9 1530.3C1611.8 1530.4 1614.1 1530 1616 1530.3C1617.9 1530.5 1619.8 1531.6 1621.3 1532C1622.7 1532.4 1623.8 1532.9 1624.8 1532.9C1625.7 1532.9 1626.7 1531.7 1627 1532C1627.3 1532.3 1626.2 1533.8 1626.5 1534.6C1626.9 1535.4 1628 1536.3 1629.2 1536.8C1630.4 1537.4 1632.1 1538 1633.6 1538.2C1635 1538.3 1636.5 1537.9 1638 1537.7C1639.4 1537.6 1641.3 1537.6 1642.4 1537.3C1643.5 1536.9 1644.4 1536.3 1644.5 1535.5C1644.7 1534.8 1643.9 1533.6 1643.2 1532.9C1642.6 1532.2 1638.1 1531.6 1640.6 1531.1C1643.1 1530.7 1659.6 1541.4 1658.2 1530.3C1656.7 1519.1 1642.1 1476.1 1631.8 1464.4C1621.6 1452.7 1612.8 1460.7 1596.7 1460C1580.6 1459.3 1545.5 1452.1 1535.2 1460C1525 1467.9 1533.8 1499.5 1535.2 1507.4Z"/><path fill="#f3a7a6" d="M1450.6 1559.6C1451.1 1558.9 1453.5 1557.7 1454.9 1557.5C1456.3 1557.2 1457.7 1557.5 1459.1 1558C1460.5 1558.5 1463.1 1559.9 1463.3 1560.6C1463.5 1561.4 1461.4 1562.4 1460.1 1562.8C1458.9 1563.1 1457.2 1562.9 1455.9 1562.8C1454.6 1562.6 1453.1 1562.2 1452.2 1561.7C1451.3 1561.2 1450.2 1560.3 1450.6 1559.6Z"/><ellipse fill="#f3a7a6" cx="1450.6" cy="1568.2" rx="1.3" ry="1.3"/><ellipse fill="#f3a7a6" cx="1463.8" cy="1582.3" rx="0.8" ry="0.8"/><path fill="#f3a7a6" d="M1434.8 1577.5C1435.2 1575.9 1436.6 1572.8 1438 1572.2C1439.4 1571.7 1441.7 1573.6 1443.3 1574.3C1444.8 1575.1 1446.1 1575.4 1447.5 1576.5C1448.9 1577.5 1451.3 1579.3 1451.7 1580.7C1452.1 1582.1 1450.6 1583.7 1449.6 1584.9C1448.5 1586.1 1446.6 1587.3 1445.4 1588.1C1444.1 1588.8 1443.3 1589.5 1442.2 1589.1C1441.2 1588.8 1440.1 1587.2 1439.1 1585.9C1438 1584.7 1436.6 1583.1 1435.9 1581.7C1435.2 1580.3 1434.5 1579.1 1434.8 1577.5Z"/><path fill="#f3a7a6" d="M1435.9 1600.7C1436.4 1599.7 1439.4 1597.5 1441.2 1596.5C1442.9 1595.4 1444.7 1594.5 1446.4 1594.4C1448.2 1594.2 1450.1 1595.6 1451.7 1595.4C1453.3 1595.3 1454.5 1594.2 1455.9 1593.3C1457.3 1592.4 1458.9 1591 1460.1 1590.2C1461.4 1589.3 1462.8 1587.7 1463.3 1588.1C1463.8 1588.4 1463.6 1590.7 1463.3 1592.3C1462.9 1593.8 1462.2 1596 1461.2 1597.5C1460.1 1599.1 1458.6 1600.7 1457 1601.8C1455.4 1602.8 1453.5 1603.3 1451.7 1603.9C1449.9 1604.4 1448 1605.4 1446.4 1604.9C1444.8 1604.4 1443.6 1601.1 1442.2 1600.7C1440.8 1600.3 1439.1 1602.3 1438 1602.3C1436.9 1602.3 1435.4 1601.7 1435.9 1600.7Z"/><path fill="#f3a7a6" d="M1549.3 1493.4C1549.7 1492.5 1552 1491.2 1553.7 1490.7C1555.3 1490.2 1557.2 1490.2 1558.9 1490.3C1560.7 1490.4 1562.4 1490.9 1564.2 1491.2C1566 1491.5 1568.8 1491.2 1569.5 1492.1C1570.1 1492.9 1568.7 1494.8 1568.1 1496C1567.6 1497.2 1566.5 1498.5 1566 1499.5C1565.4 1500.5 1565.8 1501.5 1565.1 1502.2C1564.3 1502.8 1562.6 1503.3 1561.6 1503.5C1560.5 1503.6 1559.8 1503.5 1558.9 1503C1558.1 1502.5 1557.2 1501.3 1556.3 1500.4C1555.4 1499.5 1554.5 1498.5 1553.7 1497.8C1552.8 1497 1551.8 1496.7 1551 1496C1550.3 1495.3 1548.8 1494.2 1549.3 1493.4Z"/><ellipse fill="#f3a7a6" cx="1544.4" cy="1498.6" rx="1.1" ry="1.9"/><ellipse fill="#f3a7a6" cx="1603.9" cy="1521" rx="2.1" ry="1.2"/><path fill="#f3a7a6" d="M1609.9 1503.9C1610.6 1503.5 1612.1 1502.9 1613.4 1503C1614.7 1503.2 1616.3 1504.2 1617.8 1504.8C1619.2 1505.4 1620.8 1505.8 1622.2 1506.5C1623.5 1507.3 1624.6 1508.2 1625.7 1509.2C1626.7 1510.2 1627.4 1511.5 1628.3 1512.7C1629.2 1513.9 1630.4 1515.2 1630.9 1516.2C1631.5 1517.2 1632.1 1518.1 1631.8 1518.8C1631.5 1519.6 1630.2 1520.4 1629.2 1520.6C1628.2 1520.7 1626.8 1520.3 1625.7 1519.7C1624.5 1519.1 1623.3 1518 1622.2 1517.1C1621 1516.2 1619.8 1515.3 1618.6 1514.4C1617.5 1513.6 1616.3 1512.5 1615.1 1511.8C1614 1511.1 1612.6 1510.5 1611.6 1510.1C1610.7 1509.6 1609.9 1509.9 1609.4 1509.2C1609 1508.4 1608.9 1506.5 1609 1505.7C1609.1 1504.8 1609.1 1504.3 1609.9 1503.9Z"/><ellipse fill="#f3a7a6" cx="1543.4" cy="1498.5" rx="1.9" ry="2.3"/><ellipse fill="#aaaaff" cx="1432.7" cy="1557.3" rx="1.3" ry="1.3"/><ellipse fill="#aaaaff" cx="1540.2" cy="1514.1" rx="0.8" ry="0.8"/><ellipse fill="#aaaaff" cx="1550.5" cy="1588.1" rx="0.7" ry="0.7"/><path fill="#aaaaff" d="M1597.1 1532.9C1597.5 1532.3 1598.8 1531.6 1599.3 1532C1599.8 1532.4 1600.1 1534.4 1600.2 1535.5C1600.3 1536.7 1600.1 1538.5 1599.8 1539C1599.4 1539.5 1598.4 1539.2 1598 1538.6C1597.6 1538 1597.3 1536.5 1597.1 1535.5C1597 1534.6 1596.8 1533.5 1597.1 1532.9Z"/><ellipse fill="#aaaaff" cx="1550.6" cy="1588" rx="0.7" ry="0.7"/><ellipse fill="#aaaaff" cx="1685.8" cy="1577.2" rx="1.6" ry="1.4"/><ellipse fill="#aaaaff" cx="1550.6" cy="1588" rx="0.7" ry="0.7"/><path fill="#aaaaff" d="M1598.4 1656.8C1598.7 1656 1600.1 1655.8 1600.8 1656C1601.5 1656.2 1602.3 1657.2 1602.8 1658C1603.3 1658.8 1603.8 1660.1 1603.6 1660.8C1603.4 1661.5 1602.3 1662.4 1601.6 1662.4C1600.9 1662.4 1599.7 1661.7 1599.2 1660.8C1598.7 1659.9 1598.1 1657.6 1598.4 1656.8Z"/><path fill="#aaaaff" d="M1633.6 1688C1633.7 1687.1 1635.1 1686.6 1636 1686.4C1636.9 1686.2 1638.1 1686.5 1639.2 1686.8C1640.3 1687.1 1641.3 1687.5 1642.4 1688C1643.5 1688.5 1644.5 1689.5 1645.6 1689.6C1646.7 1689.7 1648 1688.7 1648.8 1688.8C1649.6 1688.9 1650.4 1689.9 1650.4 1690.4C1650.4 1690.9 1649.6 1691.7 1648.8 1692C1648 1692.3 1646.3 1691.5 1645.6 1692C1644.9 1692.5 1644.8 1694.1 1644.8 1695.2C1644.8 1696.3 1645.7 1697.7 1645.6 1698.4C1645.5 1699.1 1644.8 1699.3 1644 1699.2C1643.2 1699.1 1641.9 1698.3 1640.8 1697.6C1639.7 1696.9 1638.5 1696.1 1637.6 1695.2C1636.7 1694.3 1635.9 1693.2 1635.2 1692C1634.5 1690.8 1633.5 1688.9 1633.6 1688Z"/><path fill="#1c08fa" d="M1460.1 1537.5C1459.6 1541.1 1462.9 1535.7 1464.3 1534.3C1465.8 1532.9 1467.2 1531 1468.6 1529C1470 1527.1 1471.7 1524.8 1472.8 1522.7C1473.8 1520.6 1473.7 1518.1 1474.9 1516.4C1476.1 1514.6 1478.4 1512.9 1480.2 1512.2C1481.9 1511.5 1483.7 1512.2 1485.4 1512.2C1487.2 1512.1 1489.6 1511.3 1490.7 1511.6C1491.8 1512 1491.9 1513 1491.8 1514.3C1491.6 1515.6 1490.3 1517.6 1489.6 1519.5C1488.9 1521.5 1488.4 1523.8 1487.5 1525.9C1486.7 1528 1485.6 1530.3 1484.4 1532.2C1483.1 1534.1 1481.7 1536.1 1480.2 1537.5C1478.6 1538.8 1476.8 1539.6 1474.9 1540.1C1473 1540.6 1470.5 1540.7 1468.6 1540.6C1466.6 1540.5 1465.1 1540.8 1463.3 1539.6C1461.5 1538.3 1457.3 1537.8 1458 1533.2C1458.7 1528.7 1467.2 1511.5 1467.5 1512.2C1467.9 1512.9 1460.7 1533.8 1460.1 1537.5Z"/><path fill="#1a0c9c" d="M1468.6 1529C1468.7 1527.4 1471.6 1524.6 1472.8 1522.7C1473.9 1520.8 1474.4 1518.3 1475.4 1517.4C1476.5 1516.6 1478.3 1516.6 1479.1 1517.4C1479.9 1518.3 1480.4 1520.9 1480.4 1522.7C1480.4 1524.5 1479.9 1526.4 1479.1 1528C1478.3 1529.6 1476.6 1531.4 1475.4 1532.2C1474.2 1533 1472.9 1533.2 1471.7 1532.7C1470.6 1532.2 1468.4 1530.7 1468.6 1529Z"/><path fill="#0f0a5e" d="M1471.7 1524.8C1471.7 1523.2 1473.4 1520.2 1474.4 1519.5C1475.3 1518.8 1477.1 1519.5 1477.5 1520.6C1478 1521.6 1477.7 1524.4 1477.2 1525.9C1476.7 1527.3 1475.3 1529.4 1474.4 1529.2C1473.4 1529.1 1471.7 1526.4 1471.7 1524.8Z"/><path fill="#1c08fa" d="M1526.5 1496.4C1526.5 1495.3 1528.5 1492.7 1529.7 1491.1C1530.9 1489.5 1532.3 1488.1 1533.9 1486.9C1535.5 1485.6 1537.1 1484.4 1539.2 1483.7C1541.3 1483 1544.6 1482.6 1546.6 1482.6C1548.5 1482.6 1550 1483 1550.8 1483.7C1551.6 1484.4 1552 1485.6 1551.3 1486.9C1550.6 1488.1 1548.2 1490.1 1546.6 1491.1C1544.9 1492 1542.9 1492 1541.3 1492.7C1539.7 1493.4 1538.3 1494.4 1537.1 1495.3C1535.8 1496.2 1535.1 1497.5 1533.9 1497.9C1532.7 1498.3 1530.9 1497.9 1529.7 1497.6C1528.5 1497.4 1526.5 1497.4 1526.5 1496.4Z"/><path fill="#1a0c9c" d="M1538.1 1485.8C1538.5 1485 1541 1484.8 1542.3 1484.8C1543.7 1484.8 1545.7 1485.1 1546 1485.8C1546.4 1486.5 1545.4 1488.4 1544.5 1489C1543.5 1489.6 1541.3 1490 1540.2 1489.5C1539.2 1489 1537.8 1486.6 1538.1 1485.8Z"/><path fill="#1c08fa" d="M1542.2 1482C1543.1 1480.2 1546.1 1481.3 1547.5 1481.5C1548.9 1481.7 1550 1482.5 1550.6 1483.3C1551.2 1484.1 1551.4 1485.2 1551 1486.3C1550.7 1487.4 1549.3 1489 1548.4 1489.9C1547.5 1490.7 1546.8 1491.2 1545.8 1491.6C1544.7 1492 1542.8 1493.7 1542.2 1492.1C1541.7 1490.4 1541.4 1483.7 1542.2 1482Z"/><path fill="#1c08fa" d="M1558.1 1483.3C1558.5 1482.8 1560.2 1482.4 1561.6 1482.4C1562.9 1482.4 1564.9 1482.9 1566 1483.3C1567 1483.6 1567.9 1484.1 1567.7 1484.6C1567.6 1485 1566.1 1485.7 1565.1 1485.9C1564.1 1486.1 1562.6 1486.1 1561.6 1485.9C1560.5 1485.8 1559.5 1485.5 1558.9 1485C1558.3 1484.6 1557.6 1483.7 1558.1 1483.3Z"/><path fill="#1c08fa" d="M1610.7 1482.8C1610.9 1481.8 1611.9 1480.3 1612.5 1479.3C1613.1 1478.4 1613.5 1477.4 1614.3 1477.1C1615 1476.8 1616.2 1476.9 1616.9 1477.6C1617.6 1478.2 1618.1 1479.8 1618.6 1481.1C1619.2 1482.4 1620.4 1484.3 1620.4 1485.5C1620.4 1486.6 1619.4 1487.6 1618.6 1488.1C1617.9 1488.6 1616.9 1488.7 1616 1488.5C1615.1 1488.4 1614.1 1487.7 1613.4 1487.2C1612.6 1486.7 1612.1 1486.2 1611.6 1485.5C1611.2 1484.7 1610.6 1483.9 1610.7 1482.8Z"/><ellipse fill="#1a0c9c" cx="1616" cy="1483.3" rx="1.1" ry="1.1"/><ellipse fill="#1c08fa" cx="1611.4" cy="1518" rx="2.5" ry="3.1"/><path fill="#1c08fa" d="M1628.7 1502.2C1629 1501.3 1630 1501 1630.9 1500.8C1631.9 1500.7 1633.6 1500.5 1634.5 1501.3C1635.3 1502.1 1635.8 1504.3 1636.2 1505.7C1636.6 1507 1636.6 1508 1637.1 1509.2C1637.5 1510.3 1638.3 1511.4 1638.8 1512.7C1639.4 1514 1640.1 1515.6 1640.6 1517.1C1641.1 1518.5 1641.5 1519.9 1641.9 1521.5C1642.3 1523.1 1642.9 1525.3 1642.8 1526.7C1642.7 1528.2 1642.4 1529.7 1641.5 1530.3C1640.5 1530.8 1638.4 1530.1 1637.1 1529.8C1635.8 1529.5 1634.5 1529.2 1633.6 1528.5C1632.7 1527.8 1632 1526.9 1631.8 1525.9C1631.7 1524.8 1632.3 1523.4 1632.7 1522.3C1633.1 1521.3 1634.3 1520.9 1634.5 1519.7C1634.6 1518.5 1633.9 1516.6 1633.6 1515.3C1633.2 1514 1632.8 1513 1632.3 1511.8C1631.7 1510.6 1631 1509.3 1630.5 1508.3C1630 1507.3 1629.5 1506.7 1629.2 1505.7C1628.9 1504.6 1628.4 1503 1628.7 1502.2Z"/><path fill="#1a0c9c" d="M1631.8 1503C1632 1502.2 1633.4 1502.9 1634 1503.9C1634.6 1504.9 1634.8 1507.6 1635.3 1509.2C1635.8 1510.8 1636.4 1512.1 1637.1 1513.6C1637.7 1515 1638.7 1516.3 1639.3 1518C1639.9 1519.6 1640.3 1521.5 1640.6 1523.2C1640.9 1524.9 1641.4 1527.3 1641 1528.1C1640.7 1528.8 1639.2 1528.6 1638.4 1527.8C1637.6 1527 1636.7 1524.6 1636.2 1523.2C1635.7 1521.9 1635.6 1520.9 1635.3 1519.7C1635 1518.5 1634.9 1518 1634.5 1516.2C1634 1514.4 1633.1 1511.4 1632.7 1509.2C1632.3 1507 1631.6 1503.9 1631.8 1503Z"/><path fill="#1c08fa" d="M1636 1688.8C1636.4 1688.4 1637.3 1687.7 1638 1688C1638.7 1688.3 1639.5 1689.5 1640 1690.4C1640.5 1691.3 1641.1 1692.7 1641.2 1693.6C1641.3 1694.5 1641.2 1695.7 1640.8 1696C1640.4 1696.3 1639.5 1696.1 1638.8 1695.6C1638.1 1695.1 1637.3 1693.7 1636.8 1692.8C1636.3 1691.9 1635.7 1691.1 1635.6 1690.4C1635.5 1689.7 1635.6 1689.2 1636 1688.8Z"/><path fill="#fb1d0f" d="M1650.3 1538.2C1648.5 1539 1648.6 1539.2 1647.6 1539.9C1646.6 1540.6 1645.3 1541.8 1644.1 1542.5C1642.9 1543.3 1641.9 1543.8 1640.6 1544.3C1639.3 1544.8 1637.2 1545 1636.2 1545.6C1635.2 1546.2 1634.8 1546.9 1634.5 1547.8C1634.1 1548.8 1633.9 1550.3 1634 1551.3C1634.2 1552.4 1635.4 1553.1 1635.3 1554C1635.3 1554.8 1634.3 1555.7 1633.6 1556.6C1632.8 1557.5 1631.4 1558.2 1630.9 1559.2C1630.4 1560.3 1630.4 1561.6 1630.5 1562.7C1630.6 1563.9 1631.7 1564.9 1631.8 1566.3C1631.9 1567.6 1631.3 1569.3 1630.9 1570.6C1630.6 1572 1630.2 1573.1 1629.6 1574.2C1629 1575.2 1628.2 1575.9 1627.4 1576.8C1626.7 1577.7 1625.6 1578.4 1625.2 1579.4C1624.9 1580.5 1624.9 1581.8 1625.2 1582.9C1625.5 1584.1 1626.5 1585.3 1627 1586.5C1627.5 1587.6 1628.2 1588.8 1628.3 1590C1628.4 1591.1 1627.8 1592.3 1627.9 1593.5C1627.9 1594.7 1628.7 1595.8 1628.7 1597C1628.8 1598.2 1628.6 1599.9 1628.3 1600.5C1628 1601.1 1626.9 1600.7 1627.2 1600.8C1627.5 1600.9 1629.2 1601.1 1630.4 1601C1631.6 1600.8 1633.2 1600.4 1634.4 1600C1635.6 1599.6 1636.7 1598.4 1637.6 1598.4C1638.5 1598.4 1638.9 1599.5 1640 1600C1641.1 1600.5 1642.7 1600.9 1644 1601.6C1645.3 1602.3 1646.8 1603.2 1648 1604C1649.2 1604.8 1650.6 1605.3 1651.2 1606.4C1651.8 1607.5 1651.5 1609.1 1651.6 1610.4C1651.7 1611.7 1651.9 1613.1 1652 1614.4C1652.1 1615.7 1652.1 1617.1 1652 1618.4C1651.9 1619.7 1651.5 1621.2 1651.2 1622.4C1650.9 1623.6 1650.8 1624.7 1650.4 1625.6C1650 1626.5 1649.5 1627.6 1648.8 1628C1648.1 1628.4 1647.2 1627.7 1646.4 1628C1645.6 1628.3 1644.8 1628.9 1644 1629.6C1643.2 1630.3 1642.1 1631.1 1641.6 1632C1641.1 1632.9 1640.9 1634.3 1641.2 1635.2C1641.5 1636.1 1642.5 1636.9 1643.2 1637.6C1643.9 1638.3 1644.8 1638.7 1645.6 1639.2C1646.4 1639.7 1647.2 1640.3 1648 1640.8C1648.8 1641.3 1649.9 1641.7 1650.4 1642.4C1650.9 1643.1 1651.5 1644.1 1651.2 1644.8C1650.9 1645.5 1649.7 1646 1648.8 1646.4C1647.9 1646.8 1646.7 1646.8 1645.6 1647.2C1644.5 1647.6 1643.3 1648.3 1642.4 1648.8C1641.5 1649.3 1640.8 1649.9 1640 1650.4C1639.2 1650.9 1638 1651.3 1637.6 1652C1637.2 1652.7 1637.3 1653.7 1637.6 1654.4C1637.9 1655.1 1639.3 1655.5 1639.2 1656C1639.1 1656.5 1637.6 1657.1 1636.8 1657.6C1636 1658.1 1634.9 1658.5 1634.4 1659.2C1633.9 1659.9 1633.3 1660.9 1633.6 1661.6C1633.9 1662.3 1635.2 1662.7 1636 1663.2C1636.8 1663.7 1637.7 1664 1638.4 1664.8C1639.1 1665.6 1638.4 1666.1 1640 1668C1641.6 1669.9 1641.3 1676 1648 1676C1654.7 1676 1671.3 1676 1680 1668C1688.7 1660 1696.7 1642.7 1700 1628C1703.3 1613.3 1700.4 1589 1700 1580C1699.6 1571 1701.7 1579.5 1697.7 1574.2C1693.6 1568.8 1682.3 1554.4 1675.7 1547.8C1669.1 1541.2 1662.4 1536.3 1658.2 1534.6C1653.9 1533 1652 1537.3 1650.3 1538.2Z"/><path fill="#fb1d0f" d="M1633.6 1614.4C1634.2 1613.7 1635.6 1613 1636.8 1612.8C1638 1612.6 1639.5 1612.9 1640.8 1613.2C1642.1 1613.5 1644.3 1613.8 1644.8 1614.4C1645.3 1615 1644.5 1616.1 1644 1616.8C1643.5 1617.5 1641.7 1617.7 1641.6 1618.4C1641.5 1619.1 1643.5 1620.3 1643.2 1620.8C1642.9 1621.3 1641.1 1621.4 1640 1621.6C1638.9 1621.8 1637.6 1622.4 1636.8 1622C1636 1621.6 1635.8 1620.1 1635.2 1619.2C1634.6 1618.3 1633.5 1617.6 1633.2 1616.8C1632.9 1616 1633 1615.1 1633.6 1614.4Z"/><ellipse fill="#fb1d0f" cx="1588.3" cy="1528.1" rx="1.9" ry="1.6"/><ellipse fill="#fb1d0f" cx="1636.8" cy="1646.2" rx="1" ry="1"/><ellipse fill="#fb1d0f" cx="1629.2" cy="1643.6" rx="0.6" ry="0.6"/><ellipse fill="#fb1d0f" cx="1620.4" cy="1657.2" rx="0.5" ry="0.5"/><ellipse fill="#fb1d0f" cx="1625.6" cy="1594.8" rx="0.5" ry="0.5"/><ellipse fill="#fb1d0f" cx="1439.1" cy="1640.5" rx="2.1" ry="0.8"/><path fill="#f3a7a6" d="M1647.6 1553.1C1648 1552.4 1650 1552 1651.1 1552.2C1652.3 1552.4 1653.5 1553.7 1654.6 1554.4C1655.8 1555.1 1656.8 1555.9 1658.2 1556.6C1659.5 1557.3 1661.1 1557.8 1662.6 1558.4C1664 1558.9 1665.9 1559.5 1666.9 1560.1C1668 1560.7 1668.8 1561.4 1668.7 1561.9C1668.6 1562.3 1666.8 1562.3 1666.1 1562.7C1665.3 1563.2 1664 1564.1 1664.3 1564.5C1664.6 1564.9 1666.5 1565.1 1667.8 1565.4C1669.1 1565.7 1670.7 1565.8 1672.2 1566.3C1673.7 1566.7 1675.1 1567.4 1676.6 1568C1678.1 1568.7 1678.2 1569.2 1681 1570.2C1683.8 1571.2 1691.2 1571.3 1693.3 1574.2C1695.3 1577 1693.7 1584.1 1693.3 1587.3C1692.8 1590.6 1691.5 1592.3 1690.7 1593.5C1689.8 1594.7 1689 1594.5 1688 1594.4C1687 1594.2 1685.2 1593.5 1684.5 1592.6C1683.8 1591.7 1684.2 1589.8 1683.6 1589.1C1683 1588.4 1681.7 1587.9 1681 1588.2C1680.3 1588.5 1680 1589.8 1679.7 1590.8C1679.4 1591.9 1679.7 1593.5 1679.2 1594.4C1678.7 1595.2 1677.6 1595.7 1676.6 1596.1C1675.6 1596.6 1674.3 1596.7 1673.1 1597C1671.9 1597.3 1670.6 1597.3 1669.6 1597.9C1668.6 1598.5 1667.5 1599.5 1666.9 1600.5C1666.4 1601.5 1666.4 1602.8 1666.1 1604C1665.8 1605.2 1665.8 1606.8 1665.2 1607.5C1664.6 1608.3 1663.3 1608.7 1662.6 1608.4C1661.8 1608.1 1661.2 1606.8 1660.8 1605.8C1660.4 1604.7 1660.5 1603.1 1659.9 1602.3C1659.3 1601.4 1658.3 1600.7 1657.3 1600.5C1656.3 1600.4 1654.9 1601.4 1653.8 1601.4C1652.6 1601.4 1651.4 1600.9 1650.3 1600.5C1649.1 1600.1 1647.9 1599.3 1646.7 1598.7C1645.6 1598.2 1644.4 1597.1 1643.2 1597C1642.1 1596.8 1640.7 1597.9 1639.7 1597.9C1638.7 1597.9 1637.2 1597.6 1637.1 1597C1636.9 1596.4 1638.1 1595.2 1638.8 1594.4C1639.6 1593.5 1640.6 1592.6 1641.5 1591.7C1642.4 1590.8 1643.2 1590 1644.1 1589.1C1645 1588.2 1645.9 1587.5 1646.7 1586.5C1647.6 1585.4 1648.7 1584.3 1649.4 1582.9C1650 1581.6 1650.3 1579.9 1650.7 1578.6C1651.1 1577.2 1651.9 1576.2 1652 1575C1652.2 1573.9 1651.4 1572.7 1651.6 1571.5C1651.8 1570.4 1653.1 1569.3 1653.3 1568C1653.5 1566.7 1653.3 1564.9 1652.9 1563.6C1652.5 1562.3 1651.4 1561.3 1650.7 1560.1C1650 1558.9 1649.5 1557.8 1648.9 1556.6C1648.4 1555.4 1647.3 1553.8 1647.6 1553.1Z"/><path fill="#fb1d0f" d="M1656.4 1580.3C1656.6 1579.9 1658 1579.3 1659 1579.4C1660.1 1579.6 1661.7 1580.6 1662.6 1581.2C1663.4 1581.8 1664 1582.4 1663.9 1582.9C1663.7 1583.5 1662.5 1584.2 1661.7 1584.7C1660.9 1585.2 1659.6 1586.2 1659 1586C1658.5 1585.9 1658 1584.4 1658.2 1583.8C1658.3 1583.2 1660 1582.9 1659.9 1582.5C1659.8 1582.1 1658.3 1582 1657.7 1581.6C1657.1 1581.3 1656.2 1580.7 1656.4 1580.3Z"/><path fill="#f3a7a6" d="M1634.5 1570.6C1634.6 1569.8 1635.9 1568.7 1637.1 1568C1638.3 1567.3 1640.2 1566.5 1641.5 1566.3C1642.8 1566 1644.3 1565.8 1645 1566.3C1645.7 1566.7 1646 1567.9 1645.9 1568.9C1645.7 1569.9 1645.1 1571.7 1644.1 1572.4C1643.1 1573.1 1641 1573.1 1639.7 1573.3C1638.4 1573.4 1637.1 1573.7 1636.2 1573.3C1635.3 1572.8 1634.3 1571.5 1634.5 1570.6Z"/><path fill="#f3a7a6" d="M1637.5 1584.7C1637.7 1584 1639 1583.1 1639.7 1582.9C1640.5 1582.8 1641.8 1583.2 1641.9 1583.8C1642.1 1584.4 1641.2 1585.9 1640.6 1586.5C1640 1587 1638.9 1587.2 1638.4 1586.9C1637.9 1586.6 1637.3 1585.4 1637.5 1584.7Z"/><ellipse fill="#f3a7a6" cx="1645.4" cy="1579" rx="0.9" ry="0.9"/><path fill="#f3a7a6" d="M1683.2 1603.2C1683.9 1602.7 1685.5 1602.1 1686.4 1602.4C1687.3 1602.7 1688.5 1603.7 1688.8 1604.8C1689.1 1605.9 1688.5 1607.6 1688 1608.8C1687.5 1610 1686.3 1611.1 1685.6 1612C1684.9 1612.9 1684.5 1614.4 1684 1614.4C1683.5 1614.4 1682.5 1613.1 1682.4 1612C1682.3 1610.9 1683.3 1609.1 1683.2 1608C1683.1 1606.9 1682 1606.4 1682 1605.6C1682 1604.8 1682.5 1603.7 1683.2 1603.2Z"/><path fill="#f3a7a6" d="M1679.2 1611.2C1679.7 1610.8 1680.4 1612.5 1680.8 1613.6C1681.2 1614.7 1681.7 1616.3 1681.6 1617.6C1681.5 1618.9 1680.5 1620.4 1680 1621.6C1679.5 1622.8 1679.1 1623.9 1678.4 1624.8C1677.7 1625.7 1676.5 1627.2 1676 1627.2C1675.5 1627.2 1675.1 1625.9 1675.2 1624.8C1675.3 1623.7 1676.4 1622.3 1676.8 1620.8C1677.2 1619.3 1677.2 1617.6 1677.6 1616C1678 1614.4 1678.7 1611.6 1679.2 1611.2Z"/><path fill="#f3a7a6" d="M1660 1620C1660.3 1619.2 1662.1 1618.9 1663.2 1619.2C1664.3 1619.5 1665.3 1620.9 1666.4 1621.6C1667.5 1622.3 1668.8 1622.4 1669.6 1623.2C1670.4 1624 1671.2 1625.3 1671.2 1626.4C1671.2 1627.5 1670 1628.7 1669.6 1629.6C1669.2 1630.5 1669.5 1631.7 1668.8 1632C1668.1 1632.3 1666.4 1631.9 1665.6 1631.2C1664.8 1630.5 1664.1 1628.9 1664 1628C1663.9 1627.1 1665.2 1626.3 1664.8 1625.6C1664.4 1624.9 1662.4 1624.9 1661.6 1624C1660.8 1623.1 1659.7 1620.8 1660 1620Z"/><path fill="#f3a7a6" d="M1660.8 1637.6C1661.5 1636.7 1662.9 1636 1664 1636C1665.1 1636 1666.5 1636.7 1667.2 1637.6C1667.9 1638.5 1668.1 1640.4 1668 1641.6C1667.9 1642.8 1667.1 1644.1 1666.4 1644.8C1665.7 1645.5 1664.8 1645.7 1664 1645.6C1663.2 1645.5 1662.3 1644.7 1661.6 1644C1660.9 1643.3 1660.1 1642.7 1660 1641.6C1659.9 1640.5 1660.1 1638.5 1660.8 1637.6Z"/><path fill="#f3a7a6" d="M1656 1652C1656.5 1651.1 1657.5 1650.3 1658.4 1649.6C1659.3 1648.9 1660.7 1647.9 1661.6 1648C1662.5 1648.1 1663.7 1649.3 1664 1650.4C1664.3 1651.5 1663.6 1653.3 1663.2 1654.4C1662.8 1655.5 1662.4 1656.5 1661.6 1656.8C1660.8 1657.1 1659.5 1656.3 1658.4 1656C1657.3 1655.7 1655.6 1655.9 1655.2 1655.2C1654.8 1654.5 1655.5 1652.9 1656 1652Z"/><ellipse fill="#f3a7a6" cx="1654.4" cy="1619.2" rx="1.2" ry="1.2"/><ellipse fill="#f3a7a6" cx="1643.2" cy="1634.8" rx="0.8" ry="0.8"/><ellipse fill="#f3a7a6" cx="1652" cy="1656" rx="1" ry="1"/><ellipse fill="#f3a7a6" cx="1641.6" cy="1657.6" rx="0.8" ry="0.8"/><ellipse fill="#f3a7a6" cx="1673.6" cy="1632.8" rx="0.8" ry="0.8"/><ellipse fill="#b21a12" cx="1656.8" cy="1544.5" rx="1.1" ry="1.9"/></g>
<g fill="none" stroke="#000" stroke-width="2.4" stroke-linejoin="round" stroke-linecap="round"><path d="M1414.1 1584.9L1413.3 1583.4L1412.9 1581.7L1411.7 1580.5L1410.9 1579L1410.2 1577.5L1409.4 1575.9L1410.9 1576.9L1412.5 1577.7L1414.1 1578.5L1416.1 1578.3L1417.6 1579.3L1416.9 1578L1417.2 1576.5L1416.6 1575.2L1415.4 1574.1L1415.6 1572.4L1414.7 1571.1L1414 1569.8L1413.3 1568.5L1412.3 1567.2L1412 1565.6L1412.5 1564L1413.1 1562.2L1414.3 1560.8L1414.4 1559.5L1414.3 1558.1L1414.9 1556.8L1414.1 1555.2L1415 1553.7L1415.3 1552L1416.2 1551.1L1416.9 1550L1417.4 1551.9L1418.1 1553.6L1419 1552.5L1420.6 1552.1L1421.4 1551L1422.8 1550.4L1424.1 1549.6L1425.3 1548.7L1426.5 1547.6L1427.9 1546.8L1429.2 1545.8L1430.7 1545.4L1431.7 1544.3L1433.1 1543.9L1434.1 1542.7L1435.9 1542.6L1437.3 1541.7L1439.1 1541.7L1440.5 1542.7L1442.1 1542.5L1443.2 1541.4L1444.7 1541L1445.9 1540.1L1447.1 1539.3L1448.6 1539.2L1450 1538.8L1451.1 1537.6L1452.6 1537L1453.9 1537.1L1455.2 1537.8L1456.6 1537.5L1458.1 1536.6L1459.7 1536.2L1461.3 1535.8L1462.6 1535L1464.2 1535.2L1465.3 1534.2L1466.9 1533L1468.2 1531.5L1468.6 1530L1469.8 1528.7L1470.1 1527L1471.5 1526.3L1472.5 1525L1473.6 1524.1L1474.5 1523.2L1473.8 1522L1473.7 1520.7L1473.7 1519.1L1473.2 1517.5L1474.4 1516.8L1474.9 1515.4L1476.4 1514.2L1477.8 1513.3L1479.8 1513.5L1480.6 1515L1480.5 1516.9L1482.1 1517.7L1483 1519.1L1484.1 1517.6L1484.6 1515.9L1483.9 1514.7L1483.2 1513.4L1483 1511.7L1484.4 1511.7L1485.7 1511.1L1487.1 1511.2L1488.4 1511.2L1489.7 1511.6L1491.3 1511.8L1490.3 1510.3L1489.5 1508.7L1490 1507.1L1489.9 1505.3L1491.2 1505L1492.8 1505.2L1493.9 1504.3L1494.6 1503.1L1494.2 1501.5L1494.3 1500L1496 1499.7L1497.4 1498.6L1499 1497.8L1499.9 1496.5L1501.5 1496.2L1503.1 1495.8L1504.3 1494.4L1506 1493.3L1507.1 1494.5L1508.8 1494.6L1509.7 1495.8L1511 1496.4L1511.8 1497.6L1512.7 1498.6L1513.7 1499.5L1514.5 1500.6L1514.5 1502.5L1514.9 1504.2L1515.7 1502.8L1516.7 1501.5L1518.4 1501.6L1519.9 1501.1L1521.7 1501.9L1523.3 1503.3L1524.4 1502L1525.7 1501.6L1525 1500L1524.3 1498.3L1524.5 1496.5L1525.4 1495L1526.2 1493.7L1527.2 1492.4L1527.8 1491L1528.6 1489.4L1529.7 1488L1531.1 1486.8L1532 1485.1L1533.2 1484.4L1534.2 1483.5L1535 1482.7L1534 1481.7L1533.6 1480.5L1532 1479.7L1530.4 1479.8L1529 1479.9L1528.7 1478.4L1529.7 1477.2L1530 1475.8L1531.7 1476.8L1533.6 1477.3L1535.2 1477.7L1536.7 1476.8L1538.4 1476.5L1540.1 1476.2L1541.7 1475.6L1543 1475.2L1544.3 1474.8L1545.5 1474.3L1546 1476L1547.2 1477.4L1548 1477.5L1549.1 1478.6L1550.5 1479.4L1552 1479.8L1553.2 1480.6L1554.6 1481.2L1556 1481.5L1557.4 1481.4L1558.7 1481.1L1560 1481.1L1561.3 1481.7L1562.9 1481.7L1564.1 1482.7L1565.9 1482.3L1567.4 1481.2L1568.5 1480.4L1569.3 1479.3L1570.5 1478.7L1571.5 1477.7L1572.5 1476.6L1573.6 1475.8L1574 1474.5L1575 1473.8L1575.2 1475.1L1574.4 1476.2L1573.6 1477.7L1572.8 1479.2L1572 1481.5L1573.3 1482.2L1574.4 1483L1575.5 1483.6L1575.3 1485.1L1574.7 1486.4L1573.8 1487.6L1572.8 1488.6L1571.4 1489.5L1569.8 1489.9L1568.3 1491.9L1568.7 1493.5L1569.3 1495.1L1567.9 1496.5L1567.3 1498.3L1566.1 1499.4L1565.4 1500.6L1566.5 1502.7L1567.6 1503.8L1568.9 1504.6L1570.4 1505.3L1572.1 1506L1573.7 1507.1L1575.3 1507.3L1577 1507.8L1577.9 1508.7L1578.8 1509.8L1580 1510.4L1581 1511.3L1582 1512.3L1583.3 1512.6L1585 1513.2L1586.5 1514.3L1587.9 1514.5L1589.3 1514.8L1590.5 1515.5L1591.8 1514.2L1592.9 1512.7L1594.2 1512.9L1595.2 1513.4L1594.1 1514.3L1593.8 1515.7L1593.1 1516.6L1594.1 1517.7L1594.4 1519.3L1596.1 1519.4L1597.1 1520.6L1598.5 1521.2L1600.1 1520.5L1601.8 1520.4L1602.6 1518.6L1604 1517.4L1604.8 1516.2L1605.1 1514.6L1606.3 1513.6L1606.4 1511.8L1606.9 1510.2L1607.5 1508.7L1608.1 1507.1L1608.2 1505.5L1608.6 1503.9L1608.7 1502.3L1608.9 1500.7L1608.8 1499L1608.5 1497.4L1607.7 1495.9L1607.7 1494.3L1607.7 1492.6L1607.8 1491L1608.5 1489.5L1609 1487.9L1608.8 1486.2L1609.3 1484.6L1610 1483L1611.1 1481.5L1611.4 1479.8L1611.9 1478.3L1612.3 1476.7L1612.5 1474.8L1613 1473.1L1614.4 1472.4L1615.9 1472.9L1616.4 1474.3L1616.8 1475.6L1617.7 1476.8L1617.8 1478.2L1618.5 1479.9L1619.2 1481.5L1620 1482.7L1620.4 1484.1L1620.8 1485.5L1621.1 1487.1L1621.4 1488.8L1622.2 1490.3L1622.2 1491.6L1622.7 1492.9L1622.5 1494.3L1622.9 1496.2L1623.8 1497.9L1625.2 1497.9L1626.5 1497.3L1628.5 1496.8L1629.7 1498.2L1631.2 1499.3L1632.8 1500.3L1634.1 1501.5L1634.5 1502.8L1634.1 1504.2L1634.4 1505.5L1635 1506.8L1635.6 1508.1L1635.4 1509.5L1635.8 1511.1L1636.1 1512.8L1637 1513.8L1638.2 1514.6L1638.5 1516L1639.6 1517.1L1639.4 1518.7L1640.4 1519.9L1640.3 1521.3L1639.7 1522.6L1640 1523.9L1640.8 1525.4L1641 1527.1L1641 1528.6L1641.3 1530.1L1642.7 1530.9L1644.2 1531.8L1645.6 1532.1L1646.7 1533L1648.4 1533L1650 1533.9L1651.4 1535.2L1652.9 1535.6L1654 1536.7L1655.4 1537.2L1657.3 1538L1658.9 1538.8L1659.2 1540.2L1659.6 1541.5L1660.4 1542.9L1660.9 1544.5L1661.5 1546.4L1662.8 1547.9L1662.9 1549.6L1663.3 1551.1L1664.3 1552.4L1665.5 1553.1L1666.7 1553.5L1668.3 1553.2L1669.9 1552.8L1671 1554.1L1672.5 1555.2L1672 1556.6L1672.6 1557.9L1672.7 1559.2L1673.4 1561L1674.7 1562.5L1675.8 1563.4L1676.7 1564.4L1678.1 1565.1L1679 1566.2L1680.1 1567L1681 1568.2L1681.9 1569.4L1683.4 1570L1684.3 1571.2L1685.8 1572.4L1686.7 1574L1687.7 1573L1688.4 1571.8L1688.7 1570.4L1689.5 1571.6L1690.1 1572.9L1689.3 1574.4L1688.5 1575.9L1688.5 1577.6L1688.2 1579L1689.1 1580.3L1688.9 1581.6L1689.3 1583L1689.1 1584.4L1689.6 1585.7L1690.1 1587.2L1690.2 1588.9L1690.9 1590.4L1690.9 1592.2L1691.7 1593.7L1691.7 1595L1692.1 1596.3L1692.1 1597.8L1691.5 1599L1691.2 1600.4L1690.8 1601.7L1690.4 1603.1L1689.9 1604.4L1689.7 1605.8L1689.4 1607.4L1688.6 1608.9L1688.3 1610.5L1688 1612.1L1687.5 1613.7L1687.5 1615.3L1686.7 1616.8L1686.7 1618.6L1685.8 1620.1L1684.9 1621.3L1684 1622.6L1683.6 1624.2L1682.6 1625.1L1681.1 1625.4L1680.4 1626.7L1679.1 1627.3L1678.4 1628.5L1678.1 1629.9L1677.3 1631.3L1676.1 1632.3L1675.6 1633.8L1675.1 1635.6L1673.6 1636.9L1673.1 1638.6L1672 1640.1L1671.8 1642L1670.7 1643.4L1669.7 1644.7L1669.5 1646.3L1668.4 1647.5L1667.8 1648.7L1667.4 1650L1667.3 1651.4L1667.6 1652.8L1666.9 1654.1L1666.6 1655.4L1666.7 1657L1666.6 1658.6L1665.7 1659.7L1664.3 1660.5L1662.8 1661L1661.1 1661.1L1659.7 1660.9L1658.4 1661L1657.1 1661L1655.8 1661.7L1654.5 1661.9L1653.1 1662L1651.3 1662.4L1649.7 1663.3L1648.5 1663.9L1648 1665.4L1646.8 1666.1L1644.8 1666.5L1643.4 1667.9L1642.2 1668.9L1641.4 1670.3L1640 1669.3L1638.6 1668.3L1637.8 1667.1L1637.1 1665.8L1635.5 1665.2L1634.7 1663.8L1633.2 1662.6L1631.5 1662L1630.2 1662.3L1628.9 1662.6L1627.9 1663.7L1626.7 1664.8L1625.6 1666.1L1624.2 1667.1L1623.2 1668.1L1621.9 1668.1L1620.6 1667.5L1619.2 1667L1617.8 1666.5L1616.5 1666L1615.1 1665.7L1613.8 1665L1612.4 1664.7L1611.2 1663.8L1609.7 1663.7L1608.6 1664.5L1607.5 1664.5L1605.9 1663.5L1604.2 1662.5L1602.9 1661.8L1601.4 1661.7L1600.3 1660.9L1599.2 1659.6L1597.8 1658.6L1597.1 1657.3L1596.3 1656.3L1596.4 1654.8L1597 1653.4L1595.7 1652.2L1595.3 1650.7L1594.1 1649.5L1592.7 1648.2L1593 1647L1593.4 1645.8L1592.6 1644.7L1591.8 1643.9L1590.1 1644L1588.9 1644.9L1587.4 1646L1585.7 1646.5L1583.9 1646.9L1582.1 1647.3L1584.1 1645.9L1585.4 1645.5L1586.2 1644.2L1586.9 1642.7L1587.4 1641L1587.3 1639.3L1586.2 1638.1L1585.3 1636.8L1584 1635.8L1583.4 1637.9L1582.6 1639.3L1581.8 1640.8L1580.5 1641.9L1578.9 1642.7L1577.3 1643.1L1575.6 1642.7L1576.9 1642.2L1577.7 1641L1578.9 1640.4L1580.3 1639.8L1580.4 1638.4L1580.7 1637.1L1581 1635.6L1581.4 1634.3L1581.9 1632.4L1583.3 1631L1583.9 1629.2L1583.9 1627.5L1583.6 1625.6L1582.5 1624.3L1581.3 1625.4L1580.8 1627.3L1579.7 1629L1578.8 1630.3L1578.2 1632L1576.3 1632.2L1574.9 1633.4L1573.5 1634.6L1572 1635.8L1571.2 1637.3L1570.2 1638.6L1569.5 1640L1569.3 1641.4L1567.8 1641.4L1566.5 1640.9L1565.1 1640.4L1563.8 1639.8L1562.8 1638.5L1563.8 1637.4L1565.1 1637.1L1564.4 1635.6L1563.2 1634.6L1562.8 1633.2L1561.7 1632.1L1560.5 1631.2L1560.1 1629.6L1558.6 1628.6L1556.6 1628.1L1557.4 1627L1557.2 1625.8L1556.2 1624.6L1555.3 1623.2L1553.5 1622.8L1552 1621.8L1550.8 1620.9L1549.4 1620.8L1548 1620.6L1546.4 1620.3L1544.8 1620.4L1543.2 1620.9L1541.7 1620.4L1540.6 1619.2L1539.2 1618.5L1537.5 1618.1L1536 1617.4L1534.4 1617.6L1532.8 1618.3L1531.4 1618.2L1530 1617.9L1528.6 1618.2L1527.2 1618.2L1525.5 1618.2L1524 1618.5L1522.3 1618.3L1520.7 1618.7L1518.9 1619L1517.4 1619.8L1515.9 1620.8L1514.4 1621.6L1512.8 1622.1L1511.1 1621.9L1509.7 1622.1L1508.3 1622.6L1506.9 1623.2L1505.5 1623.4L1504.1 1623L1502.7 1623L1501.3 1622.8L1499.9 1622.7L1498.4 1623.2L1497.2 1624.3L1495.8 1624.9L1494.2 1625.1L1492.5 1625.6L1490.9 1626.3L1489.6 1627.5L1488.5 1628.3L1487.2 1628.6L1486.3 1629.8L1485.4 1630.9L1485 1632.4L1483.9 1633.3L1482.4 1634.5L1480.6 1635.1L1479.1 1634.4L1477.4 1634.1L1476.1 1634.3L1474.8 1634.8L1473.4 1635L1472.1 1634.8L1471 1634.2L1469.7 1633.8L1468.4 1633.5L1467.1 1634L1465.7 1634.3L1464.2 1633.8L1462.8 1634.2L1461.4 1634.4L1459.8 1635L1458.2 1634.9L1456.7 1635L1455.3 1635.8L1454.6 1637.2L1453.4 1638.1L1452 1637.9L1450.8 1638.9L1449.4 1638.9L1447.9 1639.7L1446.5 1640.5L1445.4 1641.8L1444.1 1642.3L1442.8 1643L1441.4 1642.8L1439.7 1643.3L1438.1 1643.1L1436.6 1642.5L1435.2 1642.3L1433.9 1641.8L1432.5 1641.9L1431.1 1640.7L1429.2 1640.3L1427.9 1639.4L1426.9 1638.1L1425.2 1638.2L1423.6 1637.4L1423.7 1636.1L1423.4 1634.9L1423.1 1633.5L1423.4 1632L1424.9 1632.5L1426.2 1632.1L1427.3 1631.3L1427.4 1629.8L1428.2 1628.5L1428.4 1626.9L1428.7 1625.3L1429 1624L1428.9 1622.7L1428.5 1621.3L1428.2 1619.6L1427.2 1618.2L1426.4 1616.6L1425.7 1614.9L1425.3 1613.1L1424.3 1611.7L1423.6 1610.4L1423.5 1609L1423.3 1607.7L1423.2 1606.3L1423.2 1605L1423.3 1603.7L1422.2 1602.2L1421.7 1600.5L1421.3 1599.1L1420.4 1598L1419.8 1596.8L1419 1595.6L1417.8 1594.6L1417.4 1593.2L1417.4 1591.8L1416.6 1590.6L1416.3 1589.4L1415.8 1588L1415.2 1586.8L1414.5 1585.6ZM1629.8 1679.1L1630.9 1680.4L1632.2 1681.6L1633.6 1681.6L1635 1681.8L1636.2 1682.6L1638 1682.9L1639.6 1683.8L1641.4 1684L1643.2 1683.6L1644.9 1683.2L1646.7 1682.8L1648 1682.1L1649.4 1682L1650.8 1681.5L1652.3 1681.7L1654 1680.9L1655.7 1681.1L1656.3 1682.4L1655.7 1683.8L1655.9 1685.1L1655.8 1686.5L1655.3 1687.8L1655.7 1689.1L1655.8 1690.5L1654.8 1691.8L1655.1 1693.1L1654.4 1695L1652.9 1696.2L1651.9 1697.3L1651.5 1698.9L1649.9 1699.2L1648.3 1699.7L1646.9 1700.5L1645.4 1701.1L1644 1701.5L1642.7 1701.1L1640.9 1701L1639.3 1700.1L1638.5 1698.3L1637 1697.2L1636.1 1695.8L1635.5 1694.4L1634.6 1693.1L1633.8 1691.8L1632.9 1690.7L1632.7 1689.1L1632.4 1687.6L1631.7 1686.2L1630.7 1685.1L1629.9 1683.6L1629.3 1681.9L1629.8 1680.5ZM1528.6 1479.8L1529.3 1478.6L1529.7 1477.2L1529.9 1476L1531.9 1476.3L1533.6 1477.3L1535.1 1476.9L1536.7 1476.9L1538.5 1476.7L1539.9 1475.6L1541.6 1475.4L1542.8 1474.7L1544.2 1474.4L1545.6 1474.2L1546.1 1476L1547.2 1477.4L1546.3 1478.8L1544.8 1479.5L1543.3 1480L1541.5 1479.6L1539.9 1480.1L1539 1481L1538.4 1482.4L1539.8 1482.6L1541.2 1482.9L1542.6 1482.8L1543.9 1482.5L1545.6 1482.1L1546.8 1481L1547.3 1479.3L1547.2 1477.4"/>
<g fill="#000" stroke-width="0.8"><ellipse cx="1625" cy="1675.5" rx="1.8" ry="2.6"/><ellipse cx="1654.3" cy="1677.1" rx="2.4" ry="3.1"/><ellipse cx="1577.3" cy="1647.8" rx="4.4" ry="1.3"/><ellipse cx="1574.1" cy="1495.7" rx="1.9" ry="1.8"/><ellipse cx="1426.1" cy="1543" rx="1.2" ry="1"/><ellipse cx="1612.8" cy="1468.8" rx="1.9" ry="1.2"/><path d="M1408.1 1575.3L1410.9 1574.9L1413.3 1577.7L1417.7 1577.7L1419.3 1580.9L1418.3 1584.2L1414.3 1585.8L1411.7 1582.5L1409.3 1578.5Z"/><path d="M1627 1664.3L1629 1662.3L1631.8 1661.5L1634.6 1663.5L1637 1665.5L1635.4 1666.3L1631.4 1664.4L1628.2 1665.5Z"/><path d="M1575.7 1640.6L1580.1 1639.4L1581.7 1641L1578.9 1643L1576.1 1643Z"/><path d="M1529.6 1475.8L1532.8 1475L1536 1477.4L1533.6 1479.4L1529.6 1480.2L1528.4 1478.2Z"/><path d="M1591.7 1513.4L1594.9 1512.6L1595.5 1513.9L1593.3 1515Z"/><path d="M1687.5 1570.4L1689.5 1568.8L1690.3 1573.7L1689.1 1577.7L1687.9 1575.3Z"/><path d="M1687.5 1585.7L1691.5 1586.5L1692.3 1591.3L1689.9 1590.5L1688.3 1588.9Z"/></g></g>
</g>
<g id="map-2019">
<clipPath id="clip2019"><path d="M1717.6 1584.9L1712.8 1576.1L1716 1577.7L1721.3 1579.3L1720.1 1575.3L1718 1571.2L1716 1567.2L1716 1564L1718 1560.8L1718.4 1556.8L1717.6 1555.2L1718.8 1552L1720.5 1550L1721.7 1553.6L1724.9 1550.8L1728.9 1548.8L1732.9 1546L1737.7 1542.8L1740.9 1541.6L1744.1 1542.8L1748.1 1540.8L1752.1 1539.2L1756.1 1537.2L1760.1 1537.4L1765 1536L1769 1534.4L1771.8 1531.6L1773.8 1527.1L1776.2 1525.1L1778.2 1523.1L1777 1520.7L1776.8 1517.5L1778.6 1515.5L1781.4 1513.1L1783.4 1513.5L1784.2 1516.7L1786.6 1519.1L1788.2 1515.9L1786.6 1511.9L1790.6 1511.1L1794.6 1511.9L1793 1508.7L1793.4 1505.5L1796.2 1505.1L1798.2 1503.1L1797.8 1499.9L1801 1498.7L1803.4 1496.3L1806.7 1495.9L1809.5 1493.5L1812.3 1494.7L1815.5 1497.5L1817.9 1500.7L1818.7 1504.3L1820.3 1501.5L1823.5 1501.1L1826.7 1503.1L1829.5 1501.5L1827.9 1498.3L1829.1 1495.1L1831.5 1491.1L1833.1 1487.9L1835.5 1485L1838.7 1482.6L1837.1 1480.2L1832.3 1479.8L1833.5 1475.8L1837.1 1477.4L1840.3 1477L1845.1 1475.4L1849.2 1474.2L1850.8 1477.4L1851.6 1477.4L1855.6 1479.8L1859.6 1481.4L1863.6 1481L1867.6 1482.6L1870.8 1481L1874 1478.6L1877.1 1475.7L1878.7 1473.8L1878 1476.2L1876.3 1479.2L1875.6 1481.4L1879.2 1483.7L1878 1486.2L1876.4 1488.7L1873.2 1489.9L1872 1491.9L1872.8 1495.1L1870.8 1498.3L1868.8 1500.7L1870 1502.7L1874 1505.1L1877.2 1507.1L1880.4 1507.9L1883.6 1510.3L1886.8 1512.7L1890 1514.3L1894.1 1515.5L1896.5 1512.7L1898.9 1513.5L1896.5 1516.7L1898.1 1519.1L1902.1 1521.1L1905.3 1520.3L1907.7 1517.5L1909.7 1513.5L1911.3 1508.7L1912.1 1503.9L1912.1 1499.1L1911.3 1494.3L1912.1 1489.5L1912.9 1484.6L1914.5 1481.4L1915.7 1476.6L1916.5 1473L1918.1 1472.2L1920.1 1474.2L1921.3 1478.2L1922.9 1481.4L1924.5 1485.4L1925.7 1490.3L1926.1 1494.3L1927.3 1497.9L1930.1 1497.5L1932.1 1496.7L1935 1499.1L1937.8 1501.5L1938.2 1505.5L1939 1509.5L1939.8 1512.7L1942.2 1515.9L1943.8 1519.9L1943.4 1523.9L1944.6 1527.1L1945 1530L1947.8 1531.6L1951.8 1533.2L1955 1535.2L1959 1537.2L1962.6 1538.8L1963 1541.6L1964.6 1544.4L1966.2 1548L1967.8 1552.4L1970.2 1553.6L1973.4 1552.8L1975.9 1555.2L1976.3 1559.2L1978.3 1562.4L1981.5 1565.2L1984.7 1568L1987.9 1571.2L1990.3 1574.1L1992.3 1570.4L1993.5 1572.9L1991.9 1577.7L1992.3 1581.7L1993.1 1585.7L1994.3 1590.5L1995.1 1593.7L1995.5 1597.7L1994.3 1601.7L1993.1 1605.7L1991.9 1610.5L1991.1 1615.4L1989.5 1620.2L1987.1 1624.2L1983.9 1626.6L1981.5 1629.8L1979.1 1633.8L1976.7 1638.6L1974.2 1643.4L1971.8 1647.4L1971 1651.4L1970.2 1655.4L1970.2 1658.7L1967.8 1660.3L1964.6 1660.9L1960.6 1661.1L1956.6 1661.9L1953.4 1663.5L1950.2 1665.9L1947 1667.9L1945 1670.3L1942.2 1668.3L1940.6 1665.9L1938.2 1663.9L1935 1661.9L1932.5 1662.7L1930.1 1664.7L1927.7 1667.1L1925.3 1668.3L1921.3 1666.7L1917.3 1665.1L1913.3 1663.9L1910.9 1664.7L1907.7 1662.7L1903.7 1661.1L1901.3 1658.7L1899.7 1656.2L1900.5 1653.4L1898.9 1650.6L1896.5 1648.2L1896.9 1645.8L1895.3 1643.8L1892.5 1645L1889.2 1646.6L1885.6 1647.3L1887.6 1646L1889.6 1644.2L1890.9 1641L1889.9 1638L1887.6 1635.8L1886.8 1637.8L1885.2 1640.6L1882.4 1642.6L1879.2 1642.8L1881.2 1641L1883.6 1639.8L1884 1637L1884.8 1634.2L1886.8 1631L1887.6 1627.4L1885.9 1624.2L1884.8 1625.4L1883.2 1629L1881.6 1631.8L1878.4 1633.4L1875.6 1635.8L1873.6 1638.6L1872.8 1641.4L1870 1641L1866.4 1638.6L1868.8 1637L1866.8 1634.6L1865.2 1632.2L1863.6 1629.8L1860.4 1628.2L1860.8 1625.8L1858.8 1623.4L1855.6 1621.8L1851.6 1620.6L1850 1620.5L1846.7 1620.9L1842.7 1618.5L1839.5 1617.1L1836.3 1618.1L1830.7 1618.1L1824.3 1618.8L1819.5 1620.9L1814.7 1622.1L1809.1 1623.3L1803.4 1622.8L1797.8 1625.3L1793 1627.3L1790.6 1628.5L1787.4 1633.3L1784.2 1634.9L1781 1634.1L1777 1634.9L1774.6 1634.1L1770.6 1633.7L1765 1634.5L1760.1 1634.9L1756.9 1638.2L1752.9 1639L1748.9 1641.8L1744.9 1643L1740.1 1642.6L1736.1 1641.8L1732.9 1640.2L1730.5 1638.2L1727.3 1637.4L1726.9 1634.9L1726.9 1632.1L1728.5 1632.5L1730.9 1631.3L1731.7 1628.5L1732.1 1625.3L1732.1 1621.3L1730.9 1618.1L1729.3 1614.9L1727.7 1611.7L1726.9 1607.7L1726.9 1603.7L1725.3 1600.5L1723.3 1596.9L1720.9 1593.3L1720.1 1589.2L1718 1585.6ZM1933.4 1679.1L1935.8 1681.5L1939.8 1682.7L1945 1683.9L1950.2 1682.7L1955.8 1681.5L1959.4 1681.1L1959.4 1685.1L1959 1689.1L1958.6 1693.1L1956.6 1696.3L1955 1698.7L1951.8 1699.5L1949 1701.2L1946.2 1701.2L1943 1699.9L1940.6 1697.1L1938.2 1693.1L1936.2 1689.1L1934.2 1685.1L1933 1681.9Z"/></clipPath>
<g clip-path="url(#clip2019)"><rect x="1694" y="1460" width="306" height="248" fill="#f3a7a6"/><path fill="#fb1d0f" d="M1765.2 1522.7C1766.5 1534.1 1771 1531.1 1772.6 1533.2C1774.2 1535.3 1773.8 1534.3 1774.7 1535.3C1775.6 1536.4 1776.8 1538.5 1777.9 1539.6C1778.9 1540.6 1780 1541.7 1781.1 1541.7C1782.1 1541.7 1783.5 1540.4 1784.2 1539.6C1784.9 1538.7 1785.3 1537.3 1785.3 1536.4C1785.3 1535.5 1783.9 1535.2 1784.2 1534.3C1784.6 1533.4 1786.1 1532.2 1787.4 1531.1C1788.6 1530.1 1790.2 1529 1791.6 1528C1793 1526.9 1794.4 1525.5 1795.8 1524.8C1797.2 1524.1 1798.8 1523.6 1800 1523.8C1801.3 1523.9 1802.4 1526 1803.2 1525.9C1804 1525.7 1804.3 1522.7 1804.8 1522.7C1805.2 1522.7 1805.8 1524.6 1805.8 1525.9C1805.8 1527.1 1804.8 1528.5 1804.8 1530.1C1804.8 1531.7 1805.4 1533.6 1805.8 1535.3C1806.3 1537.1 1806.8 1538.9 1807.4 1540.6C1808 1542.4 1808.8 1544.1 1809.5 1545.9C1810.2 1547.6 1810.9 1549.6 1811.6 1551.2C1812.3 1552.7 1813 1554 1813.7 1555.4C1814.4 1556.8 1815.6 1558.2 1815.8 1559.6C1816.1 1561 1815.7 1562.6 1815.3 1563.8C1814.9 1565 1813.5 1565.7 1813.2 1567C1812.9 1568.2 1814 1569.8 1813.7 1571.2C1813.5 1572.6 1811.6 1574.2 1811.6 1575.4C1811.6 1576.6 1812.7 1577.9 1813.7 1578.6C1814.8 1579.3 1816.4 1579.3 1817.9 1579.6C1819.5 1580 1821.5 1580.1 1823.2 1580.7C1825 1581.2 1826.9 1582.3 1828.5 1582.8C1830.1 1583.3 1831.1 1583.8 1832.7 1583.8C1834.3 1583.8 1836.4 1583.3 1838 1582.8C1839.5 1582.3 1841.3 1581.7 1842.2 1580.7C1843.1 1579.6 1842.9 1577.7 1843.2 1576.5C1843.6 1575.2 1843.6 1574.2 1844.3 1573.3C1845 1572.4 1846.2 1571.9 1847.5 1571.2C1848.7 1570.5 1850.3 1569.8 1851.7 1569.1C1853.1 1568.4 1853.9 1567.7 1855.9 1567C1857.9 1566.2 1861.8 1565.2 1863.7 1564.5C1865.6 1563.8 1866.2 1563.5 1867.2 1562.8C1868.2 1562 1869.2 1561 1869.4 1560.1C1869.5 1559.2 1868.6 1558.4 1868.1 1557.5C1867.6 1556.6 1866.9 1555.9 1866.3 1554.9C1865.7 1553.8 1864.9 1552.7 1864.6 1551.3C1864.3 1550 1864.7 1548.4 1864.6 1546.9C1864.4 1545.5 1863.7 1543.7 1863.7 1542.6C1863.7 1541.4 1863.7 1540.6 1864.6 1539.9C1865.4 1539.3 1867.3 1539 1869 1538.6C1870.6 1538.2 1872.5 1538.1 1874.2 1537.7C1876 1537.4 1877.9 1536.5 1879.5 1536.4C1881.1 1536.3 1882.4 1537.3 1883.9 1537.3C1885.4 1537.3 1887 1536.7 1888.3 1536.4C1889.6 1536.1 1890.9 1536.3 1891.8 1535.5C1892.7 1534.8 1892.8 1533 1893.5 1532C1894.3 1531 1895.2 1530.2 1896.2 1529.4C1897.2 1528.6 1898.4 1527.6 1899.7 1527.2C1901 1526.7 1902.8 1527.1 1904.1 1526.7C1905.4 1526.4 1906.6 1525.7 1907.6 1525C1908.6 1524.3 1909.4 1523.4 1910.2 1522.4C1911 1521.3 1912 1520.2 1912.4 1518.8C1912.9 1517.5 1912.7 1516.1 1912.9 1514.5C1913.1 1512.8 1913.6 1510.6 1913.6 1509.2C1913.6 1507.7 1913.9 1507 1912.9 1505.7C1911.9 1504.4 1909.8 1504.5 1907.6 1501.3C1905.4 1498.1 1901 1494 1899.7 1486.3C1898.4 1478.7 1922.1 1459.2 1899.7 1455.6C1877.3 1452 1787.7 1453.5 1765.2 1464.7C1742.8 1475.9 1764 1511.3 1765.2 1522.7Z"/><path fill="#fb1d0f" d="M1776.8 1549.1C1776.8 1548.2 1778.1 1545.8 1778.9 1544.8C1779.8 1543.9 1781.2 1543.3 1782.1 1543.3C1783 1543.3 1784.2 1544 1784.2 1544.8C1784.2 1545.6 1783 1547.1 1782.1 1548C1781.2 1548.9 1779.8 1549.9 1778.9 1550.1C1778.1 1550.3 1776.8 1549.9 1776.8 1549.1Z"/><path fill="#fb1d0f" d="M1732 1548.5C1732.3 1547.6 1733.8 1545.5 1734.7 1545C1735.5 1544.6 1736.9 1545.1 1737 1545.9C1737.1 1546.6 1735.9 1548.8 1735.2 1549.6C1734.6 1550.3 1733.6 1550.5 1733.1 1550.3C1732.6 1550.1 1731.8 1549.4 1732 1548.5Z"/><ellipse fill="#fb1d0f" cx="1768.2" cy="1536.6" rx="1.3" ry="0.8"/><ellipse fill="#fb1d0f" cx="1770.5" cy="1633.1" rx="1.5" ry="0.5"/><path fill="#fb1d0f" d="M1726.2 1604.9C1727.5 1602.8 1729.3 1604.2 1730.5 1604.9C1731.6 1605.6 1732.4 1607.5 1733.1 1609.1C1733.8 1610.7 1734.1 1612.8 1734.7 1614.4C1735.3 1616 1736.2 1617.2 1736.8 1618.6C1737.4 1620 1738 1621.3 1738.4 1622.8C1738.7 1624.4 1738.9 1626.3 1738.9 1628.1C1738.9 1629.9 1738.2 1631.8 1738.4 1633.4C1738.5 1635 1739 1636.5 1739.9 1637.6C1740.9 1638.6 1742.9 1638.8 1744.2 1639.7C1745.4 1640.6 1749.1 1641.6 1747.3 1642.9C1745.6 1644.1 1738.5 1647.8 1733.6 1647.1C1728.7 1646.4 1719.6 1643.6 1717.8 1638.6C1716.1 1633.7 1721.7 1623.2 1723.1 1617.6C1724.5 1611.9 1725 1607 1726.2 1604.9Z"/><path fill="#b21a12" d="M1794.8 1509C1795.3 1507.6 1797.6 1505.3 1799 1503.7C1800.4 1502.1 1801.6 1500.7 1803.2 1499.5C1804.8 1498.3 1806.7 1496.9 1808.5 1496.4C1810.2 1495.8 1812.3 1495.6 1813.7 1496.4C1815.1 1497.1 1816.5 1499.2 1816.9 1500.6C1817.2 1502 1816.5 1503.7 1815.8 1504.8C1815.1 1505.8 1813.6 1506 1812.7 1506.9C1811.8 1507.8 1811.6 1509.2 1810.6 1510.1C1809.5 1510.9 1807.8 1511.6 1806.3 1512.2C1804.9 1512.7 1803.5 1513 1802.1 1513.2C1800.7 1513.5 1799 1513.9 1797.9 1513.7C1796.9 1513.6 1796.3 1513 1795.8 1512.2C1795.3 1511.4 1794.2 1510.4 1794.8 1509Z"/><path fill="#b21a12" d="M1833.8 1487.9C1834.3 1486.9 1836.7 1485.1 1838 1484.8C1839.2 1484.4 1841.1 1484.9 1841.1 1485.8C1841.1 1486.7 1839 1489.1 1838 1490C1836.9 1490.9 1835.5 1491.4 1834.8 1491.1C1834.1 1490.7 1833.2 1489 1833.8 1487.9Z"/><path fill="#b21a12" d="M1842.2 1494.2C1843.1 1493.4 1845.7 1492.8 1847.5 1492.1C1849.2 1491.4 1851.1 1490.6 1852.7 1490C1854.3 1489.5 1855.9 1488.6 1856.9 1489C1858 1489.3 1858.9 1490.9 1859 1492.1C1859.2 1493.4 1858.9 1495.5 1858 1496.4C1857.1 1497.2 1855.2 1497.1 1853.8 1497.4C1852.4 1497.8 1851 1498.1 1849.6 1498.5C1848.2 1498.8 1846.6 1499.7 1845.3 1499.5C1844.1 1499.3 1842.7 1498.3 1842.2 1497.4C1841.7 1496.5 1841.3 1495.1 1842.2 1494.2Z"/><path fill="#b21a12" d="M1847.5 1506.9C1848 1506.1 1850.1 1505.7 1851.7 1505.3C1853.3 1505 1855.5 1504.5 1856.9 1504.8C1858.3 1505 1859.9 1505.9 1860.1 1506.9C1860.3 1507.9 1859.2 1509.9 1858 1510.6C1856.8 1511.3 1854.3 1511.2 1852.7 1511.1C1851.1 1511 1849.4 1510.8 1848.5 1510.1C1847.6 1509.4 1846.9 1507.7 1847.5 1506.9Z"/><path fill="#b21a12" d="M1834.3 1516.4C1834.5 1515.8 1836 1515.2 1836.9 1515.3C1837.8 1515.4 1839.2 1516.3 1839.5 1516.9C1839.9 1517.5 1839.6 1518.7 1839 1519C1838.4 1519.4 1836.7 1519.5 1835.9 1519C1835.1 1518.6 1834.1 1517 1834.3 1516.4Z"/><path fill="#b21a12" d="M1847 1493.4C1847.6 1492.3 1849.2 1491.4 1850.5 1490.7C1851.8 1490.1 1853.6 1489.6 1854.9 1489.4C1856.2 1489.3 1857.8 1489.2 1858.4 1489.9C1859.1 1490.5 1859.1 1492.3 1858.9 1493.4C1858.6 1494.4 1857.6 1495.3 1856.7 1496C1855.7 1496.7 1854.3 1497.3 1853.1 1497.8C1852 1498.2 1850.7 1498.8 1849.6 1498.6C1848.6 1498.5 1847.4 1497.8 1847 1496.9C1846.6 1496 1846.4 1494.4 1847 1493.4Z"/><path fill="#b21a12" d="M1847 1506.5C1847.6 1505.7 1849 1505.5 1850.5 1505.2C1852 1504.9 1854.2 1504.6 1855.8 1504.8C1857.3 1505 1859.1 1505.8 1859.7 1506.5C1860.3 1507.3 1860 1508.5 1859.3 1509.2C1858.6 1509.9 1857.1 1510.6 1855.8 1510.9C1854.5 1511.2 1852.9 1511.1 1851.4 1510.9C1849.9 1510.8 1847.7 1510.8 1847 1510.1C1846.3 1509.3 1846.4 1507.4 1847 1506.5Z"/><ellipse fill="#f3a7a6" cx="1817.4" cy="1511.9" rx="1.8" ry="1.8"/><ellipse fill="#f3a7a6" cx="1787.9" cy="1522.2" rx="1.6" ry="1.6"/><ellipse fill="#f3a7a6" cx="1813.5" cy="1524.3" rx="1.4" ry="1.4"/><ellipse fill="#f3a7a6" cx="1834.3" cy="1509.8" rx="0.8" ry="0.8"/><ellipse fill="#f3a7a6" cx="1849" cy="1486.3" rx="0.8" ry="0.8"/><ellipse fill="#fb1d0f" cx="1817.4" cy="1511.9" rx="0.7" ry="0.7"/><path fill="#f3a7a6" d="M1869 1485.5C1869.4 1484.2 1870.6 1483.6 1871.6 1483.3C1872.6 1483 1874.2 1483.2 1875.1 1483.7C1876 1484.2 1877.1 1485.3 1876.9 1486.3C1876.6 1487.4 1874.6 1488.7 1873.8 1489.9C1873 1491 1872.7 1492.5 1872 1493.4C1871.4 1494.3 1870.5 1495.6 1870 1495.1C1869.5 1494.7 1869.1 1492.3 1869 1490.7C1868.8 1489.1 1868.5 1486.7 1869 1485.5Z"/><ellipse fill="#aaaaff" cx="1753.9" cy="1543.6" rx="6.1" ry="4.2"/><path fill="#aaaaff" d="M1914.6 1488.1C1914.8 1487.8 1916.1 1489.3 1917.3 1489.9C1918.4 1490.4 1920.3 1491.5 1921.7 1491.6C1923 1491.8 1924.3 1490.2 1925.2 1490.7C1926 1491.3 1926.2 1493.8 1926.9 1495.1C1927.7 1496.4 1928.5 1497.6 1929.6 1498.6C1930.6 1499.7 1931.9 1500.4 1933.1 1501.3C1934.2 1502.2 1935.6 1502.6 1936.6 1503.9C1937.5 1505.2 1938.1 1507.4 1938.8 1509.2C1939.4 1510.9 1940.6 1513.6 1940.5 1514.5C1940.5 1515.3 1939.1 1515 1938.3 1514.5C1937.5 1513.9 1936.7 1512 1935.7 1510.9C1934.7 1509.9 1933.4 1508.9 1932.2 1508.3C1931 1507.7 1929.9 1507.5 1928.7 1507.4C1927.5 1507.4 1926.2 1508.2 1925.2 1507.9C1924.1 1507.6 1923.3 1506.6 1922.5 1505.7C1921.8 1504.7 1920.9 1503.3 1920.8 1502.2C1920.6 1501 1921.9 1499.8 1921.7 1498.6C1921.4 1497.5 1919.9 1496.3 1919 1495.1C1918.1 1494 1917.1 1492.8 1916.4 1491.6C1915.7 1490.4 1914.5 1488.4 1914.6 1488.1Z"/><path fill="#1c08fa" d="M1915.5 1482.8C1915.7 1481.6 1916.5 1479.6 1917.3 1478.9C1918 1478.2 1919 1477.8 1919.9 1478.4C1920.8 1479.1 1921.8 1481.4 1922.5 1482.8C1923.3 1484.3 1924.3 1485.9 1924.5 1487.2C1924.6 1488.5 1924.2 1490 1923.6 1490.7C1923 1491.5 1921.7 1491.9 1920.8 1491.8C1919.9 1491.6 1918.9 1490.8 1918.1 1489.9C1917.4 1489 1916.8 1487.5 1916.4 1486.3C1915.9 1485.2 1915.4 1484.1 1915.5 1482.8Z"/><ellipse fill="#1c08fa" cx="1936.6" cy="1507" rx="1.8" ry="3"/><ellipse fill="#1c08fa" cx="1930.9" cy="1502.2" rx="0.7" ry="0.7"/><ellipse fill="#1a0c9c" cx="1937" cy="1507.4" rx="0.8" ry="1.9"/><ellipse fill="#1a0c9c" cx="1921.2" cy="1488.5" rx="1.6" ry="0.7"/><path fill="#aaaaff" d="M1897.5 1536.4C1897.6 1535.2 1898.6 1533.8 1899.7 1532.9C1900.8 1532 1902.5 1531.6 1904.1 1531.1C1905.7 1530.7 1907.7 1530.6 1909.4 1530.3C1911 1530 1912.1 1529.5 1913.7 1529.4C1915.4 1529.3 1917.4 1529.4 1919 1529.8C1920.6 1530.3 1921.9 1531.7 1923.4 1532C1924.9 1532.4 1926.5 1532.3 1927.8 1532C1929.1 1531.7 1930.3 1530.3 1931.3 1530.3C1932.3 1530.3 1933.1 1531.1 1933.9 1532C1934.8 1532.9 1936 1534.5 1936.6 1535.5C1937.2 1536.6 1937.8 1537.3 1937.5 1538.2C1937.2 1539 1935.9 1540.2 1934.8 1540.8C1933.8 1541.4 1932.3 1541.1 1931.3 1541.7C1930.3 1542.3 1929.4 1543.3 1928.7 1544.3C1927.9 1545.3 1927.4 1546.7 1926.9 1547.8C1926.5 1549 1926.5 1550.2 1926 1551.3C1925.6 1552.5 1924.6 1553.7 1924.3 1554.9C1924 1556 1924.1 1557 1924.3 1558.4C1924.4 1559.7 1924.7 1561.3 1925.2 1562.8C1925.6 1564.2 1926.6 1565.7 1926.9 1567.1C1927.3 1568.6 1927.1 1570.4 1927.4 1571.5C1927.7 1572.7 1928.8 1573.4 1928.7 1574.2C1928.6 1575 1927.8 1576.1 1926.9 1576.4C1926 1576.7 1924.6 1576.3 1923.4 1575.9C1922.2 1575.6 1920.6 1574.9 1919.9 1574.2C1919.2 1573.4 1919 1572.4 1919 1571.5C1919 1570.7 1920 1569.9 1919.9 1568.9C1919.8 1567.9 1918.7 1566.6 1918.1 1565.4C1917.6 1564.2 1917.3 1562.9 1916.4 1561.9C1915.5 1560.9 1914.2 1560 1912.9 1559.2C1911.6 1558.5 1909.8 1558.2 1908.5 1557.5C1907.2 1556.8 1905.8 1556 1905 1554.9C1904.2 1553.7 1903.9 1551.9 1903.6 1550.5C1903.4 1549 1903.6 1547.4 1903.2 1546.1C1902.8 1544.8 1902.2 1543.6 1901.5 1542.6C1900.7 1541.5 1899.5 1540.9 1898.8 1539.9C1898.2 1538.9 1897.4 1537.6 1897.5 1536.4Z"/><path fill="#1c08fa" d="M1907.2 1536.8C1907.5 1536.1 1908.5 1535.8 1909.4 1535.5C1910.2 1535.2 1911.8 1534.7 1912.4 1535.1C1913.1 1535.5 1912.9 1537.1 1913.3 1538.2C1913.7 1539.3 1914 1540.7 1914.6 1541.7C1915.3 1542.7 1916.4 1543.3 1917.3 1544.3C1918.1 1545.3 1919.3 1546.8 1919.9 1547.8C1920.5 1548.9 1921.2 1549.9 1920.8 1550.5C1920.3 1551 1918.4 1551.2 1917.3 1551.3C1916.1 1551.5 1914.6 1551.8 1913.7 1551.3C1912.9 1550.9 1912.4 1549.6 1912 1548.7C1911.6 1547.8 1911.7 1546.9 1911.1 1546.1C1910.5 1545.2 1909.1 1544.5 1908.5 1543.4C1907.9 1542.4 1907.8 1541 1907.6 1539.9C1907.4 1538.8 1906.9 1537.6 1907.2 1536.8Z"/><ellipse fill="#1c08fa" cx="1908.5" cy="1549.4" rx="1.2" ry="0.9"/><path fill="#aaaaff" d="M1940.1 1528.5C1940.2 1527.3 1941.1 1526 1941.9 1525.9C1942.6 1525.7 1943.5 1526.7 1944.5 1527.6C1945.5 1528.5 1946.7 1530 1948 1531.1C1949.3 1532.3 1951.1 1533.6 1952.4 1534.7C1953.7 1535.7 1955.2 1536.4 1955.9 1537.3C1956.6 1538.2 1956.9 1539.3 1956.3 1539.9C1955.8 1540.5 1953.8 1540.9 1952.4 1541C1951 1541 1949.5 1540.7 1948 1540.1C1946.5 1539.5 1944.8 1538.7 1943.6 1537.5C1942.4 1536.3 1941.6 1534.4 1941 1532.9C1940.4 1531.4 1940 1529.7 1940.1 1528.5Z"/><path fill="#1c08fa" d="M1941.4 1528.1C1941.5 1527.2 1942.2 1526.4 1942.9 1526.6C1943.6 1526.8 1944.7 1528.3 1945.8 1529.4C1946.9 1530.4 1948.2 1531.9 1949.3 1532.9C1950.4 1533.8 1952.1 1534.3 1952.4 1535.1C1952.7 1535.9 1952.1 1537 1951.3 1537.5C1950.6 1537.9 1949.1 1538.1 1948 1537.8C1946.9 1537.5 1945.4 1536.5 1944.5 1535.5C1943.5 1534.6 1942.8 1533.3 1942.3 1532C1941.8 1530.8 1941.3 1529 1941.4 1528.1Z"/><path fill="#1a0c9c" d="M1944 1529.4C1944.4 1529.2 1946 1530.7 1947.1 1531.6C1948.3 1532.5 1950.6 1533.9 1951.1 1534.7C1951.6 1535.4 1950.9 1536.1 1950.2 1536.2C1949.5 1536.4 1948 1535.9 1947.1 1535.4C1946.2 1534.8 1945.4 1533.9 1944.9 1532.9C1944.4 1531.9 1943.7 1529.6 1944 1529.4Z"/><ellipse fill="#1c08fa" cx="1961.2" cy="1542.6" rx="1.2" ry="0.9"/><path fill="#fb1d0f" d="M1924.3 1520.2C1924.7 1519.6 1927.2 1520.1 1928.7 1519.7C1930.1 1519.4 1931.6 1518.2 1933.1 1518C1934.5 1517.7 1936.1 1518 1937.5 1518.4C1938.8 1518.8 1940.2 1519.8 1941 1520.6C1941.8 1521.4 1942.4 1522.4 1942.3 1523.2C1942.1 1524.1 1940.9 1525.1 1940.1 1525.9C1939.3 1526.6 1938.2 1527.6 1937.5 1527.6C1936.7 1527.6 1936.7 1526.3 1935.7 1525.9C1934.7 1525.4 1932.6 1525 1931.3 1525C1930 1525 1928.7 1526.2 1927.8 1525.9C1926.9 1525.6 1926.6 1524.2 1926 1523.2C1925.5 1522.3 1923.8 1520.7 1924.3 1520.2Z"/><ellipse fill="#b21a12" cx="1940.3" cy="1521.7" rx="1.2" ry="1.6"/><ellipse fill="#fb1d0f" cx="1932.6" cy="1548.3" rx="1.2" ry="1.2"/><ellipse fill="#fb1d0f" cx="1938.6" cy="1559.7" rx="1.4" ry="0.9"/><ellipse fill="#fb1d0f" cx="1915.1" cy="1516.2" rx="0.7" ry="0.7"/><ellipse fill="#fb1d0f" cx="1962.5" cy="1548.7" rx="0.9" ry="1.2"/><path fill="#fb1d0f" d="M1949.8 1548.3C1950.1 1547.7 1952.1 1547.7 1953.3 1547.8C1954.4 1548 1955.8 1548.9 1956.8 1549.1C1957.7 1549.4 1958.8 1549.1 1959 1549.6C1959.1 1550.1 1958.3 1551.7 1957.7 1552.2C1957 1552.7 1956.1 1552.8 1955 1552.7C1954 1552.5 1952.4 1552.1 1951.5 1551.3C1950.6 1550.6 1949.5 1548.9 1949.8 1548.3Z"/><path fill="#fb1d0f" d="M1974.3 1547.8C1967.3 1550.8 1967.5 1551.2 1965.6 1552.2C1963.7 1553.2 1964 1553.4 1962.9 1554C1961.9 1554.6 1960.7 1555.3 1959.4 1555.7C1958.1 1556.2 1956.3 1556 1955 1556.6C1953.7 1557.2 1952.2 1558.2 1951.5 1559.2C1950.8 1560.3 1950.6 1561.6 1950.6 1562.8C1950.7 1563.9 1951.8 1565.1 1952 1566.3C1952.1 1567.4 1952 1569 1951.5 1569.8C1951 1570.6 1949.8 1571.1 1948.9 1571.1C1948 1571.1 1946.7 1570.6 1946.2 1569.8C1945.8 1569 1946.4 1567.3 1946.2 1566.3C1946.1 1565.2 1945.8 1563.9 1945.4 1563.6C1944.9 1563.3 1944 1563.8 1943.6 1564.5C1943.2 1565.2 1943 1566.9 1943.2 1568C1943.3 1569.2 1944 1570.4 1944.5 1571.5C1945 1572.7 1946.1 1573.9 1946.2 1575.1C1946.4 1576.2 1945.8 1577.4 1945.4 1578.6C1944.9 1579.7 1943.8 1581.2 1943.6 1582.1C1943.4 1583 1943.9 1582.9 1944.2 1583.8C1944.4 1584.8 1944.9 1586.4 1944.9 1587.6C1945 1588.9 1944.7 1590.2 1944.5 1591.5C1944.4 1592.7 1944 1594 1944.2 1595.3C1944.3 1596.6 1944.9 1597.8 1945.3 1599.1C1945.7 1600.4 1946.4 1601.7 1946.4 1602.9C1946.5 1604.2 1945.9 1605.5 1945.7 1606.8C1945.4 1608 1945.1 1609.3 1944.9 1610.6C1944.7 1611.9 1944.4 1613.1 1944.5 1614.4C1944.7 1615.7 1945.4 1617 1945.7 1618.2C1946 1619.5 1946.2 1620.8 1946.4 1622.1C1946.7 1623.3 1946.8 1624.6 1947.2 1625.9C1947.6 1627.2 1948.2 1628.4 1948.7 1629.7C1949.3 1631 1949.8 1632.4 1950.3 1633.5C1950.8 1634.7 1951.8 1635.6 1951.8 1636.6C1951.8 1637.6 1951 1638.9 1950.3 1639.7C1949.5 1640.4 1948.1 1640.6 1947.2 1641.2C1946.3 1641.8 1945.7 1642.7 1944.9 1643.5C1944.2 1644.3 1943.4 1645 1942.6 1645.8C1941.9 1646.6 1941.1 1647.3 1940.3 1648.1C1939.6 1648.8 1938.9 1649.6 1938 1650.4C1937.1 1651.1 1936 1652 1935 1652.7C1934 1653.4 1932.6 1654.1 1931.9 1654.6C1931.3 1655.1 1930.9 1655.2 1931.1 1655.7C1931.4 1656.3 1932.7 1657.3 1933.4 1658C1934.2 1658.8 1934.8 1659.9 1935.7 1660.3C1936.6 1660.7 1937.8 1660.4 1938.8 1660.3C1939.8 1660.3 1940.8 1659.8 1941.9 1659.9C1942.9 1660.1 1943.9 1660.6 1944.9 1661.1C1945.9 1661.5 1947.1 1662 1948 1662.6C1948.9 1663.3 1949.6 1664.1 1950.3 1664.9C1951 1665.7 1950.3 1665.4 1952.2 1667.2C1954.1 1669 1952.5 1677.4 1961.7 1675.6C1971 1673.8 2000 1680.1 2007.6 1656.5C2015.3 1632.9 2013.2 1552.2 2007.6 1534.1C2002.1 1516 1981.4 1544.8 1974.3 1547.8Z"/><path fill="#b21a12" d="M1971.5 1555.8C1971.2 1556.8 1973.4 1556.7 1973.9 1557.6C1974.4 1558.4 1974.2 1559.9 1974.5 1561.1C1974.8 1562.3 1975 1563.7 1975.6 1564.6C1976.3 1565.5 1977.6 1565.8 1978.6 1566.4C1979.5 1566.9 1980.8 1567.4 1981.5 1568.1C1982.2 1568.8 1982.8 1569.6 1982.7 1570.5C1982.6 1571.3 1981.4 1572.4 1980.9 1573.4C1980.4 1574.4 1979.8 1575.1 1979.7 1576.3C1979.6 1577.5 1980.4 1579.1 1980.3 1580.4C1980.2 1581.7 1979.5 1582.9 1979.2 1583.9C1978.8 1584.9 1978.5 1586 1978 1586.3C1977.5 1586.6 1976.7 1586.2 1976.2 1585.7C1975.7 1585.2 1975.6 1584 1975.1 1583.3C1974.5 1582.7 1973.3 1582.2 1972.7 1581.6C1972.1 1581 1971.8 1580.5 1971.5 1579.8C1971.2 1579.1 1971.1 1578.4 1971 1577.5C1970.8 1576.6 1970.8 1575.4 1970.4 1574.6C1970 1573.7 1969.4 1572.9 1968.6 1572.5C1967.8 1572.1 1966.4 1571.9 1965.7 1572.2C1964.9 1572.6 1964.4 1573.7 1964.2 1574.6C1964.1 1575.4 1964.8 1576.5 1964.8 1577.5C1964.9 1578.5 1964.4 1579.5 1964.5 1580.4C1964.7 1581.3 1965.2 1582.2 1965.7 1582.8C1966.2 1583.3 1966.9 1584 1967.4 1583.9C1968 1583.8 1968.7 1582.3 1969.2 1582.2C1969.7 1582.1 1970.3 1582.7 1970.4 1583.3C1970.5 1584 1970.4 1585.4 1969.8 1586.3C1969.2 1587.1 1967.1 1587.8 1966.9 1588.6C1966.6 1589.4 1967.4 1590.3 1968 1591C1968.6 1591.6 1969.6 1592.3 1970.4 1592.7C1971.1 1593.1 1971.9 1593 1972.7 1593.3C1973.5 1593.6 1974.8 1593.8 1975.1 1594.5C1975.3 1595.1 1975 1596.7 1974.5 1597.4C1974 1598.1 1973.1 1598.2 1972.1 1598.6C1971.1 1599 1969.4 1599.2 1968.6 1599.7C1967.8 1600.3 1967.5 1601.3 1967.4 1602.1C1967.3 1602.9 1968 1603.7 1968 1604.4C1968 1605.1 1967.1 1605.7 1967.4 1606.2C1967.7 1606.7 1969.1 1606.9 1969.8 1607.3C1970.5 1607.8 1970.9 1608.7 1971.5 1609.1C1972.2 1609.5 1973.1 1609.4 1973.9 1609.7C1974.7 1610 1975.7 1610.2 1976.2 1610.9C1976.7 1611.5 1976.6 1612.9 1976.8 1613.8C1977 1614.7 1977.5 1615.4 1977.4 1616.1C1977.3 1616.9 1976 1617.9 1976.2 1618.5C1976.4 1619.1 1977.9 1619.1 1978.6 1619.6C1979.2 1620.2 1979.7 1621.2 1980.3 1622C1980.9 1622.8 1981.4 1624.1 1982.1 1624.3C1982.8 1624.5 1983.6 1623.7 1984.4 1623.2C1985.2 1622.7 1985.8 1621.8 1986.8 1621.4C1987.7 1621 1987.7 1621.7 1990.3 1620.8C1992.8 1619.9 1999.6 1620.8 2002 1616.1C2004.4 1611.4 2005.4 1600.5 2004.9 1592.7C2004.4 1584.9 2002.5 1575.1 1999.1 1569.3C1995.6 1563.4 1988.3 1560.5 1984.4 1557.6C1980.5 1554.6 1977.8 1552 1975.6 1551.7C1973.5 1551.4 1971.8 1554.8 1971.5 1555.8Z"/><path fill="#fb1d0f" d="M1980.9 1577.5C1981.1 1576.7 1982.6 1575.4 1983.3 1575.1C1983.9 1574.8 1984.3 1575.2 1985 1575.7C1985.7 1576.2 1987.3 1577.2 1987.3 1578.1C1987.4 1578.9 1986.2 1580.4 1985.6 1581C1985 1581.6 1984.4 1581.8 1983.8 1581.6C1983.3 1581.4 1982.6 1580.5 1982.1 1579.8C1981.6 1579.1 1980.7 1578.3 1980.9 1577.5Z"/><path fill="#7a140e" d="M1987.3 1598.6C1987.6 1597.8 1988.9 1597 1989.1 1596.2C1989.3 1595.4 1988.3 1594.5 1988.5 1593.9C1988.7 1593.3 1989.5 1592.5 1990.3 1592.7C1991.1 1592.9 1991.7 1595.1 1993.2 1595.1C1994.7 1595.1 1998.1 1589.2 1999.1 1592.7C2000 1596.2 2000.5 1611.6 1999.1 1616.1C1997.6 1620.6 1992 1619 1990.3 1619.6C1988.5 1620.3 1989.2 1619.5 1988.5 1619.8C1987.8 1620.1 1986.9 1621.3 1986.2 1621.5C1985.5 1621.7 1984.4 1621.5 1984.4 1620.8C1984.4 1620.1 1985.8 1618.6 1986.2 1617.3C1986.6 1616 1986.8 1614.6 1986.8 1613.2C1986.8 1611.8 1986.2 1610.6 1986.2 1609.1C1986.2 1607.6 1986.6 1605.8 1986.8 1604.4C1987 1603.1 1987.3 1601.9 1987.3 1600.9C1987.4 1599.9 1987.1 1599.3 1987.3 1598.6Z"/><path fill="#b21a12" d="M1960.4 1584.2C1960.6 1584.1 1961.7 1584.5 1962.2 1584.8C1962.6 1585.1 1963.2 1586.1 1963 1586.3C1962.9 1586.4 1961.4 1586 1961 1585.7C1960.6 1585.3 1960.2 1584.4 1960.4 1584.2Z"/><path fill="#b21a12" d="M1964.2 1615.5C1964.5 1615.3 1965.6 1615 1966.3 1615C1966.9 1614.9 1968 1615 1968 1615.3C1968 1615.5 1966.9 1616.2 1966.3 1616.4C1965.7 1616.7 1964.9 1616.9 1964.5 1616.7C1964.2 1616.6 1963.9 1615.8 1964.2 1615.5Z"/><path fill="#b21a12" d="M1973.9 1631.4C1974.2 1630.4 1974.9 1630.2 1975.1 1630.8C1975.2 1631.4 1974.5 1633.6 1974.6 1634.9C1974.7 1636.1 1975.7 1637.4 1975.6 1638.4C1975.6 1639.4 1974.9 1641 1974.5 1640.7C1974.1 1640.4 1973.4 1638.2 1973.3 1636.6C1973.2 1635.1 1973.6 1632.3 1973.9 1631.4Z"/><ellipse fill="#f3a7a6" cx="1946.6" cy="1575.4" rx="0.7" ry="0.7"/><ellipse fill="#b21a12" cx="1961.4" cy="1644.3" rx="0.8" ry="2.3"/><ellipse fill="#b21a12" cx="1949.5" cy="1654.6" rx="2.3" ry="0.8"/><ellipse fill="#f3a7a6" cx="1962.1" cy="1654.2" rx="1.7" ry="1.5"/><path fill="#fb1d0f" d="M1891.8 1613.7C1891.9 1612.4 1892.4 1611.4 1892.9 1610.6C1893.4 1609.8 1894.2 1609.1 1894.8 1608.7C1895.4 1608.2 1896.7 1607.6 1896.7 1607.9C1896.8 1608.2 1895.7 1609.6 1895.2 1610.6C1894.7 1611.6 1894.1 1612.5 1893.8 1613.7C1893.5 1614.8 1893.6 1616.3 1893.4 1617.5C1893.3 1618.6 1893.3 1620.4 1893.1 1620.5C1892.8 1620.7 1892.1 1619.4 1891.9 1618.2C1891.7 1617.1 1891.6 1614.9 1891.8 1613.7Z"/><path fill="#fb1d0f" d="M1892 1633.5C1892.2 1633.3 1893.2 1634.3 1893.7 1635.1C1894.2 1635.8 1894.8 1637 1895 1638.1C1895.1 1639.3 1894.9 1641.2 1894.6 1642C1894.2 1642.8 1893.1 1643.3 1892.9 1642.9C1892.7 1642.5 1893.5 1640.7 1893.4 1639.7C1893.4 1638.6 1892.8 1637.6 1892.5 1636.6C1892.3 1635.6 1891.8 1633.8 1892 1633.5Z"/><ellipse fill="#fb1d0f" cx="1889.5" cy="1628.6" rx="0.6" ry="0.6"/><ellipse fill="#fb1d0f" cx="1880.7" cy="1647.7" rx="1.7" ry="0.5"/><path fill="#fb1d0f" d="M1932.7 1679.4C1937.8 1675.4 1958.2 1675.4 1963.3 1679.4C1968.4 1683.5 1968.4 1699.8 1963.3 1703.9C1958.2 1708 1937.8 1708 1932.7 1703.9C1927.6 1699.8 1927.6 1683.5 1932.7 1679.4Z"/><path fill="#f3a7a6" d="M1932.7 1681C1933.4 1680 1936 1682.1 1937.3 1682.9C1938.5 1683.7 1939.3 1684.7 1940.3 1685.6C1941.3 1686.4 1942.4 1687 1943.4 1687.9C1944.4 1688.8 1945.5 1689.9 1946.4 1690.9C1947.4 1691.9 1948.4 1693 1949.1 1694C1949.8 1695 1950.5 1696 1950.7 1697C1950.8 1698.1 1950.6 1699.6 1949.9 1700.5C1949.2 1701.4 1948.3 1702.6 1946.4 1702.4C1944.6 1702.2 1941.1 1701.6 1938.8 1699.3C1936.5 1697 1933.7 1691.7 1932.7 1688.6C1931.7 1685.6 1931.9 1681.9 1932.7 1681Z"/><path fill="#aaaaff" d="M1936.1 1687.1C1936.7 1686.5 1938.5 1685.8 1939.6 1686C1940.6 1686.1 1941.7 1687.2 1942.6 1687.9C1943.5 1688.6 1944.2 1689.3 1944.9 1690.2C1945.7 1691.1 1946.7 1692.2 1947.2 1693.2C1947.7 1694.2 1948.1 1695.4 1948.1 1696.3C1948.2 1697.2 1947.9 1698.4 1947.4 1698.7C1946.8 1699.1 1945.7 1698.7 1944.9 1698.4C1944.1 1698.2 1943.4 1697.8 1942.6 1697.2C1941.9 1696.6 1941.1 1695.8 1940.3 1694.9C1939.6 1694 1938.7 1692.7 1938 1691.8C1937.3 1690.9 1936.4 1690.3 1936.1 1689.5C1935.8 1688.8 1935.5 1687.7 1936.1 1687.1Z"/><path fill="#1c08fa" d="M1935 1687.1C1935.6 1686.7 1938.4 1686.5 1939.6 1686.7C1940.8 1687 1941.4 1687.9 1942.2 1688.6C1943.1 1689.3 1944 1690 1944.5 1690.9C1945.1 1691.8 1945.6 1693 1945.7 1694C1945.7 1694.9 1945.4 1696.2 1944.9 1696.7C1944.4 1697.1 1943.4 1697.2 1942.6 1696.8C1941.9 1696.5 1941 1695.3 1940.3 1694.5C1939.6 1693.7 1939.2 1692.7 1938.4 1691.8C1937.7 1691 1936.3 1690.2 1935.7 1689.4C1935.2 1688.6 1934.3 1687.5 1935 1687.1Z"/><path fill="#1a0c9c" d="M1938.8 1688.6C1939.1 1688.2 1940.3 1688.2 1941.1 1688.6C1941.9 1689 1942.9 1690 1943.4 1690.9C1943.9 1691.8 1944.3 1693.2 1944.2 1694C1944 1694.7 1943.2 1695.6 1942.6 1695.5C1942.1 1695.4 1941.3 1694 1940.7 1693.2C1940.1 1692.5 1939.5 1691.7 1939.2 1690.9C1938.9 1690.2 1938.5 1689 1938.8 1688.6Z"/><ellipse fill="#f3a7a6" cx="1953" cy="1689.5" rx="1.2" ry="1.5"/><ellipse fill="#f3a7a6" cx="1950.4" cy="1694.1" rx="0.8" ry="0.9"/></g>
<g fill="none" stroke="#000" stroke-width="2.4" stroke-linejoin="round" stroke-linecap="round"><path d="M1717.6 1584.9L1716.9 1583.4L1716.4 1581.7L1715.2 1580.5L1714.4 1579L1713.7 1577.5L1712.9 1575.9L1714.4 1576.9L1716 1577.7L1717.7 1578.5L1719.6 1578.3L1721.2 1579.3L1720.5 1578L1720.8 1576.5L1720.1 1575.2L1719 1574.1L1719.1 1572.4L1718.3 1571.1L1717.5 1569.8L1716.8 1568.5L1715.9 1567.2L1715.6 1565.6L1716.1 1564L1716.7 1562.2L1717.9 1560.8L1717.9 1559.5L1717.8 1558.1L1718.4 1556.8L1717.6 1555.2L1718.6 1553.7L1718.9 1552L1719.8 1551.1L1720.5 1550L1720.9 1551.9L1721.6 1553.6L1722.6 1552.5L1724.1 1552.1L1725 1551L1726.4 1550.4L1727.6 1549.6L1728.8 1548.7L1730.1 1547.6L1731.4 1546.8L1732.8 1545.8L1734.2 1545.4L1735.2 1544.3L1736.7 1543.9L1737.7 1542.7L1739.5 1542.6L1740.8 1541.7L1742.7 1541.7L1744 1542.7L1745.6 1542.5L1746.8 1541.4L1748.2 1541L1749.4 1540.1L1750.6 1539.3L1752.2 1539.2L1753.6 1538.8L1754.7 1537.6L1756.1 1537L1757.5 1537.1L1758.8 1537.8L1760.2 1537.5L1761.6 1536.6L1763.3 1536.2L1764.9 1535.8L1766.1 1535L1767.7 1535.2L1768.9 1534.2L1770.4 1533L1771.7 1531.5L1772.2 1530L1773.3 1528.7L1773.7 1527L1775.1 1526.3L1776 1525L1777.1 1524.1L1778.1 1523.2L1777.4 1522L1777.2 1520.7L1777.2 1519.1L1776.8 1517.5L1778 1516.8L1778.5 1515.4L1779.9 1514.2L1781.4 1513.3L1783.3 1513.5L1784.2 1515L1784 1516.9L1785.6 1517.7L1786.5 1519.1L1787.7 1517.6L1788.1 1515.9L1787.5 1514.7L1786.7 1513.4L1786.6 1511.7L1788 1511.7L1789.2 1511.1L1790.6 1511.2L1792 1511.2L1793.3 1511.6L1794.8 1511.8L1793.8 1510.3L1793.1 1508.7L1793.6 1507.1L1793.4 1505.3L1794.8 1505L1796.4 1505.2L1797.5 1504.3L1798.1 1503.1L1797.7 1501.5L1797.9 1500L1799.6 1499.7L1800.9 1498.6L1802.6 1497.8L1803.5 1496.5L1805.1 1496.2L1806.6 1495.8L1807.8 1494.4L1809.6 1493.3L1810.7 1494.5L1812.4 1494.6L1813.2 1495.8L1814.6 1496.4L1815.3 1497.6L1816.2 1498.6L1817.2 1499.5L1818 1500.6L1818.1 1502.5L1818.5 1504.2L1819.2 1502.8L1820.3 1501.5L1821.9 1501.6L1823.5 1501.1L1825.2 1501.9L1826.8 1503.3L1828 1502L1829.3 1501.6L1828.5 1500L1827.9 1498.3L1828.1 1496.5L1829 1495L1829.8 1493.7L1830.8 1492.4L1831.3 1491L1832.2 1489.4L1833.3 1488L1834.7 1486.8L1835.6 1485.1L1836.7 1484.4L1837.7 1483.5L1838.6 1482.7L1837.5 1481.7L1837.1 1480.5L1835.6 1479.7L1833.9 1479.8L1832.5 1479.9L1832.3 1478.4L1833.2 1477.2L1833.5 1475.8L1835.2 1476.8L1837.1 1477.3L1838.8 1477.7L1840.3 1476.8L1842 1476.5L1843.6 1476.2L1845.2 1475.6L1846.5 1475.2L1847.9 1474.8L1849 1474.3L1849.6 1476L1850.8 1477.4L1851.5 1477.5L1852.7 1478.6L1854 1479.4L1855.6 1479.8L1856.8 1480.6L1858.1 1481.2L1859.6 1481.5L1860.9 1481.4L1862.2 1481.1L1863.6 1481.1L1864.9 1481.7L1866.4 1481.7L1867.6 1482.7L1869.4 1482.3L1870.9 1481.2L1872 1480.4L1872.9 1479.3L1874.1 1478.7L1875.1 1477.7L1876 1476.6L1877.2 1475.8L1877.5 1474.5L1878.5 1473.8L1878.8 1475.1L1878 1476.2L1877.2 1477.7L1876.4 1479.2L1875.6 1481.5L1876.8 1482.2L1878 1483L1879 1483.6L1878.8 1485.1L1878.2 1486.4L1877.4 1487.6L1876.4 1488.6L1874.9 1489.5L1873.4 1489.9L1871.8 1491.9L1872.3 1493.5L1872.8 1495.1L1871.5 1496.5L1870.9 1498.3L1869.7 1499.4L1868.9 1500.6L1870 1502.7L1871.2 1503.8L1872.5 1504.6L1873.9 1505.3L1875.7 1506L1877.2 1507.1L1878.9 1507.3L1880.5 1507.8L1881.5 1508.7L1882.4 1509.8L1883.5 1510.4L1884.6 1511.3L1885.5 1512.3L1886.9 1512.6L1888.6 1513.2L1890.1 1514.3L1891.5 1514.5L1892.8 1514.8L1894 1515.5L1895.4 1514.2L1896.5 1512.7L1897.7 1512.9L1898.7 1513.4L1897.7 1514.3L1897.3 1515.7L1896.6 1516.6L1897.7 1517.7L1898 1519.3L1899.6 1519.4L1900.6 1520.6L1902.1 1521.2L1903.6 1520.5L1905.4 1520.4L1906.1 1518.6L1907.5 1517.4L1908.3 1516.2L1908.6 1514.6L1909.9 1513.6L1910 1511.8L1910.4 1510.2L1911.1 1508.7L1911.7 1507.1L1911.8 1505.5L1912.2 1503.9L1912.3 1502.3L1912.4 1500.7L1912.3 1499L1912 1497.4L1911.3 1495.9L1911.3 1494.3L1911.3 1492.6L1911.4 1491L1912.1 1489.5L1912.6 1487.9L1912.3 1486.2L1912.8 1484.6L1913.6 1483L1914.6 1481.5L1914.9 1479.8L1915.4 1478.3L1915.8 1476.7L1916 1474.8L1916.6 1473.1L1918 1472.4L1919.4 1472.9L1919.9 1474.3L1920.3 1475.6L1921.3 1476.8L1921.3 1478.2L1922 1479.9L1922.7 1481.5L1923.6 1482.7L1923.9 1484.1L1924.3 1485.5L1924.6 1487.1L1924.9 1488.8L1925.8 1490.3L1925.7 1491.6L1926.3 1492.9L1926 1494.3L1926.4 1496.2L1927.3 1497.9L1928.8 1497.9L1930.1 1497.3L1932 1496.8L1933.2 1498.2L1934.8 1499.3L1936.3 1500.3L1937.6 1501.5L1938.1 1502.8L1937.6 1504.2L1938 1505.5L1938.6 1506.8L1939.1 1508.1L1939 1509.5L1939.3 1511.1L1939.7 1512.8L1940.6 1513.8L1941.7 1514.6L1942 1516L1943.1 1517.1L1943 1518.7L1943.9 1519.9L1943.8 1521.3L1943.2 1522.6L1943.5 1523.9L1944.3 1525.4L1944.6 1527.1L1944.6 1528.6L1944.9 1530.1L1946.3 1530.9L1947.7 1531.8L1949.1 1532.1L1950.3 1533L1951.9 1533L1953.5 1533.9L1955 1535.2L1956.4 1535.6L1957.6 1536.7L1959 1537.2L1960.8 1538L1962.4 1538.8L1962.8 1540.2L1963.1 1541.5L1963.9 1542.9L1964.5 1544.5L1965.1 1546.4L1966.4 1547.9L1966.4 1549.6L1966.9 1551.1L1967.8 1552.4L1969 1553.1L1970.2 1553.5L1971.8 1553.2L1973.4 1552.8L1974.6 1554.1L1976.1 1555.2L1975.5 1556.6L1976.1 1557.9L1976.3 1559.2L1977 1561L1978.2 1562.5L1979.3 1563.4L1980.3 1564.4L1981.6 1565.1L1982.5 1566.2L1983.7 1567L1984.5 1568.2L1985.4 1569.4L1987 1570L1987.9 1571.2L1989.4 1572.4L1990.3 1574L1991.2 1573L1992 1571.8L1992.3 1570.4L1993.1 1571.6L1993.6 1572.9L1992.8 1574.4L1992 1575.9L1992.1 1577.6L1991.7 1579L1992.6 1580.3L1992.4 1581.6L1992.8 1583L1992.6 1584.4L1993.2 1585.7L1993.6 1587.2L1993.8 1588.9L1994.5 1590.4L1994.5 1592.2L1995.3 1593.7L1995.2 1595L1995.6 1596.3L1995.6 1597.8L1995.1 1599L1994.8 1600.4L1994.4 1601.7L1994 1603.1L1993.5 1604.4L1993.3 1605.8L1993 1607.4L1992.2 1608.9L1991.8 1610.5L1991.6 1612.1L1991 1613.7L1991 1615.3L1990.2 1616.8L1990.3 1618.6L1989.4 1620.1L1988.4 1621.3L1987.5 1622.6L1987.1 1624.2L1986.1 1625.1L1984.7 1625.4L1984 1626.7L1982.7 1627.3L1982 1628.5L1981.6 1629.9L1980.9 1631.3L1979.7 1632.3L1979.2 1633.8L1978.6 1635.6L1977.2 1636.9L1976.7 1638.6L1975.6 1640.1L1975.4 1642L1974.3 1643.4L1973.3 1644.7L1973.1 1646.3L1972 1647.5L1971.4 1648.7L1970.9 1650L1970.8 1651.4L1971.1 1652.8L1970.5 1654.1L1970.1 1655.4L1970.2 1657L1970.2 1658.6L1969.2 1659.7L1967.9 1660.5L1966.3 1661L1964.6 1661.1L1963.3 1660.9L1962 1661L1960.6 1661L1959.3 1661.7L1958 1661.9L1956.7 1662L1954.8 1662.4L1953.3 1663.3L1952.1 1663.9L1951.5 1665.4L1950.3 1666.1L1948.3 1666.5L1947 1667.9L1945.8 1668.9L1944.9 1670.3L1943.6 1669.3L1942.2 1668.3L1941.3 1667.1L1940.6 1665.8L1939.1 1665.2L1938.2 1663.8L1936.7 1662.6L1935 1662L1933.8 1662.3L1932.5 1662.6L1931.4 1663.7L1930.3 1664.8L1929.2 1666.1L1927.7 1667.1L1926.8 1668.1L1925.4 1668.1L1924.1 1667.5L1922.7 1667L1921.4 1666.5L1920 1666L1918.6 1665.7L1917.3 1665L1916 1664.7L1914.8 1663.8L1913.3 1663.7L1912.2 1664.5L1911 1664.5L1909.4 1663.5L1907.7 1662.5L1906.5 1661.8L1905 1661.7L1903.8 1660.9L1902.7 1659.6L1901.4 1658.6L1900.7 1657.3L1899.8 1656.3L1900 1654.8L1900.6 1653.4L1899.3 1652.2L1898.8 1650.7L1897.6 1649.5L1896.2 1648.2L1896.5 1647L1896.9 1645.8L1896.2 1644.7L1895.3 1643.9L1893.7 1644L1892.4 1644.9L1890.9 1646L1889.2 1646.5L1887.4 1646.9L1885.6 1647.3L1887.6 1645.9L1889 1645.5L1889.7 1644.2L1890.4 1642.7L1891 1641L1890.8 1639.3L1889.7 1638.1L1888.8 1636.8L1887.5 1635.8L1886.9 1637.9L1886.1 1639.3L1885.4 1640.8L1884 1641.9L1882.4 1642.7L1880.8 1643.1L1879.1 1642.7L1880.5 1642.2L1881.2 1641L1882.4 1640.4L1883.9 1639.8L1883.9 1638.4L1884.3 1637.1L1884.6 1635.6L1885 1634.3L1885.5 1632.4L1886.9 1631L1887.5 1629.2L1887.4 1627.5L1887.1 1625.6L1886 1624.3L1884.9 1625.4L1884.3 1627.3L1883.2 1629L1882.3 1630.3L1881.7 1632L1879.8 1632.2L1878.4 1633.4L1877 1634.6L1875.6 1635.8L1874.7 1637.3L1873.7 1638.6L1873.1 1640L1872.8 1641.4L1871.4 1641.4L1870.1 1640.9L1868.7 1640.4L1867.3 1639.8L1866.3 1638.5L1867.3 1637.4L1868.7 1637.1L1868 1635.6L1866.7 1634.6L1866.3 1633.2L1865.3 1632.1L1864 1631.2L1863.7 1629.6L1862.2 1628.6L1860.2 1628.1L1861 1627L1860.8 1625.8L1859.8 1624.6L1858.9 1623.2L1857.1 1622.8L1855.6 1621.8L1854.4 1620.9L1853 1620.8L1851.6 1620.6L1849.9 1620.3L1848.3 1620.4L1846.8 1620.9L1845.2 1620.4L1844.1 1619.2L1842.7 1618.5L1841 1618.1L1839.6 1617.4L1837.9 1617.6L1836.3 1618.3L1834.9 1618.2L1833.5 1617.9L1832.1 1618.2L1830.7 1618.2L1829.1 1618.2L1827.5 1618.5L1825.9 1618.3L1824.3 1618.7L1822.5 1619L1820.9 1619.8L1819.5 1620.8L1817.9 1621.6L1816.4 1622.1L1814.6 1621.9L1813.2 1622.1L1811.8 1622.6L1810.5 1623.2L1809 1623.4L1807.7 1623L1806.3 1623L1804.9 1622.8L1803.4 1622.7L1801.9 1623.2L1800.8 1624.3L1799.3 1624.9L1797.7 1625.1L1796.1 1625.6L1794.5 1626.3L1793.1 1627.5L1792 1628.3L1790.7 1628.6L1789.9 1629.8L1788.9 1630.9L1788.5 1632.4L1787.4 1633.3L1786 1634.5L1784.2 1635.1L1782.6 1634.4L1781 1634.1L1779.6 1634.3L1778.3 1634.8L1777 1635L1775.7 1634.8L1774.6 1634.2L1773.3 1633.8L1771.9 1633.5L1770.6 1634L1769.2 1634.3L1767.7 1633.8L1766.3 1634.2L1764.9 1634.4L1763.4 1635L1761.8 1634.9L1760.2 1635L1758.9 1635.8L1758.1 1637.2L1756.9 1638.1L1755.5 1637.9L1754.3 1638.9L1752.9 1638.9L1751.5 1639.7L1750 1640.5L1748.9 1641.8L1747.6 1642.3L1746.4 1643L1744.9 1642.8L1743.3 1643.3L1741.7 1643.1L1740.1 1642.5L1738.8 1642.3L1737.5 1641.8L1736 1641.9L1734.6 1640.7L1732.7 1640.3L1731.5 1639.4L1730.5 1638.1L1728.8 1638.2L1727.2 1637.4L1727.3 1636.1L1727 1634.9L1726.7 1633.5L1726.9 1632L1728.4 1632.5L1729.8 1632.1L1730.8 1631.3L1730.9 1629.8L1731.8 1628.5L1731.9 1626.9L1732.3 1625.3L1732.5 1624L1732.5 1622.7L1732.1 1621.3L1731.8 1619.6L1730.8 1618.2L1729.9 1616.6L1729.2 1614.9L1728.9 1613.1L1727.9 1611.7L1727.2 1610.4L1727 1609L1726.8 1607.7L1726.7 1606.3L1726.8 1605L1726.8 1603.7L1725.8 1602.2L1725.3 1600.5L1724.9 1599.1L1724 1598L1723.4 1596.8L1722.5 1595.6L1721.4 1594.6L1721 1593.2L1721 1591.8L1720.1 1590.6L1719.8 1589.4L1719.4 1588L1718.8 1586.8L1718.1 1585.6ZM1933.4 1679.1L1934.4 1680.4L1935.7 1681.6L1937.2 1681.6L1938.6 1681.8L1939.8 1682.6L1941.6 1682.9L1943.2 1683.8L1945 1684L1946.7 1683.6L1948.5 1683.2L1950.2 1682.8L1951.5 1682.1L1953 1682L1954.3 1681.5L1955.8 1681.7L1957.6 1680.9L1959.3 1681.1L1959.8 1682.4L1959.2 1683.8L1959.5 1685.1L1959.4 1686.5L1958.8 1687.8L1959.3 1689.1L1959.3 1690.5L1958.3 1691.8L1958.6 1693.1L1958 1695L1956.4 1696.2L1955.4 1697.3L1955 1698.9L1953.4 1699.2L1951.9 1699.7L1950.5 1700.5L1949 1701.1L1947.6 1701.5L1946.2 1701.1L1944.4 1701L1942.8 1700.1L1942 1698.3L1940.5 1697.2L1939.7 1695.8L1939 1694.4L1938.2 1693.1L1937.4 1691.8L1936.4 1690.7L1936.3 1689.1L1935.9 1687.6L1935.2 1686.2L1934.2 1685.1L1933.4 1683.6L1932.9 1681.9L1933.3 1680.5ZM1832.2 1479.8L1832.9 1478.6L1833.3 1477.2L1833.4 1476L1835.4 1476.3L1837.1 1477.3L1838.7 1476.9L1840.3 1476.9L1842 1476.7L1843.4 1475.6L1845.1 1475.4L1846.4 1474.7L1847.8 1474.4L1849.2 1474.2L1849.7 1476L1850.7 1477.4L1849.9 1478.8L1848.4 1479.5L1846.8 1480L1845.1 1479.6L1843.4 1480.1L1842.5 1481L1841.9 1482.4L1843.3 1482.6L1844.7 1482.9L1846.1 1482.8L1847.5 1482.5L1849.1 1482.1L1850.4 1481L1850.8 1479.3L1850.8 1477.4"/>
<g fill="#000" stroke-width="0.8"><ellipse cx="1928.5" cy="1675.5" rx="1.8" ry="2.6"/><ellipse cx="1957.8" cy="1677.1" rx="2.4" ry="3.1"/><ellipse cx="1880.8" cy="1647.8" rx="4.4" ry="1.3"/><ellipse cx="1877.6" cy="1495.7" rx="1.9" ry="1.8"/><ellipse cx="1729.7" cy="1543" rx="1.2" ry="1"/><ellipse cx="1916.4" cy="1468.8" rx="1.9" ry="1.2"/><path d="M1711.6 1575.3L1714.4 1574.9L1716.8 1577.7L1721.3 1577.7L1722.9 1580.9L1721.8 1584.2L1717.8 1585.8L1715.2 1582.5L1712.8 1578.5Z"/><path d="M1930.5 1664.3L1932.5 1662.3L1935.4 1661.5L1938.2 1663.5L1940.6 1665.5L1939 1666.3L1935 1664.4L1931.7 1665.5Z"/><path d="M1879.2 1640.6L1883.6 1639.4L1885.2 1641L1882.4 1643L1879.6 1643Z"/><path d="M1833.1 1475.8L1836.3 1475L1839.5 1477.4L1837.1 1479.4L1833.1 1480.2L1831.9 1478.2Z"/><path d="M1895.3 1513.4L1898.5 1512.6L1899 1513.9L1896.9 1515Z"/><path d="M1991.1 1570.4L1993.1 1568.8L1993.9 1573.7L1992.7 1577.7L1991.5 1575.3Z"/><path d="M1991.1 1585.7L1995.1 1586.5L1995.9 1591.3L1993.5 1590.5L1991.9 1588.9Z"/></g></g>
</g>
</svg>
</body>
</html>
